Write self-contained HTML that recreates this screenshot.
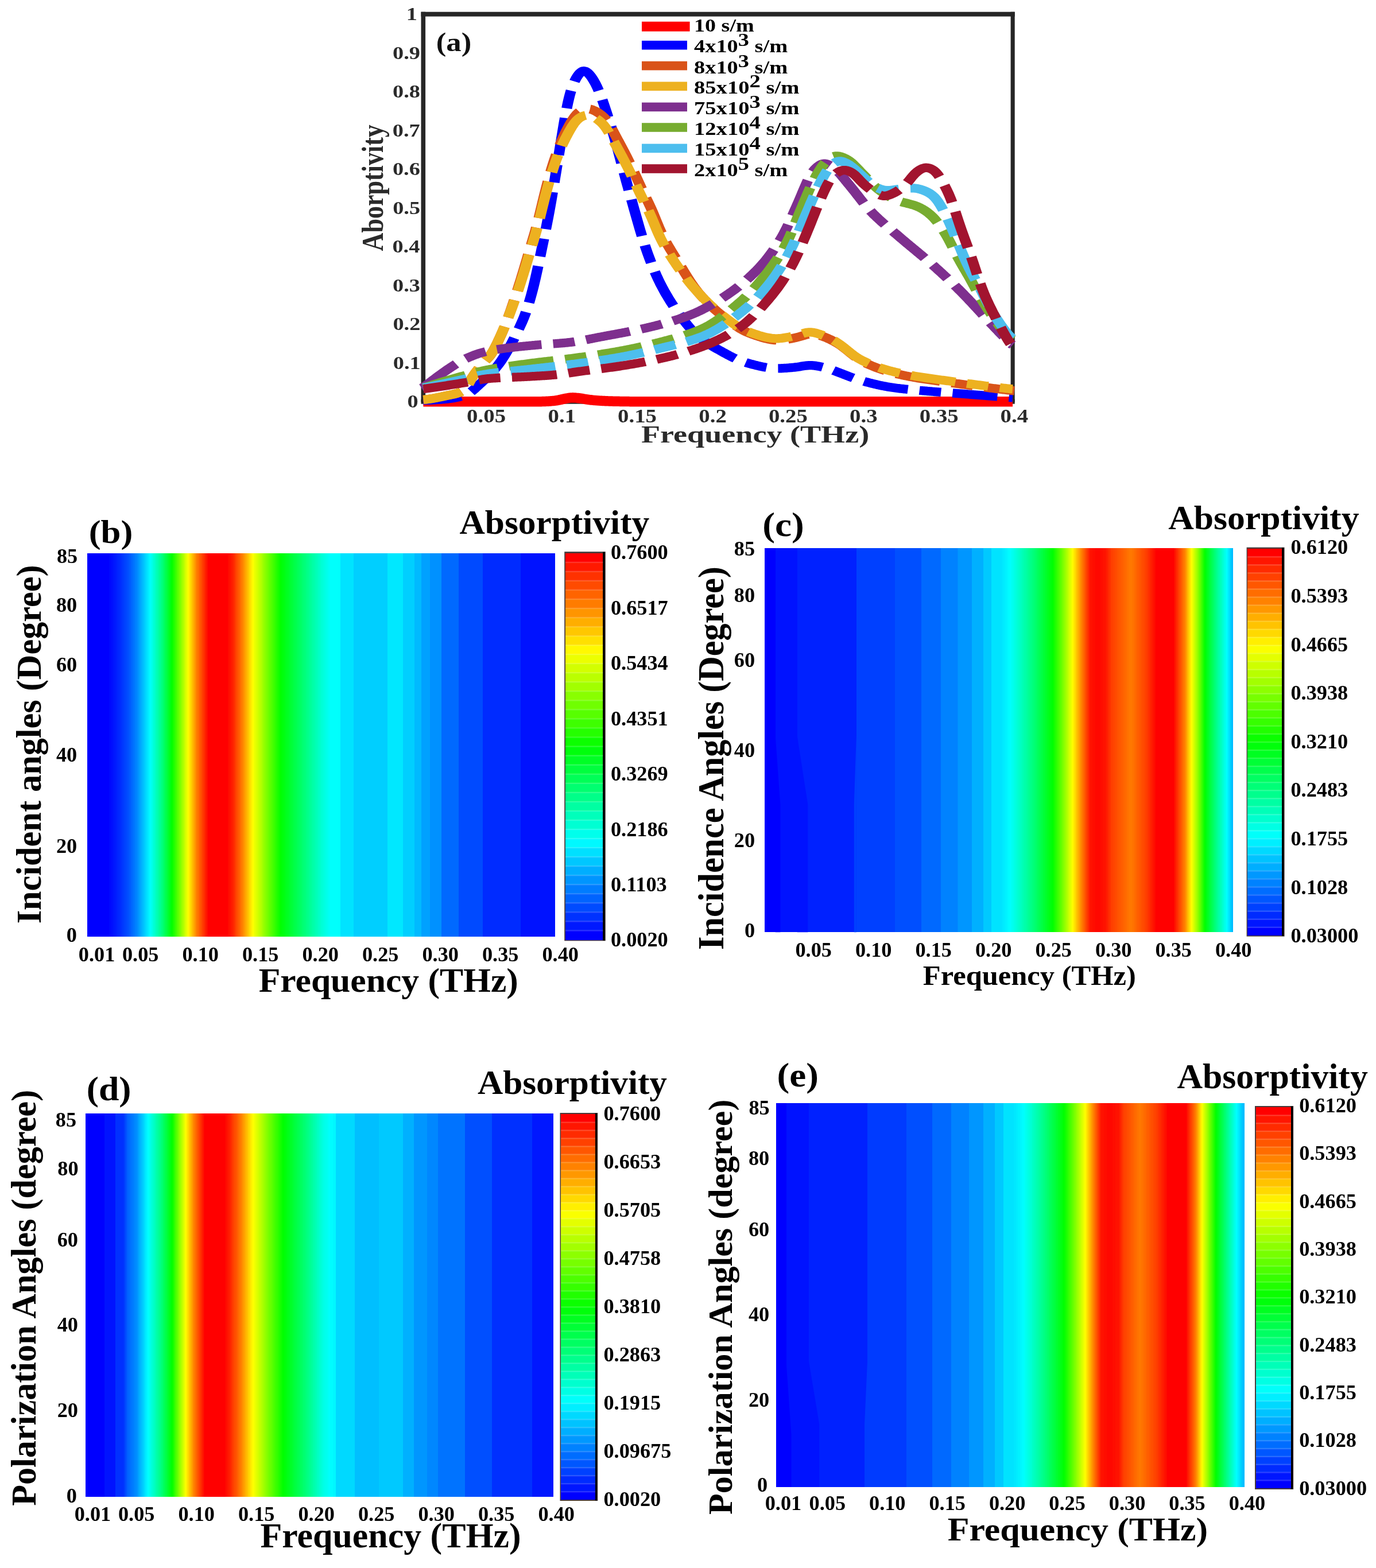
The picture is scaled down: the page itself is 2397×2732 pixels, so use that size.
<!DOCTYPE html>
<html lang="en"><head><meta charset="utf-8"><title>Absorptivity figure</title>
<style>
html,body{margin:0;padding:0;background:#fff;}
svg{display:block;font-family:"Liberation Serif",serif;font-weight:bold;}
</style></head>
<body>
<svg width="2397" height="2732" viewBox="0 0 2397 2732">
<rect width="2397" height="2732" fill="#fff"/>
<g fill="#262626">
<rect x="733.5" y="20.7" width="1034.2" height="8"/>
<rect x="733.5" y="20.7" width="7.6" height="680"/>
<rect x="1760.6" y="20.7" width="7.1" height="680"/>
<rect x="733.5" y="695.7" width="1034.2" height="8"/>
</g>
<g transform="scale(1.2,1)" stroke-linecap="butt" stroke-linejoin="round">
<path d="M614.50,699.70 L615.93,699.70 L617.36,699.70 L618.78,699.70 L620.21,699.70 L621.64,699.70 L623.07,699.70 L624.50,699.70 L625.93,699.70 L627.35,699.70 L628.78,699.70 L630.21,699.70 L631.64,699.70 L633.07,699.70 L634.49,699.70 L635.92,699.70 L637.35,699.70 L638.78,699.70 L640.21,699.70 L641.64,699.70 L643.06,699.70 L644.49,699.70 L645.92,699.70 L647.35,699.70 L648.78,699.70 L650.21,699.70 L651.63,699.70 L653.06,699.70 L654.49,699.70 L655.92,699.70 L657.35,699.70 L658.77,699.70 L660.20,699.70 L661.63,699.70 L663.06,699.70 L664.49,699.70 L665.92,699.70 L667.34,699.70 L668.77,699.70 L670.20,699.70 L671.63,699.70 L673.06,699.70 L674.48,699.70 L675.91,699.70 L677.34,699.70 L678.77,699.70 L680.20,699.70 L681.63,699.70 L683.05,699.70 L684.48,699.70 L685.91,699.70 L687.34,699.70 L688.77,699.70 L690.20,699.70 L691.62,699.70 L693.05,699.70 L694.48,699.70 L695.91,699.70 L697.34,699.70 L698.76,699.70 L700.19,699.70 L701.62,699.70 L703.05,699.70 L704.48,699.70 L705.91,699.70 L707.33,699.70 L708.76,699.70 L710.19,699.70 L711.62,699.70 L713.05,699.70 L714.47,699.70 L715.90,699.70 L717.33,699.70 L718.76,699.70 L720.19,699.70 L721.62,699.70 L723.04,699.70 L724.47,699.70 L725.90,699.70 L727.33,699.70 L728.76,699.70 L730.19,699.70 L731.61,699.70 L733.04,699.70 L734.47,699.70 L735.90,699.70 L737.33,699.70 L738.75,699.70 L740.18,699.70 L741.61,699.70 L743.04,699.70 L744.47,699.70 L745.90,699.70 L747.32,699.70 L748.75,699.70 L750.18,699.70 L751.61,699.70 L753.04,699.70 L754.46,699.70 L755.89,699.70 L757.32,699.70 L758.75,699.70 L760.18,699.70 L761.61,699.70 L763.03,699.70 L764.46,699.70 L765.89,699.70 L767.32,699.70 L768.75,699.70 L770.18,699.70 L771.60,699.70 L773.03,699.70 L774.46,699.70 L775.89,699.70 L777.32,699.70 L778.74,699.70 L780.17,699.69 L781.60,699.69 L783.03,699.67 L784.46,699.66 L785.89,699.63 L787.31,699.59 L788.74,699.55 L790.17,699.49 L791.60,699.43 L793.03,699.35 L794.45,699.26 L795.88,699.17 L797.31,699.06 L798.74,698.95 L800.17,698.82 L801.60,698.67 L803.02,698.51 L804.45,698.32 L805.88,698.10 L807.31,697.85 L808.74,697.57 L810.17,697.26 L811.59,696.92 L813.02,696.56 L814.45,696.18 L815.88,695.81 L817.31,695.43 L818.73,695.06 L820.16,694.69 L821.59,694.34 L823.02,694.00 L824.45,693.69 L825.88,693.41 L827.30,693.18 L828.73,693.01 L830.16,692.90 L831.59,692.87 L833.02,692.90 L834.44,692.99 L835.87,693.14 L837.30,693.32 L838.73,693.53 L840.16,693.75 L841.59,693.99 L843.01,694.24 L844.44,694.49 L845.87,694.74 L847.30,695.00 L848.73,695.27 L850.16,695.53 L851.58,695.79 L853.01,696.05 L854.44,696.30 L855.87,696.54 L857.30,696.76 L858.72,696.97 L860.15,697.16 L861.58,697.33 L863.01,697.49 L864.44,697.63 L865.87,697.76 L867.29,697.88 L868.72,698.00 L870.15,698.11 L871.58,698.21 L873.01,698.31 L874.43,698.40 L875.86,698.49 L877.29,698.58 L878.72,698.66 L880.15,698.74 L881.58,698.81 L883.00,698.88 L884.43,698.94 L885.86,699.00 L887.29,699.05 L888.72,699.10 L890.15,699.14 L891.57,699.19 L893.00,699.22 L894.43,699.26 L895.86,699.29 L897.29,699.33 L898.71,699.36 L900.14,699.39 L901.57,699.42 L903.00,699.45 L904.43,699.48 L905.86,699.50 L907.28,699.53 L908.71,699.55 L910.14,699.57 L911.57,699.59 L913.00,699.61 L914.42,699.63 L915.85,699.64 L917.28,699.66 L918.71,699.67 L920.14,699.68 L921.57,699.68 L922.99,699.69 L924.42,699.69 L925.85,699.70 L927.28,699.70 L928.71,699.70 L930.14,699.70 L931.56,699.70 L932.99,699.70 L934.42,699.70 L935.85,699.70 L937.28,699.70 L938.70,699.70 L940.13,699.70 L941.56,699.70 L942.99,699.70 L944.42,699.70 L945.85,699.70 L947.27,699.70 L948.70,699.70 L950.13,699.70 L951.56,699.70 L952.99,699.70 L954.41,699.70 L955.84,699.70 L957.27,699.70 L958.70,699.70 L960.13,699.70 L961.56,699.70 L962.98,699.70 L964.41,699.70 L965.84,699.70 L967.27,699.70 L968.70,699.70 L970.13,699.70 L971.55,699.70 L972.98,699.70 L974.41,699.70 L975.84,699.70 L977.27,699.70 L978.69,699.70 L980.12,699.70 L981.55,699.70 L982.98,699.70 L984.41,699.70 L985.84,699.70 L987.26,699.70 L988.69,699.70 L990.12,699.70 L991.55,699.70 L992.98,699.70 L994.40,699.70 L995.83,699.70 L997.26,699.70 L998.69,699.70 L1000.12,699.70 L1001.55,699.70 L1002.97,699.70 L1004.40,699.70 L1005.83,699.70 L1007.26,699.70 L1008.69,699.70 L1010.12,699.70 L1011.54,699.70 L1012.97,699.70 L1014.40,699.70 L1015.83,699.70 L1017.26,699.70 L1018.68,699.70 L1020.11,699.70 L1021.54,699.70 L1022.97,699.70 L1024.40,699.70 L1025.83,699.70 L1027.25,699.70 L1028.68,699.70 L1030.11,699.70 L1031.54,699.70 L1032.97,699.70 L1034.39,699.70 L1035.82,699.70 L1037.25,699.70 L1038.68,699.70 L1040.11,699.70 L1041.54,699.70 L1042.96,699.70 L1044.39,699.70 L1045.82,699.70 L1047.25,699.70 L1048.68,699.70 L1050.11,699.70 L1051.53,699.70 L1052.96,699.70 L1054.39,699.70 L1055.82,699.70 L1057.25,699.70 L1058.67,699.70 L1060.10,699.70 L1061.53,699.70 L1062.96,699.70 L1064.39,699.70 L1065.82,699.70 L1067.24,699.70 L1068.67,699.70 L1070.10,699.70 L1071.53,699.70 L1072.96,699.70 L1074.38,699.70 L1075.81,699.70 L1077.24,699.70 L1078.67,699.70 L1080.10,699.70 L1081.53,699.70 L1082.95,699.70 L1084.38,699.70 L1085.81,699.70 L1087.24,699.70 L1088.67,699.70 L1090.10,699.70 L1091.52,699.70 L1092.95,699.70 L1094.38,699.70 L1095.81,699.70 L1097.24,699.70 L1098.66,699.70 L1100.09,699.70 L1101.52,699.70 L1102.95,699.70 L1104.38,699.70 L1105.81,699.70 L1107.23,699.70 L1108.66,699.70 L1110.09,699.70 L1111.52,699.70 L1112.95,699.70 L1114.37,699.70 L1115.80,699.70 L1117.23,699.70 L1118.66,699.70 L1120.09,699.70 L1121.52,699.70 L1122.94,699.70 L1124.37,699.70 L1125.80,699.70 L1127.23,699.70 L1128.66,699.70 L1130.09,699.70 L1131.51,699.70 L1132.94,699.70 L1134.37,699.70 L1135.80,699.70 L1137.23,699.70 L1138.65,699.70 L1140.08,699.70 L1141.51,699.70 L1142.94,699.70 L1144.37,699.70 L1145.80,699.70 L1147.22,699.70 L1148.65,699.70 L1150.08,699.70 L1151.51,699.70 L1152.94,699.70 L1154.36,699.70 L1155.79,699.70 L1157.22,699.70 L1158.65,699.70 L1160.08,699.70 L1161.51,699.70 L1162.93,699.70 L1164.36,699.70 L1165.79,699.70 L1167.22,699.70 L1168.65,699.70 L1170.08,699.70 L1171.50,699.70 L1172.93,699.70 L1174.36,699.70 L1175.79,699.70 L1177.22,699.70 L1178.64,699.70 L1180.07,699.70 L1181.50,699.70 L1182.93,699.70 L1184.36,699.70 L1185.79,699.70 L1187.21,699.70 L1188.64,699.70 L1190.07,699.70 L1191.50,699.70 L1192.93,699.70 L1194.35,699.70 L1195.78,699.70 L1197.21,699.70 L1198.64,699.70 L1200.07,699.70 L1201.50,699.70 L1202.92,699.70 L1204.35,699.70 L1205.78,699.70 L1207.21,699.70 L1208.64,699.70 L1210.07,699.70 L1211.49,699.70 L1212.92,699.70 L1214.35,699.70 L1215.78,699.70 L1217.21,699.70 L1218.63,699.70 L1220.06,699.70 L1221.49,699.70 L1222.92,699.70 L1224.35,699.70 L1225.78,699.70 L1227.20,699.70 L1228.63,699.70 L1230.06,699.70 L1231.49,699.70 L1232.92,699.70 L1234.34,699.70 L1235.77,699.70 L1237.20,699.70 L1238.63,699.70 L1240.06,699.70 L1241.49,699.70 L1242.91,699.70 L1244.34,699.70 L1245.77,699.70 L1247.20,699.70 L1248.63,699.70 L1250.06,699.70 L1251.48,699.70 L1252.91,699.70 L1254.34,699.70 L1255.77,699.70 L1257.20,699.70 L1258.62,699.70 L1260.05,699.70 L1261.48,699.70 L1262.91,699.70 L1264.34,699.70 L1265.77,699.70 L1267.19,699.70 L1268.62,699.70 L1270.05,699.70 L1271.48,699.70 L1272.91,699.70 L1274.33,699.70 L1275.76,699.70 L1277.19,699.70 L1278.62,699.70 L1280.05,699.70 L1281.48,699.70 L1282.90,699.70 L1284.33,699.70 L1285.76,699.70 L1287.19,699.70 L1288.62,699.70 L1290.05,699.70 L1291.47,699.70 L1292.90,699.70 L1294.33,699.70 L1295.76,699.70 L1297.19,699.70 L1298.61,699.70 L1300.04,699.70 L1301.47,699.70 L1302.90,699.70 L1304.33,699.70 L1305.76,699.70 L1307.18,699.70 L1308.61,699.70 L1310.04,699.70 L1311.47,699.70 L1312.90,699.70 L1314.32,699.70 L1315.75,699.70 L1317.18,699.70 L1318.61,699.70 L1320.04,699.70 L1321.47,699.70 L1322.89,699.70 L1324.32,699.70 L1325.75,699.70 L1327.18,699.70 L1328.61,699.70 L1330.04,699.70 L1331.46,699.70 L1332.89,699.70 L1334.32,699.70 L1335.75,699.70 L1337.18,699.70 L1338.60,699.70 L1340.03,699.70 L1341.46,699.70 L1342.89,699.70 L1344.32,699.70 L1345.75,699.70 L1347.17,699.70 L1348.60,699.70 L1350.03,699.70 L1351.46,699.70 L1352.89,699.70 L1354.31,699.70 L1355.74,699.70 L1357.17,699.70 L1358.60,699.70 L1360.03,699.70 L1361.46,699.70 L1362.88,699.70 L1364.31,699.70 L1365.74,699.70 L1367.17,699.70 L1368.60,699.70 L1370.03,699.70 L1371.45,699.70 L1372.88,699.70 L1374.31,699.70 L1375.74,699.70 L1377.17,699.70 L1378.59,699.70 L1380.02,699.70 L1381.45,699.70 L1382.88,699.70 L1384.31,699.70 L1385.74,699.70 L1387.16,699.70 L1388.59,699.70 L1390.02,699.70 L1391.45,699.70 L1392.88,699.70 L1394.30,699.70 L1395.73,699.70 L1397.16,699.70 L1398.59,699.70 L1400.02,699.70 L1401.45,699.70 L1402.87,699.70 L1404.30,699.70 L1405.73,699.70 L1407.16,699.70 L1408.59,699.70 L1410.02,699.70 L1411.44,699.70 L1412.87,699.70 L1414.30,699.70 L1415.73,699.70 L1417.16,699.70 L1418.58,699.70 L1420.01,699.70 L1421.44,699.70 L1422.87,699.70 L1424.30,699.70 L1425.73,699.70 L1427.15,699.70 L1428.58,699.70 L1430.01,699.70 L1431.44,699.70 L1432.87,699.70 L1434.29,699.70 L1435.72,699.70 L1437.15,699.70 L1438.58,699.70 L1440.01,699.70 L1441.44,699.70 L1442.86,699.70 L1444.29,699.70 L1445.72,699.70 L1447.15,699.70 L1448.58,699.70 L1450.01,699.70 L1451.43,699.70 L1452.86,699.70 L1454.29,699.70 L1455.72,699.70 L1457.15,699.70 L1458.57,699.70 L1460.00,699.70 L1461.43,699.70 L1462.86,699.70 L1464.29,699.70 L1465.72,699.70 L1467.14,699.70 L1468.57,699.70 L1470.00,699.70" fill="none" stroke="#ff0000" stroke-width="17.5"/>
<path d="M614.50,697.48 L615.93,697.46 L617.36,697.44 L618.78,697.41 L620.21,697.38 L621.64,697.33 L623.07,697.28 L624.50,697.21 L625.93,697.14 L627.35,697.06 L628.78,696.98 L630.21,696.88 L631.64,696.78 L633.07,696.67 L634.49,696.56 L635.92,696.43 L637.35,696.31 L638.78,696.18 L640.21,696.04 L641.64,695.90 L643.06,695.75 L644.49,695.60 L645.92,695.44 L647.35,695.27 L648.78,695.10 L650.21,694.92 L651.63,694.72 L653.06,694.51 L654.49,694.27 L655.92,694.02 L657.35,693.75 L658.77,693.45 L660.20,693.13 L661.63,692.78 L663.06,692.41 L664.49,692.02 L665.92,691.60 L667.34,691.15 L668.77,690.68 L670.20,690.19 L671.63,689.66 L673.06,689.10 L674.48,688.49 L675.91,687.84 L677.34,687.11 L678.77,686.31 L680.20,685.41 L681.63,684.39 L683.05,683.27 L684.48,682.04 L685.91,680.71 L687.34,679.29 L688.77,677.81 L690.20,676.28 L691.62,674.72 L693.05,673.14 L694.48,671.56 L695.91,669.98 L697.34,668.40 L698.76,666.82 L700.19,665.24 L701.62,663.66 L703.05,662.06 L704.48,660.44 L705.91,658.81 L707.33,657.14 L708.76,655.45 L710.19,653.73 L711.62,651.97 L713.05,650.17 L714.47,648.33 L715.90,646.43 L717.33,644.49 L718.76,642.49 L720.19,640.43 L721.62,638.30 L723.04,636.10 L724.47,633.83 L725.90,631.47 L727.33,629.02 L728.76,626.49 L730.19,623.87 L731.61,621.17 L733.04,618.39 L734.47,615.54 L735.90,612.61 L737.33,609.62 L738.75,606.56 L740.18,603.45 L741.61,600.29 L743.04,597.08 L744.47,593.83 L745.90,590.53 L747.32,587.20 L748.75,583.82 L750.18,580.41 L751.61,576.94 L753.04,573.41 L754.46,569.81 L755.89,566.11 L757.32,562.29 L758.75,558.34 L760.18,554.22 L761.61,549.90 L763.03,545.36 L764.46,540.57 L765.89,535.51 L767.32,530.15 L768.75,524.50 L770.18,518.56 L771.60,512.33 L773.03,505.82 L774.46,499.05 L775.89,492.01 L777.32,484.72 L778.74,477.17 L780.17,469.39 L781.60,461.41 L783.03,453.30 L784.46,445.09 L785.89,436.86 L787.31,428.63 L788.74,420.41 L790.17,412.18 L791.60,403.88 L793.03,395.44 L794.45,386.81 L795.88,377.93 L797.31,368.77 L798.74,359.34 L800.17,349.66 L801.60,339.75 L803.02,329.66 L804.45,319.42 L805.88,309.06 L807.31,298.64 L808.74,288.16 L810.17,277.65 L811.59,267.14 L813.02,256.62 L814.45,246.12 L815.88,235.66 L817.31,225.30 L818.73,215.12 L820.16,205.26 L821.59,195.84 L823.02,187.01 L824.45,178.86 L825.88,171.46 L827.30,164.78 L828.73,158.81 L830.16,153.48 L831.59,148.73 L833.02,144.51 L834.44,140.75 L835.87,137.42 L837.30,134.46 L838.73,131.85 L840.16,129.56 L841.59,127.61 L843.01,126.02 L844.44,124.82 L845.87,124.04 L847.30,123.70 L848.73,123.81 L850.16,124.36 L851.58,125.31 L853.01,126.62 L854.44,128.25 L855.87,130.13 L857.30,132.25 L858.72,134.58 L860.15,137.10 L861.58,139.84 L863.01,142.79 L864.44,145.96 L865.87,149.37 L867.29,152.99 L868.72,156.84 L870.15,160.91 L871.58,165.18 L873.01,169.66 L874.43,174.33 L875.86,179.18 L877.29,184.17 L878.72,189.28 L880.15,194.48 L881.58,199.75 L883.00,205.06 L884.43,210.43 L885.86,215.85 L887.29,221.34 L888.72,226.91 L890.15,232.58 L891.57,238.35 L893.00,244.25 L894.43,250.26 L895.86,256.40 L897.29,262.66 L898.71,269.00 L900.14,275.40 L901.57,281.84 L903.00,288.28 L904.43,294.71 L905.86,301.09 L907.28,307.43 L908.71,313.71 L910.14,319.94 L911.57,326.12 L913.00,332.27 L914.42,338.38 L915.85,344.46 L917.28,350.53 L918.71,356.59 L920.14,362.64 L921.57,368.69 L922.99,374.74 L924.42,380.78 L925.85,386.80 L927.28,392.77 L928.71,398.68 L930.14,404.49 L931.56,410.18 L932.99,415.73 L934.42,421.14 L935.85,426.39 L937.28,431.50 L938.70,436.46 L940.13,441.30 L941.56,446.02 L942.99,450.63 L944.42,455.14 L945.85,459.55 L947.27,463.86 L948.70,468.07 L950.13,472.17 L951.56,476.16 L952.99,480.03 L954.41,483.80 L955.84,487.45 L957.27,491.00 L958.70,494.45 L960.13,497.79 L961.56,501.05 L962.98,504.23 L964.41,507.33 L965.84,510.37 L967.27,513.33 L968.70,516.24 L970.13,519.08 L971.55,521.87 L972.98,524.60 L974.41,527.28 L975.84,529.91 L977.27,532.50 L978.69,535.04 L980.12,537.54 L981.55,540.00 L982.98,542.43 L984.41,544.82 L985.84,547.18 L987.26,549.52 L988.69,551.83 L990.12,554.12 L991.55,556.38 L992.98,558.61 L994.40,560.82 L995.83,563.00 L997.26,565.14 L998.69,567.24 L1000.12,569.30 L1001.55,571.31 L1002.97,573.26 L1004.40,575.16 L1005.83,577.00 L1007.26,578.78 L1008.69,580.49 L1010.12,582.14 L1011.54,583.72 L1012.97,585.24 L1014.40,586.70 L1015.83,588.12 L1017.26,589.48 L1018.68,590.81 L1020.11,592.10 L1021.54,593.35 L1022.97,594.57 L1024.40,595.76 L1025.83,596.92 L1027.25,598.05 L1028.68,599.16 L1030.11,600.25 L1031.54,601.31 L1032.97,602.36 L1034.39,603.39 L1035.82,604.40 L1037.25,605.40 L1038.68,606.39 L1040.11,607.36 L1041.54,608.33 L1042.96,609.30 L1044.39,610.26 L1045.82,611.21 L1047.25,612.17 L1048.68,613.12 L1050.11,614.06 L1051.53,615.00 L1052.96,615.94 L1054.39,616.87 L1055.82,617.78 L1057.25,618.69 L1058.67,619.59 L1060.10,620.47 L1061.53,621.34 L1062.96,622.20 L1064.39,623.04 L1065.82,623.85 L1067.24,624.65 L1068.67,625.43 L1070.10,626.19 L1071.53,626.92 L1072.96,627.62 L1074.38,628.30 L1075.81,628.95 L1077.24,629.57 L1078.67,630.17 L1080.10,630.73 L1081.53,631.27 L1082.95,631.79 L1084.38,632.29 L1085.81,632.78 L1087.24,633.26 L1088.67,633.73 L1090.10,634.19 L1091.52,634.65 L1092.95,635.11 L1094.38,635.56 L1095.81,636.00 L1097.24,636.43 L1098.66,636.86 L1100.09,637.28 L1101.52,637.68 L1102.95,638.08 L1104.38,638.46 L1105.81,638.83 L1107.23,639.18 L1108.66,639.52 L1110.09,639.83 L1111.52,640.13 L1112.95,640.41 L1114.37,640.67 L1115.80,640.91 L1117.23,641.12 L1118.66,641.31 L1120.09,641.47 L1121.52,641.61 L1122.94,641.72 L1124.37,641.80 L1125.80,641.86 L1127.23,641.90 L1128.66,641.90 L1130.09,641.89 L1131.51,641.86 L1132.94,641.81 L1134.37,641.75 L1135.80,641.67 L1137.23,641.59 L1138.65,641.49 L1140.08,641.38 L1141.51,641.26 L1142.94,641.13 L1144.37,641.00 L1145.80,640.86 L1147.22,640.72 L1148.65,640.57 L1150.08,640.41 L1151.51,640.25 L1152.94,640.08 L1154.36,639.89 L1155.79,639.68 L1157.22,639.45 L1158.65,639.21 L1160.08,638.94 L1161.51,638.66 L1162.93,638.37 L1164.36,638.09 L1165.79,637.80 L1167.22,637.54 L1168.65,637.29 L1170.08,637.08 L1171.50,636.90 L1172.93,636.76 L1174.36,636.68 L1175.79,636.64 L1177.22,636.65 L1178.64,636.72 L1180.07,636.83 L1181.50,636.98 L1182.93,637.18 L1184.36,637.41 L1185.79,637.67 L1187.21,637.96 L1188.64,638.27 L1190.07,638.60 L1191.50,638.95 L1192.93,639.31 L1194.35,639.70 L1195.78,640.11 L1197.21,640.54 L1198.64,641.00 L1200.07,641.50 L1201.50,642.03 L1202.92,642.58 L1204.35,643.16 L1205.78,643.76 L1207.21,644.37 L1208.64,644.99 L1210.07,645.61 L1211.49,646.24 L1212.92,646.87 L1214.35,647.50 L1215.78,648.13 L1217.21,648.77 L1218.63,649.42 L1220.06,650.08 L1221.49,650.74 L1222.92,651.41 L1224.35,652.08 L1225.78,652.75 L1227.20,653.42 L1228.63,654.10 L1230.06,654.77 L1231.49,655.44 L1232.92,656.10 L1234.34,656.75 L1235.77,657.39 L1237.20,658.03 L1238.63,658.65 L1240.06,659.25 L1241.49,659.84 L1242.91,660.42 L1244.34,660.97 L1245.77,661.51 L1247.20,662.04 L1248.63,662.55 L1250.06,663.04 L1251.48,663.53 L1252.91,664.01 L1254.34,664.48 L1255.77,664.95 L1257.20,665.41 L1258.62,665.87 L1260.05,666.32 L1261.48,666.76 L1262.91,667.20 L1264.34,667.64 L1265.77,668.07 L1267.19,668.49 L1268.62,668.91 L1270.05,669.32 L1271.48,669.72 L1272.91,670.12 L1274.33,670.51 L1275.76,670.89 L1277.19,671.27 L1278.62,671.63 L1280.05,671.99 L1281.48,672.34 L1282.90,672.68 L1284.33,673.01 L1285.76,673.33 L1287.19,673.64 L1288.62,673.95 L1290.05,674.24 L1291.47,674.52 L1292.90,674.79 L1294.33,675.05 L1295.76,675.31 L1297.19,675.55 L1298.61,675.79 L1300.04,676.01 L1301.47,676.24 L1302.90,676.45 L1304.33,676.66 L1305.76,676.86 L1307.18,677.06 L1308.61,677.26 L1310.04,677.45 L1311.47,677.63 L1312.90,677.81 L1314.32,677.99 L1315.75,678.16 L1317.18,678.33 L1318.61,678.50 L1320.04,678.66 L1321.47,678.82 L1322.89,678.98 L1324.32,679.14 L1325.75,679.29 L1327.18,679.45 L1328.61,679.60 L1330.04,679.75 L1331.46,679.90 L1332.89,680.04 L1334.32,680.19 L1335.75,680.34 L1337.18,680.49 L1338.60,680.64 L1340.03,680.78 L1341.46,680.93 L1342.89,681.08 L1344.32,681.23 L1345.75,681.38 L1347.17,681.53 L1348.60,681.67 L1350.03,681.82 L1351.46,681.97 L1352.89,682.11 L1354.31,682.25 L1355.74,682.40 L1357.17,682.54 L1358.60,682.68 L1360.03,682.82 L1361.46,682.96 L1362.88,683.09 L1364.31,683.23 L1365.74,683.37 L1367.17,683.50 L1368.60,683.63 L1370.03,683.77 L1371.45,683.90 L1372.88,684.03 L1374.31,684.16 L1375.74,684.30 L1377.17,684.43 L1378.59,684.56 L1380.02,684.69 L1381.45,684.81 L1382.88,684.94 L1384.31,685.07 L1385.74,685.20 L1387.16,685.33 L1388.59,685.46 L1390.02,685.58 L1391.45,685.71 L1392.88,685.84 L1394.30,685.97 L1395.73,686.10 L1397.16,686.22 L1398.59,686.35 L1400.02,686.48 L1401.45,686.61 L1402.87,686.74 L1404.30,686.87 L1405.73,687.00 L1407.16,687.13 L1408.59,687.26 L1410.02,687.39 L1411.44,687.52 L1412.87,687.65 L1414.30,687.78 L1415.73,687.91 L1417.16,688.05 L1418.58,688.18 L1420.01,688.31 L1421.44,688.45 L1422.87,688.58 L1424.30,688.71 L1425.73,688.85 L1427.15,688.98 L1428.58,689.12 L1430.01,689.25 L1431.44,689.38 L1432.87,689.52 L1434.29,689.65 L1435.72,689.79 L1437.15,689.92 L1438.58,690.05 L1440.01,690.19 L1441.44,690.32 L1442.86,690.45 L1444.29,690.59 L1445.72,690.72 L1447.15,690.86 L1448.58,690.99 L1450.01,691.12 L1451.43,691.26 L1452.86,691.39 L1454.29,691.53 L1455.72,691.66 L1457.15,691.79 L1458.57,691.93 L1460.00,692.06 L1461.43,692.19 L1462.86,692.32 L1464.29,692.45 L1465.72,692.57 L1467.14,692.68 L1468.57,692.77 L1470.00,692.85" fill="none" stroke="#0000ff" stroke-width="15.3" stroke-dasharray="65.3 16.9 31.4 16.9" stroke-dashoffset="10"/>
<path d="M614.50,696.37 L615.93,696.25 L617.36,696.10 L618.80,695.92 L620.23,695.71 L621.66,695.48 L623.09,695.24 L624.53,694.98 L625.96,694.71 L627.39,694.43 L628.82,694.13 L630.26,693.83 L631.69,693.51 L633.12,693.19 L634.55,692.86 L635.99,692.52 L637.42,692.17 L638.85,691.81 L640.28,691.45 L641.72,691.08 L643.15,690.72 L644.58,690.35 L646.01,689.98 L647.44,689.62 L648.88,689.27 L650.31,688.91 L651.74,688.57 L653.17,688.22 L654.61,687.87 L656.04,687.51 L657.47,687.14 L658.90,686.75 L660.34,686.33 L661.77,685.88 L663.20,685.39 L664.63,684.86 L666.07,684.28 L667.50,683.64 L668.93,682.91 L670.36,682.08 L671.80,681.10 L673.23,679.89 L674.66,678.39 L676.09,676.51 L677.53,674.23 L678.96,671.55 L680.39,668.56 L681.82,665.41 L683.25,662.26 L684.69,659.24 L686.12,656.42 L687.55,653.83 L688.98,651.41 L690.42,649.10 L691.85,646.83 L693.28,644.57 L694.71,642.29 L696.15,640.00 L697.58,637.76 L699.01,635.59 L700.44,633.54 L701.88,631.63 L703.31,629.85 L704.74,628.15 L706.17,626.49 L707.61,624.78 L709.04,622.97 L710.47,620.98 L711.90,618.79 L713.33,616.36 L714.77,613.69 L716.20,610.79 L717.63,607.70 L719.06,604.44 L720.50,601.04 L721.93,597.54 L723.36,593.95 L724.79,590.28 L726.23,586.54 L727.66,582.71 L729.09,578.79 L730.52,574.77 L731.96,570.65 L733.39,566.41 L734.82,562.06 L736.25,557.60 L737.69,553.03 L739.12,548.35 L740.55,543.57 L741.98,538.69 L743.41,533.72 L744.85,528.68 L746.28,523.56 L747.71,518.38 L749.14,513.13 L750.58,507.83 L752.01,502.48 L753.44,497.06 L754.87,491.59 L756.31,486.05 L757.74,480.44 L759.17,474.78 L760.60,469.06 L762.04,463.29 L763.47,457.51 L764.90,451.71 L766.33,445.92 L767.77,440.14 L769.20,434.39 L770.63,428.66 L772.06,422.93 L773.49,417.19 L774.93,411.39 L776.36,405.49 L777.79,399.44 L779.22,393.21 L780.66,386.75 L782.09,380.07 L783.52,373.19 L784.95,366.14 L786.39,359.00 L787.82,351.84 L789.25,344.75 L790.68,337.78 L792.12,330.97 L793.55,324.35 L794.98,317.91 L796.41,311.64 L797.85,305.56 L799.28,299.64 L800.71,293.90 L802.14,288.34 L803.58,282.96 L805.01,277.76 L806.44,272.75 L807.87,267.90 L809.30,263.22 L810.74,258.71 L812.17,254.34 L813.60,250.14 L815.03,246.08 L816.47,242.17 L817.90,238.40 L819.33,234.76 L820.76,231.24 L822.20,227.82 L823.63,224.49 L825.06,221.24 L826.49,218.07 L827.93,215.00 L829.36,212.05 L830.79,209.23 L832.22,206.58 L833.66,204.12 L835.09,201.87 L836.52,199.85 L837.95,198.05 L839.38,196.47 L840.82,195.10 L842.25,193.91 L843.68,192.88 L845.11,192.00 L846.55,191.25 L847.98,190.65 L849.41,190.19 L850.84,189.87 L852.28,189.71 L853.71,189.70 L855.14,189.84 L856.57,190.11 L858.01,190.52 L859.44,191.05 L860.87,191.69 L862.30,192.43 L863.74,193.26 L865.17,194.18 L866.60,195.18 L868.03,196.25 L869.46,197.39 L870.90,198.59 L872.33,199.88 L873.76,201.25 L875.19,202.74 L876.63,204.36 L878.06,206.16 L879.49,208.16 L880.92,210.37 L882.36,212.80 L883.79,215.44 L885.22,218.25 L886.65,221.22 L888.09,224.30 L889.52,227.47 L890.95,230.68 L892.38,233.90 L893.82,237.13 L895.25,240.34 L896.68,243.54 L898.11,246.73 L899.55,249.92 L900.98,253.11 L902.41,256.33 L903.84,259.57 L905.27,262.84 L906.71,266.15 L908.14,269.49 L909.57,272.86 L911.00,276.27 L912.44,279.73 L913.87,283.22 L915.30,286.76 L916.73,290.36 L918.17,294.00 L919.60,297.69 L921.03,301.42 L922.46,305.19 L923.90,308.97 L925.33,312.77 L926.76,316.55 L928.19,320.32 L929.63,324.06 L931.06,327.76 L932.49,331.41 L933.92,335.02 L935.35,338.58 L936.79,342.12 L938.22,345.64 L939.65,349.16 L941.08,352.72 L942.52,356.32 L943.95,360.00 L945.38,363.78 L946.81,367.66 L948.25,371.65 L949.68,375.74 L951.11,379.92 L952.54,384.14 L953.98,388.37 L955.41,392.56 L956.84,396.67 L958.27,400.67 L959.71,404.52 L961.14,408.22 L962.57,411.77 L964.00,415.17 L965.43,418.44 L966.87,421.61 L968.30,424.68 L969.73,427.68 L971.16,430.60 L972.60,433.48 L974.03,436.32 L975.46,439.12 L976.89,441.90 L978.33,444.68 L979.76,447.44 L981.19,450.21 L982.62,452.99 L984.06,455.78 L985.49,458.58 L986.92,461.39 L988.35,464.21 L989.79,467.03 L991.22,469.84 L992.65,472.65 L994.08,475.44 L995.52,478.22 L996.95,480.97 L998.38,483.69 L999.81,486.37 L1001.24,489.02 L1002.68,491.62 L1004.11,494.17 L1005.54,496.66 L1006.97,499.09 L1008.41,501.45 L1009.84,503.75 L1011.27,505.98 L1012.70,508.14 L1014.14,510.24 L1015.57,512.28 L1017.00,514.27 L1018.43,516.21 L1019.87,518.12 L1021.30,519.98 L1022.73,521.81 L1024.16,523.61 L1025.60,525.38 L1027.03,527.11 L1028.46,528.82 L1029.89,530.50 L1031.32,532.15 L1032.76,533.77 L1034.19,535.37 L1035.62,536.94 L1037.05,538.48 L1038.49,540.00 L1039.92,541.50 L1041.35,542.97 L1042.78,544.42 L1044.22,545.85 L1045.65,547.26 L1047.08,548.65 L1048.51,550.02 L1049.95,551.38 L1051.38,552.72 L1052.81,554.05 L1054.24,555.38 L1055.68,556.69 L1057.11,558.00 L1058.54,559.30 L1059.97,560.59 L1061.40,561.87 L1062.84,563.14 L1064.27,564.39 L1065.70,565.63 L1067.13,566.84 L1068.57,568.03 L1070.00,569.20 L1071.43,570.33 L1072.86,571.43 L1074.30,572.50 L1075.73,573.53 L1077.16,574.51 L1078.59,575.46 L1080.03,576.36 L1081.46,577.21 L1082.89,578.02 L1084.32,578.78 L1085.76,579.51 L1087.19,580.21 L1088.62,580.87 L1090.05,581.52 L1091.48,582.16 L1092.92,582.78 L1094.35,583.40 L1095.78,584.01 L1097.21,584.61 L1098.65,585.20 L1100.08,585.78 L1101.51,586.34 L1102.94,586.89 L1104.38,587.43 L1105.81,587.95 L1107.24,588.46 L1108.67,588.94 L1110.11,589.40 L1111.54,589.84 L1112.97,590.25 L1114.40,590.64 L1115.84,591.01 L1117.27,591.34 L1118.70,591.64 L1120.13,591.92 L1121.57,592.16 L1123.00,592.36 L1124.43,592.53 L1125.86,592.66 L1127.29,592.75 L1128.73,592.81 L1130.16,592.82 L1131.59,592.79 L1133.02,592.72 L1134.46,592.61 L1135.89,592.46 L1137.32,592.28 L1138.75,592.07 L1140.19,591.82 L1141.62,591.55 L1143.05,591.26 L1144.48,590.95 L1145.92,590.63 L1147.35,590.29 L1148.78,589.95 L1150.21,589.59 L1151.65,589.23 L1153.08,588.86 L1154.51,588.49 L1155.94,588.09 L1157.37,587.68 L1158.81,587.24 L1160.24,586.78 L1161.67,586.29 L1163.10,585.77 L1164.54,585.25 L1165.97,584.72 L1167.40,584.20 L1168.83,583.70 L1170.27,583.23 L1171.70,582.81 L1173.13,582.46 L1174.56,582.18 L1176.00,581.98 L1177.43,581.87 L1178.86,581.86 L1180.29,581.94 L1181.73,582.11 L1183.16,582.37 L1184.59,582.70 L1186.02,583.10 L1187.45,583.54 L1188.89,584.03 L1190.32,584.56 L1191.75,585.10 L1193.18,585.67 L1194.62,586.26 L1196.05,586.88 L1197.48,587.52 L1198.91,588.19 L1200.35,588.89 L1201.78,589.62 L1203.21,590.39 L1204.64,591.19 L1206.08,592.01 L1207.51,592.86 L1208.94,593.74 L1210.37,594.64 L1211.81,595.58 L1213.24,596.54 L1214.67,597.53 L1216.10,598.57 L1217.54,599.65 L1218.97,600.78 L1220.40,601.95 L1221.83,603.17 L1223.26,604.44 L1224.70,605.74 L1226.13,607.07 L1227.56,608.43 L1228.99,609.81 L1230.43,611.21 L1231.86,612.61 L1233.29,614.01 L1234.72,615.41 L1236.16,616.80 L1237.59,618.16 L1239.02,619.51 L1240.45,620.82 L1241.89,622.10 L1243.32,623.34 L1244.75,624.53 L1246.18,625.67 L1247.62,626.75 L1249.05,627.79 L1250.48,628.77 L1251.91,629.71 L1253.34,630.62 L1254.78,631.49 L1256.21,632.33 L1257.64,633.16 L1259.07,633.96 L1260.51,634.74 L1261.94,635.51 L1263.37,636.26 L1264.80,637.00 L1266.24,637.72 L1267.67,638.42 L1269.10,639.11 L1270.53,639.78 L1271.97,640.44 L1273.40,641.09 L1274.83,641.72 L1276.26,642.33 L1277.70,642.94 L1279.13,643.52 L1280.56,644.10 L1281.99,644.66 L1283.42,645.21 L1284.86,645.74 L1286.29,646.27 L1287.72,646.78 L1289.15,647.28 L1290.59,647.77 L1292.02,648.25 L1293.45,648.73 L1294.88,649.19 L1296.32,649.64 L1297.75,650.09 L1299.18,650.52 L1300.61,650.95 L1302.05,651.37 L1303.48,651.78 L1304.91,652.19 L1306.34,652.58 L1307.78,652.97 L1309.21,653.36 L1310.64,653.73 L1312.07,654.10 L1313.51,654.46 L1314.94,654.82 L1316.37,655.16 L1317.80,655.51 L1319.23,655.84 L1320.67,656.18 L1322.10,656.50 L1323.53,656.82 L1324.96,657.13 L1326.40,657.44 L1327.83,657.75 L1329.26,658.04 L1330.69,658.34 L1332.13,658.63 L1333.56,658.91 L1334.99,659.19 L1336.42,659.46 L1337.86,659.73 L1339.29,660.00 L1340.72,660.26 L1342.15,660.52 L1343.59,660.78 L1345.02,661.04 L1346.45,661.29 L1347.88,661.54 L1349.31,661.78 L1350.75,662.03 L1352.18,662.27 L1353.61,662.51 L1355.04,662.75 L1356.48,662.99 L1357.91,663.23 L1359.34,663.46 L1360.77,663.70 L1362.21,663.94 L1363.64,664.17 L1365.07,664.41 L1366.50,664.65 L1367.94,664.88 L1369.37,665.12 L1370.80,665.36 L1372.23,665.60 L1373.67,665.83 L1375.10,666.07 L1376.53,666.31 L1377.96,666.55 L1379.39,666.79 L1380.83,667.02 L1382.26,667.26 L1383.69,667.50 L1385.12,667.73 L1386.56,667.97 L1387.99,668.20 L1389.42,668.44 L1390.85,668.67 L1392.29,668.91 L1393.72,669.14 L1395.15,669.37 L1396.58,669.60 L1398.02,669.83 L1399.45,670.07 L1400.88,670.30 L1402.31,670.53 L1403.75,670.76 L1405.18,670.98 L1406.61,671.21 L1408.04,671.44 L1409.47,671.67 L1410.91,671.90 L1412.34,672.12 L1413.77,672.35 L1415.20,672.57 L1416.64,672.80 L1418.07,673.02 L1419.50,673.24 L1420.93,673.47 L1422.37,673.69 L1423.80,673.91 L1425.23,674.13 L1426.66,674.35 L1428.10,674.57 L1429.53,674.79 L1430.96,675.00 L1432.39,675.22 L1433.83,675.44 L1435.26,675.65 L1436.69,675.87 L1438.12,676.08 L1439.56,676.30 L1440.99,676.51 L1442.42,676.72 L1443.85,676.93 L1445.28,677.14 L1446.72,677.35 L1448.15,677.56 L1449.58,677.77 L1451.01,677.98 L1452.45,678.19 L1453.88,678.39 L1455.31,678.60 L1456.74,678.80 L1458.18,679.01 L1459.61,679.21 L1461.04,679.41 L1462.47,679.61 L1463.91,679.81 L1465.34,680.00 L1466.77,680.19 L1468.20,680.37 L1469.64,680.52 L1471.07,680.66 L1472.50,680.77" fill="none" stroke="#d95319" stroke-width="15.3" stroke-dasharray="65.3 16.9 31.4 16.9" stroke-dashoffset="8"/>
<path d="M614.50,696.37 L615.93,696.25 L617.36,696.10 L618.78,695.92 L620.21,695.71 L621.64,695.49 L623.07,695.24 L624.50,694.99 L625.93,694.72 L627.35,694.43 L628.78,694.14 L630.21,693.84 L631.64,693.52 L633.07,693.20 L634.49,692.87 L635.92,692.53 L637.35,692.18 L638.78,691.83 L640.21,691.47 L641.64,691.10 L643.06,690.74 L644.49,690.37 L645.92,690.01 L647.35,689.65 L648.78,689.29 L650.21,688.94 L651.63,688.59 L653.06,688.25 L654.49,687.90 L655.92,687.54 L657.35,687.17 L658.77,686.78 L660.20,686.37 L661.63,685.92 L663.06,685.44 L664.49,684.92 L665.92,684.34 L667.34,683.71 L668.77,683.00 L670.20,682.18 L671.63,681.22 L673.06,680.05 L674.48,678.59 L675.91,676.77 L677.34,674.54 L678.77,671.91 L680.20,668.97 L681.63,665.84 L683.05,662.69 L684.48,659.65 L685.91,656.82 L687.34,654.20 L688.77,651.76 L690.20,649.45 L691.62,647.19 L693.05,644.93 L694.48,642.66 L695.91,640.38 L697.34,638.13 L698.76,635.95 L700.19,633.89 L701.62,631.96 L703.05,630.16 L704.48,628.46 L705.91,626.80 L707.33,625.11 L708.76,623.33 L710.19,621.39 L711.62,619.24 L713.05,616.86 L714.47,614.25 L715.90,611.41 L717.33,608.36 L718.76,605.14 L720.19,601.78 L721.62,598.31 L723.04,594.74 L724.47,591.09 L725.90,587.37 L727.33,583.56 L728.76,579.68 L730.19,575.71 L731.61,571.66 L733.04,567.52 L734.47,563.32 L735.90,559.04 L737.33,554.69 L738.75,550.28 L740.18,545.82 L741.61,541.28 L743.04,536.69 L744.47,532.04 L745.90,527.32 L747.32,522.53 L748.75,517.68 L750.18,512.75 L751.61,507.74 L753.04,502.65 L754.46,497.46 L755.89,492.18 L757.32,486.81 L758.75,481.34 L760.18,475.80 L761.61,470.19 L763.03,464.54 L764.46,458.87 L765.89,453.19 L767.32,447.53 L768.75,441.90 L770.18,436.29 L771.60,430.70 L773.03,425.10 L774.46,419.46 L775.89,413.74 L777.32,407.89 L778.74,401.87 L780.17,395.65 L781.60,389.21 L783.03,382.55 L784.46,375.72 L785.89,368.78 L787.31,361.79 L788.74,354.84 L790.17,348.00 L791.60,341.29 L793.03,334.77 L794.45,328.42 L795.88,322.24 L797.31,316.24 L798.74,310.41 L800.17,304.75 L801.60,299.25 L803.02,293.94 L804.45,288.80 L805.88,283.83 L807.31,279.04 L808.74,274.41 L810.17,269.95 L811.59,265.63 L813.02,261.46 L814.45,257.45 L815.88,253.57 L817.31,249.84 L818.73,246.24 L820.16,242.76 L821.59,239.38 L823.02,236.10 L824.45,232.89 L825.88,229.77 L827.30,226.73 L828.73,223.79 L830.16,220.98 L831.59,218.32 L833.02,215.84 L834.44,213.55 L835.87,211.47 L837.30,209.62 L838.73,207.99 L840.16,206.56 L841.59,205.32 L843.01,204.24 L844.44,203.32 L845.87,202.53 L847.30,201.88 L848.73,201.37 L850.16,201.01 L851.58,200.80 L853.01,200.76 L854.44,200.88 L855.87,201.15 L857.30,201.58 L858.72,202.16 L860.15,202.86 L861.58,203.69 L863.01,204.63 L864.44,205.66 L865.87,206.78 L867.29,207.99 L868.72,209.26 L870.15,210.63 L871.58,212.08 L873.01,213.64 L874.43,215.34 L875.86,217.21 L877.29,219.25 L878.72,221.49 L880.15,223.93 L881.58,226.54 L883.00,229.32 L884.43,232.23 L885.86,235.24 L887.29,238.32 L888.72,241.43 L890.15,244.56 L891.57,247.69 L893.00,250.81 L894.43,253.92 L895.86,257.02 L897.29,260.13 L898.71,263.25 L900.14,266.39 L901.57,269.56 L903.00,272.75 L904.43,275.98 L905.86,279.25 L907.28,282.54 L908.71,285.88 L910.14,289.25 L911.57,292.67 L913.00,296.13 L914.42,299.64 L915.85,303.20 L917.28,306.81 L918.71,310.45 L920.14,314.13 L921.57,317.82 L922.99,321.53 L924.42,325.22 L925.85,328.89 L927.28,332.54 L928.71,336.14 L930.14,339.70 L931.56,343.21 L932.99,346.69 L934.42,350.13 L935.85,353.57 L937.28,357.01 L938.70,360.48 L940.13,364.00 L941.56,367.60 L942.99,371.29 L944.42,375.08 L945.85,378.98 L947.27,382.98 L948.70,387.06 L950.13,391.18 L951.56,395.31 L952.99,399.40 L954.41,403.41 L955.84,407.31 L957.27,411.07 L958.70,414.69 L960.13,418.16 L961.56,421.51 L962.98,424.73 L964.41,427.86 L965.84,430.90 L967.27,433.86 L968.70,436.75 L970.13,439.57 L971.55,442.35 L972.98,445.07 L974.41,447.75 L975.84,450.39 L977.27,453.00 L978.69,455.57 L980.12,458.12 L981.55,460.64 L982.98,463.13 L984.41,465.60 L985.84,468.05 L987.26,470.47 L988.69,472.86 L990.12,475.23 L991.55,477.58 L992.98,479.89 L994.40,482.18 L995.83,484.44 L997.26,486.67 L998.69,488.87 L1000.12,491.04 L1001.55,493.18 L1002.97,495.28 L1004.40,497.35 L1005.83,499.39 L1007.26,501.40 L1008.69,503.38 L1010.12,505.33 L1011.54,507.24 L1012.97,509.14 L1014.40,511.00 L1015.83,512.85 L1017.26,514.67 L1018.68,516.47 L1020.11,518.26 L1021.54,520.02 L1022.97,521.77 L1024.40,523.49 L1025.83,525.20 L1027.25,526.88 L1028.68,528.54 L1030.11,530.19 L1031.54,531.81 L1032.97,533.41 L1034.39,534.98 L1035.82,536.54 L1037.25,538.07 L1038.68,539.58 L1040.11,541.07 L1041.54,542.53 L1042.96,543.97 L1044.39,545.38 L1045.82,546.78 L1047.25,548.15 L1048.68,549.51 L1050.11,550.85 L1051.53,552.17 L1052.96,553.49 L1054.39,554.80 L1055.82,556.10 L1057.25,557.39 L1058.67,558.67 L1060.10,559.93 L1061.53,561.18 L1062.96,562.42 L1064.39,563.63 L1065.82,564.83 L1067.24,565.99 L1068.67,567.13 L1070.10,568.23 L1071.53,569.30 L1072.96,570.33 L1074.38,571.33 L1075.81,572.28 L1077.24,573.18 L1078.67,574.04 L1080.10,574.86 L1081.53,575.63 L1082.95,576.36 L1084.38,577.06 L1085.81,577.73 L1087.24,578.38 L1088.67,579.02 L1090.10,579.65 L1091.52,580.26 L1092.95,580.87 L1094.38,581.47 L1095.81,582.06 L1097.24,582.64 L1098.66,583.21 L1100.09,583.76 L1101.52,584.30 L1102.95,584.82 L1104.38,585.33 L1105.81,585.82 L1107.23,586.28 L1108.66,586.73 L1110.09,587.15 L1111.52,587.54 L1112.95,587.91 L1114.37,588.25 L1115.80,588.56 L1117.23,588.84 L1118.66,589.09 L1120.09,589.31 L1121.52,589.48 L1122.94,589.63 L1124.37,589.73 L1125.80,589.79 L1127.23,589.82 L1128.66,589.80 L1130.09,589.74 L1131.51,589.65 L1132.94,589.51 L1134.37,589.34 L1135.80,589.14 L1137.23,588.90 L1138.65,588.64 L1140.08,588.36 L1141.51,588.06 L1142.94,587.74 L1144.37,587.41 L1145.80,587.06 L1147.22,586.71 L1148.65,586.36 L1150.08,585.99 L1151.51,585.62 L1152.94,585.23 L1154.36,584.83 L1155.79,584.40 L1157.22,583.95 L1158.65,583.47 L1160.08,582.96 L1161.51,582.44 L1162.93,581.91 L1164.36,581.39 L1165.79,580.88 L1167.22,580.40 L1168.65,579.97 L1170.08,579.59 L1171.50,579.28 L1172.93,579.05 L1174.36,578.90 L1175.79,578.85 L1177.22,578.89 L1178.64,579.03 L1180.07,579.25 L1181.50,579.55 L1182.93,579.92 L1184.36,580.35 L1185.79,580.82 L1187.21,581.33 L1188.64,581.87 L1190.07,582.43 L1191.50,583.01 L1192.93,583.61 L1194.35,584.24 L1195.78,584.89 L1197.21,585.58 L1198.64,586.29 L1200.07,587.04 L1201.50,587.82 L1202.92,588.63 L1204.35,589.47 L1205.78,590.33 L1207.21,591.22 L1208.64,592.14 L1210.07,593.08 L1211.49,594.06 L1212.92,595.07 L1214.35,596.13 L1215.78,597.23 L1217.21,598.38 L1218.63,599.57 L1220.06,600.81 L1221.49,602.09 L1222.92,603.41 L1224.35,604.75 L1225.78,606.12 L1227.20,607.50 L1228.63,608.90 L1230.06,610.29 L1231.49,611.69 L1232.92,613.08 L1234.34,614.46 L1235.77,615.81 L1237.20,617.14 L1238.63,618.43 L1240.06,619.69 L1241.49,620.90 L1242.91,622.06 L1244.34,623.17 L1245.77,624.23 L1247.20,625.24 L1248.63,626.20 L1250.06,627.12 L1251.48,628.01 L1252.91,628.87 L1254.34,629.70 L1255.77,630.51 L1257.20,631.30 L1258.62,632.08 L1260.05,632.84 L1261.48,633.58 L1262.91,634.30 L1264.34,635.02 L1265.77,635.71 L1267.19,636.39 L1268.62,637.06 L1270.05,637.71 L1271.48,638.34 L1272.91,638.97 L1274.33,639.58 L1275.76,640.17 L1277.19,640.75 L1278.62,641.32 L1280.05,641.87 L1281.48,642.42 L1282.90,642.94 L1284.33,643.46 L1285.76,643.97 L1287.19,644.47 L1288.62,644.95 L1290.05,645.43 L1291.47,645.90 L1292.90,646.35 L1294.33,646.80 L1295.76,647.24 L1297.19,647.68 L1298.61,648.10 L1300.04,648.51 L1301.47,648.92 L1302.90,649.32 L1304.33,649.72 L1305.76,650.10 L1307.18,650.48 L1308.61,650.85 L1310.04,651.22 L1311.47,651.58 L1312.90,651.93 L1314.32,652.27 L1315.75,652.61 L1317.18,652.95 L1318.61,653.28 L1320.04,653.60 L1321.47,653.92 L1322.89,654.23 L1324.32,654.53 L1325.75,654.83 L1327.18,655.13 L1328.61,655.42 L1330.04,655.71 L1331.46,655.99 L1332.89,656.27 L1334.32,656.54 L1335.75,656.81 L1337.18,657.07 L1338.60,657.33 L1340.03,657.59 L1341.46,657.85 L1342.89,658.10 L1344.32,658.35 L1345.75,658.60 L1347.17,658.84 L1348.60,659.09 L1350.03,659.33 L1351.46,659.57 L1352.89,659.81 L1354.31,660.05 L1355.74,660.28 L1357.17,660.52 L1358.60,660.75 L1360.03,660.99 L1361.46,661.22 L1362.88,661.46 L1364.31,661.70 L1365.74,661.93 L1367.17,662.17 L1368.60,662.41 L1370.03,662.64 L1371.45,662.88 L1372.88,663.12 L1374.31,663.36 L1375.74,663.59 L1377.17,663.83 L1378.59,664.07 L1380.02,664.30 L1381.45,664.54 L1382.88,664.77 L1384.31,665.01 L1385.74,665.24 L1387.16,665.48 L1388.59,665.71 L1390.02,665.94 L1391.45,666.18 L1392.88,666.41 L1394.30,666.64 L1395.73,666.87 L1397.16,667.10 L1398.59,667.33 L1400.02,667.56 L1401.45,667.79 L1402.87,668.02 L1404.30,668.24 L1405.73,668.47 L1407.16,668.70 L1408.59,668.92 L1410.02,669.15 L1411.44,669.37 L1412.87,669.60 L1414.30,669.82 L1415.73,670.04 L1417.16,670.27 L1418.58,670.49 L1420.01,670.71 L1421.44,670.93 L1422.87,671.15 L1424.30,671.37 L1425.73,671.59 L1427.15,671.81 L1428.58,672.02 L1430.01,672.24 L1431.44,672.45 L1432.87,672.67 L1434.29,672.88 L1435.72,673.10 L1437.15,673.31 L1438.58,673.52 L1440.01,673.74 L1441.44,673.95 L1442.86,674.16 L1444.29,674.37 L1445.72,674.57 L1447.15,674.78 L1448.58,674.99 L1450.01,675.19 L1451.43,675.40 L1452.86,675.60 L1454.29,675.81 L1455.72,676.01 L1457.15,676.21 L1458.57,676.41 L1460.00,676.61 L1461.43,676.81 L1462.86,677.01 L1464.29,677.19 L1465.72,677.37 L1467.14,677.53 L1468.57,677.66 L1470.00,677.77" fill="none" stroke="#edb120" stroke-width="15.3" stroke-dasharray="65.3 16.9 31.4 16.9" stroke-dashoffset="8"/>
<path d="M612.08,676.21 L613.52,675.43 L614.95,674.48 L616.38,673.37 L617.81,672.17 L619.24,670.89 L620.68,669.58 L622.11,668.26 L623.54,666.93 L624.97,665.60 L626.41,664.29 L627.84,662.98 L629.27,661.68 L630.70,660.38 L632.13,659.10 L633.57,657.82 L635.00,656.54 L636.43,655.28 L637.86,654.01 L639.30,652.76 L640.73,651.51 L642.16,650.27 L643.59,649.03 L645.03,647.80 L646.46,646.59 L647.89,645.38 L649.32,644.19 L650.75,643.01 L652.19,641.84 L653.62,640.69 L655.05,639.55 L656.48,638.43 L657.92,637.32 L659.35,636.22 L660.78,635.14 L662.21,634.07 L663.64,633.02 L665.08,631.99 L666.51,630.99 L667.94,630.02 L669.37,629.08 L670.81,628.17 L672.24,627.28 L673.67,626.43 L675.10,625.60 L676.53,624.80 L677.97,624.01 L679.40,623.25 L680.83,622.49 L682.26,621.76 L683.70,621.04 L685.13,620.33 L686.56,619.65 L687.99,618.98 L689.42,618.34 L690.86,617.71 L692.29,617.10 L693.72,616.51 L695.15,615.95 L696.59,615.41 L698.02,614.88 L699.45,614.38 L700.88,613.90 L702.31,613.44 L703.75,613.00 L705.18,612.58 L706.61,612.17 L708.04,611.78 L709.48,611.41 L710.91,611.05 L712.34,610.71 L713.77,610.38 L715.21,610.07 L716.64,609.77 L718.07,609.48 L719.50,609.21 L720.93,608.94 L722.37,608.68 L723.80,608.42 L725.23,608.18 L726.66,607.93 L728.10,607.69 L729.53,607.46 L730.96,607.23 L732.39,607.00 L733.82,606.78 L735.26,606.56 L736.69,606.34 L738.12,606.13 L739.55,605.92 L740.99,605.72 L742.42,605.52 L743.85,605.32 L745.28,605.12 L746.71,604.93 L748.15,604.74 L749.58,604.56 L751.01,604.37 L752.44,604.19 L753.88,604.01 L755.31,603.83 L756.74,603.66 L758.17,603.48 L759.60,603.31 L761.04,603.14 L762.47,602.98 L763.90,602.81 L765.33,602.64 L766.77,602.48 L768.20,602.32 L769.63,602.15 L771.06,601.99 L772.50,601.83 L773.93,601.67 L775.36,601.52 L776.79,601.36 L778.22,601.20 L779.66,601.05 L781.09,600.90 L782.52,600.75 L783.95,600.60 L785.39,600.46 L786.82,600.33 L788.25,600.19 L789.68,600.06 L791.11,599.94 L792.55,599.81 L793.98,599.69 L795.41,599.57 L796.84,599.45 L798.28,599.33 L799.71,599.22 L801.14,599.10 L802.57,598.98 L804.00,598.87 L805.44,598.75 L806.87,598.63 L808.30,598.50 L809.73,598.38 L811.17,598.25 L812.60,598.12 L814.03,597.98 L815.46,597.84 L816.89,597.70 L818.33,597.55 L819.76,597.40 L821.19,597.23 L822.62,597.07 L824.06,596.89 L825.49,596.71 L826.92,596.51 L828.35,596.31 L829.79,596.10 L831.22,595.87 L832.65,595.64 L834.08,595.40 L835.51,595.14 L836.95,594.88 L838.38,594.61 L839.81,594.33 L841.24,594.05 L842.68,593.75 L844.11,593.45 L845.54,593.14 L846.97,592.83 L848.40,592.51 L849.84,592.19 L851.27,591.87 L852.70,591.54 L854.13,591.20 L855.57,590.87 L857.00,590.53 L858.43,590.19 L859.86,589.85 L861.29,589.51 L862.73,589.17 L864.16,588.83 L865.59,588.49 L867.02,588.16 L868.46,587.82 L869.89,587.49 L871.32,587.16 L872.75,586.83 L874.18,586.51 L875.62,586.18 L877.05,585.86 L878.48,585.54 L879.91,585.22 L881.35,584.90 L882.78,584.58 L884.21,584.27 L885.64,583.95 L887.07,583.63 L888.51,583.31 L889.94,583.00 L891.37,582.68 L892.80,582.36 L894.24,582.04 L895.67,581.72 L897.10,581.40 L898.53,581.08 L899.97,580.76 L901.40,580.43 L902.83,580.11 L904.26,579.78 L905.69,579.45 L907.13,579.12 L908.56,578.79 L909.99,578.46 L911.42,578.13 L912.86,577.79 L914.29,577.45 L915.72,577.11 L917.15,576.77 L918.58,576.42 L920.02,576.07 L921.45,575.72 L922.88,575.37 L924.31,575.01 L925.75,574.65 L927.18,574.29 L928.61,573.92 L930.04,573.56 L931.47,573.18 L932.91,572.81 L934.34,572.42 L935.77,572.04 L937.20,571.65 L938.64,571.26 L940.07,570.86 L941.50,570.46 L942.93,570.06 L944.36,569.65 L945.80,569.24 L947.23,568.82 L948.66,568.40 L950.09,567.97 L951.53,567.55 L952.96,567.11 L954.39,566.68 L955.82,566.24 L957.26,565.79 L958.69,565.35 L960.12,564.89 L961.55,564.44 L962.98,563.98 L964.42,563.51 L965.85,563.04 L967.28,562.56 L968.71,562.08 L970.15,561.59 L971.58,561.10 L973.01,560.60 L974.44,560.09 L975.87,559.58 L977.31,559.06 L978.74,558.53 L980.17,558.00 L981.60,557.46 L983.04,556.91 L984.47,556.35 L985.90,555.79 L987.33,555.22 L988.76,554.64 L990.20,554.05 L991.63,553.46 L993.06,552.85 L994.49,552.24 L995.93,551.62 L997.36,550.99 L998.79,550.34 L1000.22,549.69 L1001.65,549.02 L1003.09,548.34 L1004.52,547.65 L1005.95,546.94 L1007.38,546.21 L1008.82,545.47 L1010.25,544.71 L1011.68,543.94 L1013.11,543.14 L1014.55,542.34 L1015.98,541.51 L1017.41,540.67 L1018.84,539.82 L1020.27,538.95 L1021.71,538.07 L1023.14,537.17 L1024.57,536.26 L1026.00,535.33 L1027.44,534.39 L1028.87,533.44 L1030.30,532.48 L1031.73,531.50 L1033.16,530.51 L1034.60,529.51 L1036.03,528.50 L1037.46,527.48 L1038.89,526.45 L1040.33,525.41 L1041.76,524.36 L1043.19,523.30 L1044.62,522.22 L1046.05,521.14 L1047.49,520.05 L1048.92,518.95 L1050.35,517.84 L1051.78,516.72 L1053.22,515.59 L1054.65,514.44 L1056.08,513.28 L1057.51,512.10 L1058.94,510.91 L1060.38,509.71 L1061.81,508.49 L1063.24,507.26 L1064.67,506.01 L1066.11,504.74 L1067.54,503.46 L1068.97,502.16 L1070.40,500.84 L1071.84,499.51 L1073.27,498.16 L1074.70,496.79 L1076.13,495.40 L1077.56,493.99 L1079.00,492.56 L1080.43,491.12 L1081.86,489.65 L1083.29,488.16 L1084.73,486.65 L1086.16,485.13 L1087.59,483.57 L1089.02,482.00 L1090.45,480.41 L1091.89,478.79 L1093.32,477.15 L1094.75,475.48 L1096.18,473.79 L1097.62,472.07 L1099.05,470.33 L1100.48,468.55 L1101.91,466.74 L1103.34,464.89 L1104.78,463.00 L1106.21,461.08 L1107.64,459.11 L1109.07,457.10 L1110.51,455.05 L1111.94,452.96 L1113.37,450.83 L1114.80,448.65 L1116.23,446.43 L1117.67,444.16 L1119.10,441.85 L1120.53,439.50 L1121.96,437.10 L1123.40,434.66 L1124.83,432.17 L1126.26,429.63 L1127.69,427.05 L1129.12,424.42 L1130.56,421.73 L1131.99,418.98 L1133.42,416.17 L1134.85,413.27 L1136.29,410.27 L1137.72,407.17 L1139.15,403.96 L1140.58,400.63 L1142.02,397.19 L1143.45,393.64 L1144.88,390.00 L1146.31,386.29 L1147.74,382.53 L1149.18,378.73 L1150.61,374.90 L1152.04,371.07 L1153.47,367.24 L1154.91,363.40 L1156.34,359.55 L1157.77,355.68 L1159.20,351.76 L1160.63,347.80 L1162.07,343.78 L1163.50,339.72 L1164.93,335.62 L1166.36,331.52 L1167.80,327.46 L1169.23,323.46 L1170.66,319.57 L1172.09,315.83 L1173.52,312.27 L1174.96,308.92 L1176.39,305.82 L1177.82,302.98 L1179.25,300.40 L1180.69,298.08 L1182.12,295.98 L1183.55,294.10 L1184.98,292.40 L1186.41,290.86 L1187.85,289.48 L1189.28,288.26 L1190.71,287.22 L1192.14,286.38 L1193.58,285.75 L1195.01,285.36 L1196.44,285.19 L1197.87,285.26 L1199.31,285.54 L1200.74,286.03 L1202.17,286.68 L1203.60,287.49 L1205.03,288.41 L1206.47,289.44 L1207.90,290.55 L1209.33,291.76 L1210.76,293.04 L1212.20,294.42 L1213.63,295.90 L1215.06,297.49 L1216.49,299.17 L1217.92,300.96 L1219.36,302.83 L1220.79,304.78 L1222.22,306.78 L1223.65,308.84 L1225.09,310.92 L1226.52,313.02 L1227.95,315.12 L1229.38,317.23 L1230.81,319.32 L1232.25,321.42 L1233.68,323.51 L1235.11,325.61 L1236.54,327.72 L1237.98,329.84 L1239.41,331.99 L1240.84,334.16 L1242.27,336.34 L1243.70,338.53 L1245.14,340.74 L1246.57,342.94 L1248.00,345.14 L1249.43,347.33 L1250.87,349.51 L1252.30,351.67 L1253.73,353.81 L1255.16,355.92 L1256.60,357.99 L1258.03,360.02 L1259.46,362.01 L1260.89,363.95 L1262.32,365.85 L1263.76,367.70 L1265.19,369.51 L1266.62,371.28 L1268.05,373.01 L1269.49,374.71 L1270.92,376.38 L1272.35,378.03 L1273.78,379.65 L1275.21,381.25 L1276.65,382.83 L1278.08,384.40 L1279.51,385.94 L1280.94,387.47 L1282.38,388.98 L1283.81,390.48 L1285.24,391.97 L1286.67,393.44 L1288.10,394.91 L1289.54,396.37 L1290.97,397.83 L1292.40,399.28 L1293.83,400.73 L1295.27,402.17 L1296.70,403.62 L1298.13,405.06 L1299.56,406.51 L1300.99,407.96 L1302.43,409.42 L1303.86,410.88 L1305.29,412.34 L1306.72,413.81 L1308.16,415.27 L1309.59,416.74 L1311.02,418.21 L1312.45,419.67 L1313.88,421.12 L1315.32,422.57 L1316.75,424.02 L1318.18,425.46 L1319.61,426.89 L1321.05,428.32 L1322.48,429.75 L1323.91,431.18 L1325.34,432.60 L1326.78,434.02 L1328.21,435.45 L1329.64,436.87 L1331.07,438.29 L1332.50,439.72 L1333.94,441.15 L1335.37,442.58 L1336.80,444.01 L1338.23,445.45 L1339.67,446.89 L1341.10,448.34 L1342.53,449.80 L1343.96,451.26 L1345.39,452.73 L1346.83,454.21 L1348.26,455.69 L1349.69,457.19 L1351.12,458.70 L1352.56,460.21 L1353.99,461.73 L1355.42,463.26 L1356.85,464.80 L1358.28,466.34 L1359.72,467.89 L1361.15,469.44 L1362.58,471.00 L1364.01,472.57 L1365.45,474.14 L1366.88,475.72 L1368.31,477.30 L1369.74,478.89 L1371.17,480.49 L1372.61,482.09 L1374.04,483.70 L1375.47,485.31 L1376.90,486.93 L1378.34,488.56 L1379.77,490.20 L1381.20,491.84 L1382.63,493.49 L1384.07,495.14 L1385.50,496.81 L1386.93,498.48 L1388.36,500.16 L1389.79,501.84 L1391.23,503.54 L1392.66,505.24 L1394.09,506.96 L1395.52,508.68 L1396.96,510.42 L1398.39,512.17 L1399.82,513.94 L1401.25,515.71 L1402.68,517.50 L1404.12,519.30 L1405.55,521.11 L1406.98,522.93 L1408.41,524.76 L1409.85,526.59 L1411.28,528.43 L1412.71,530.28 L1414.14,532.13 L1415.57,533.99 L1417.01,535.85 L1418.44,537.71 L1419.87,539.56 L1421.30,541.42 L1422.74,543.28 L1424.17,545.13 L1425.60,546.99 L1427.03,548.83 L1428.46,550.67 L1429.90,552.51 L1431.33,554.34 L1432.76,556.16 L1434.19,557.98 L1435.63,559.80 L1437.06,561.62 L1438.49,563.43 L1439.92,565.24 L1441.36,567.04 L1442.79,568.85 L1444.22,570.66 L1445.65,572.46 L1447.08,574.27 L1448.52,576.07 L1449.95,577.87 L1451.38,579.67 L1452.81,581.47 L1454.25,583.27 L1455.68,585.07 L1457.11,586.87 L1458.54,588.66 L1459.97,590.44 L1461.41,592.22 L1462.84,593.96 L1464.27,595.64 L1465.70,597.23 L1467.14,598.68 L1468.57,599.93 L1470.00,600.94" fill="none" stroke="#7e2f8e" stroke-width="15.3" stroke-dasharray="65.3 16.9 31.4 16.9"/>
<path d="M614.17,675.36 L615.60,675.04 L617.02,674.65 L618.45,674.21 L619.88,673.72 L621.31,673.20 L622.74,672.67 L624.17,672.13 L625.60,671.59 L627.03,671.05 L628.45,670.51 L629.88,669.98 L631.31,669.44 L632.74,668.91 L634.17,668.38 L635.60,667.85 L637.03,667.33 L638.46,666.81 L639.88,666.29 L641.31,665.77 L642.74,665.25 L644.17,664.74 L645.60,664.23 L647.03,663.72 L648.46,663.21 L649.89,662.71 L651.31,662.21 L652.74,661.71 L654.17,661.21 L655.60,660.71 L657.03,660.22 L658.46,659.73 L659.89,659.24 L661.32,658.75 L662.74,658.27 L664.17,657.78 L665.60,657.30 L667.03,656.82 L668.46,656.35 L669.89,655.87 L671.32,655.39 L672.75,654.92 L674.18,654.44 L675.60,653.97 L677.03,653.49 L678.46,653.02 L679.89,652.54 L681.32,652.07 L682.75,651.60 L684.18,651.13 L685.61,650.66 L687.03,650.20 L688.46,649.74 L689.89,649.29 L691.32,648.84 L692.75,648.41 L694.18,647.98 L695.61,647.55 L697.04,647.14 L698.46,646.74 L699.89,646.35 L701.32,645.97 L702.75,645.60 L704.18,645.24 L705.61,644.89 L707.04,644.55 L708.47,644.22 L709.89,643.89 L711.32,643.57 L712.75,643.26 L714.18,642.95 L715.61,642.64 L717.04,642.34 L718.47,642.04 L719.90,641.75 L721.32,641.46 L722.75,641.18 L724.18,640.90 L725.61,640.62 L727.04,640.34 L728.47,640.07 L729.90,639.81 L731.33,639.54 L732.75,639.28 L734.18,639.02 L735.61,638.76 L737.04,638.51 L738.47,638.26 L739.90,638.01 L741.33,637.76 L742.76,637.52 L744.18,637.27 L745.61,637.03 L747.04,636.79 L748.47,636.55 L749.90,636.32 L751.33,636.08 L752.76,635.85 L754.19,635.61 L755.61,635.38 L757.04,635.15 L758.47,634.91 L759.90,634.68 L761.33,634.45 L762.76,634.22 L764.19,633.99 L765.62,633.76 L767.05,633.53 L768.47,633.30 L769.90,633.08 L771.33,632.85 L772.76,632.63 L774.19,632.41 L775.62,632.20 L777.05,631.98 L778.48,631.77 L779.90,631.56 L781.33,631.35 L782.76,631.14 L784.19,630.94 L785.62,630.74 L787.05,630.54 L788.48,630.34 L789.91,630.14 L791.33,629.94 L792.76,629.74 L794.19,629.55 L795.62,629.35 L797.05,629.16 L798.48,628.97 L799.91,628.77 L801.34,628.58 L802.76,628.38 L804.19,628.19 L805.62,628.00 L807.05,627.80 L808.48,627.60 L809.91,627.41 L811.34,627.21 L812.77,627.01 L814.19,626.81 L815.62,626.61 L817.05,626.41 L818.48,626.20 L819.91,626.00 L821.34,625.79 L822.77,625.58 L824.20,625.37 L825.62,625.15 L827.05,624.94 L828.48,624.72 L829.91,624.49 L831.34,624.27 L832.77,624.04 L834.20,623.81 L835.63,623.58 L837.05,623.35 L838.48,623.12 L839.91,622.88 L841.34,622.65 L842.77,622.41 L844.20,622.18 L845.63,621.94 L847.06,621.70 L848.48,621.46 L849.91,621.22 L851.34,620.97 L852.77,620.73 L854.20,620.48 L855.63,620.24 L857.06,619.99 L858.49,619.74 L859.92,619.49 L861.34,619.23 L862.77,618.98 L864.20,618.72 L865.63,618.46 L867.06,618.20 L868.49,617.94 L869.92,617.68 L871.35,617.41 L872.77,617.15 L874.20,616.88 L875.63,616.61 L877.06,616.33 L878.49,616.06 L879.92,615.78 L881.35,615.50 L882.78,615.22 L884.20,614.93 L885.63,614.65 L887.06,614.36 L888.49,614.07 L889.92,613.77 L891.35,613.48 L892.78,613.18 L894.21,612.88 L895.63,612.57 L897.06,612.26 L898.49,611.95 L899.92,611.64 L901.35,611.32 L902.78,611.00 L904.21,610.68 L905.64,610.36 L907.06,610.03 L908.49,609.70 L909.92,609.36 L911.35,609.02 L912.78,608.68 L914.21,608.34 L915.64,607.99 L917.07,607.64 L918.49,607.28 L919.92,606.93 L921.35,606.57 L922.78,606.20 L924.21,605.83 L925.64,605.46 L927.07,605.09 L928.50,604.71 L929.92,604.33 L931.35,603.95 L932.78,603.57 L934.21,603.18 L935.64,602.78 L937.07,602.39 L938.50,601.99 L939.93,601.59 L941.36,601.18 L942.78,600.77 L944.21,600.36 L945.64,599.95 L947.07,599.53 L948.50,599.11 L949.93,598.68 L951.36,598.25 L952.79,597.82 L954.21,597.39 L955.64,596.95 L957.07,596.51 L958.50,596.07 L959.93,595.63 L961.36,595.18 L962.79,594.74 L964.22,594.29 L965.64,593.84 L967.07,593.39 L968.50,592.94 L969.93,592.49 L971.36,592.03 L972.79,591.58 L974.22,591.12 L975.65,590.65 L977.07,590.18 L978.50,589.71 L979.93,589.24 L981.36,588.75 L982.79,588.27 L984.22,587.77 L985.65,587.28 L987.08,586.77 L988.50,586.26 L989.93,585.74 L991.36,585.21 L992.79,584.68 L994.22,584.14 L995.65,583.59 L997.08,583.03 L998.51,582.46 L999.93,581.88 L1001.36,581.29 L1002.79,580.69 L1004.22,580.08 L1005.65,579.45 L1007.08,578.82 L1008.51,578.17 L1009.94,577.52 L1011.36,576.84 L1012.79,576.16 L1014.22,575.46 L1015.65,574.74 L1017.08,574.01 L1018.51,573.25 L1019.94,572.48 L1021.37,571.68 L1022.79,570.85 L1024.22,570.00 L1025.65,569.12 L1027.08,568.21 L1028.51,567.27 L1029.94,566.31 L1031.37,565.31 L1032.80,564.29 L1034.23,563.25 L1035.65,562.17 L1037.08,561.08 L1038.51,559.96 L1039.94,558.82 L1041.37,557.65 L1042.80,556.47 L1044.23,555.26 L1045.66,554.03 L1047.08,552.79 L1048.51,551.52 L1049.94,550.24 L1051.37,548.94 L1052.80,547.63 L1054.23,546.30 L1055.66,544.95 L1057.09,543.60 L1058.51,542.22 L1059.94,540.84 L1061.37,539.45 L1062.80,538.04 L1064.23,536.63 L1065.66,535.20 L1067.09,533.77 L1068.52,532.32 L1069.94,530.87 L1071.37,529.40 L1072.80,527.92 L1074.23,526.42 L1075.66,524.90 L1077.09,523.36 L1078.52,521.80 L1079.95,520.21 L1081.37,518.59 L1082.80,516.95 L1084.23,515.28 L1085.66,513.58 L1087.09,511.85 L1088.52,510.10 L1089.95,508.32 L1091.38,506.52 L1092.80,504.69 L1094.23,502.84 L1095.66,500.96 L1097.09,499.05 L1098.52,497.13 L1099.95,495.18 L1101.38,493.20 L1102.81,491.20 L1104.23,489.18 L1105.66,487.14 L1107.09,485.07 L1108.52,482.98 L1109.95,480.87 L1111.38,478.73 L1112.81,476.57 L1114.24,474.39 L1115.66,472.17 L1117.09,469.93 L1118.52,467.65 L1119.95,465.34 L1121.38,462.99 L1122.81,460.61 L1124.24,458.17 L1125.67,455.70 L1127.10,453.17 L1128.52,450.60 L1129.95,447.96 L1131.38,445.28 L1132.81,442.53 L1134.24,439.71 L1135.67,436.82 L1137.10,433.85 L1138.53,430.79 L1139.95,427.63 L1141.38,424.34 L1142.81,420.92 L1144.24,417.37 L1145.67,413.69 L1147.10,409.87 L1148.53,405.94 L1149.96,401.90 L1151.38,397.80 L1152.81,393.63 L1154.24,389.44 L1155.67,385.23 L1157.10,381.03 L1158.53,376.85 L1159.96,372.70 L1161.39,368.58 L1162.81,364.49 L1164.24,360.41 L1165.67,356.35 L1167.10,352.29 L1168.53,348.23 L1169.96,344.19 L1171.39,340.17 L1172.82,336.19 L1174.24,332.26 L1175.67,328.41 L1177.10,324.66 L1178.53,321.00 L1179.96,317.47 L1181.39,314.05 L1182.82,310.76 L1184.25,307.58 L1185.67,304.51 L1187.10,301.54 L1188.53,298.68 L1189.96,295.92 L1191.39,293.28 L1192.82,290.78 L1194.25,288.42 L1195.68,286.23 L1197.10,284.21 L1198.53,282.35 L1199.96,280.65 L1201.39,279.10 L1202.82,277.68 L1204.25,276.40 L1205.68,275.25 L1207.11,274.24 L1208.54,273.39 L1209.96,272.71 L1211.39,272.22 L1212.82,271.91 L1214.25,271.78 L1215.68,271.82 L1217.11,272.01 L1218.54,272.32 L1219.97,272.75 L1221.39,273.28 L1222.82,273.88 L1224.25,274.55 L1225.68,275.29 L1227.11,276.10 L1228.54,276.99 L1229.97,277.96 L1231.40,279.03 L1232.82,280.21 L1234.25,281.50 L1235.68,282.90 L1237.11,284.40 L1238.54,285.99 L1239.97,287.65 L1241.40,289.36 L1242.83,291.11 L1244.25,292.88 L1245.68,294.65 L1247.11,296.42 L1248.54,298.19 L1249.97,299.95 L1251.40,301.71 L1252.83,303.47 L1254.26,305.25 L1255.68,307.05 L1257.11,308.86 L1258.54,310.68 L1259.97,312.50 L1261.40,314.32 L1262.83,316.13 L1264.26,317.91 L1265.69,319.66 L1267.11,321.36 L1268.54,323.02 L1269.97,324.62 L1271.40,326.16 L1272.83,327.63 L1274.26,329.04 L1275.69,330.40 L1277.12,331.71 L1278.54,332.97 L1279.97,334.19 L1281.40,335.38 L1282.83,336.54 L1284.26,337.67 L1285.69,338.77 L1287.12,339.84 L1288.55,340.88 L1289.97,341.89 L1291.40,342.87 L1292.83,343.82 L1294.26,344.72 L1295.69,345.60 L1297.12,346.43 L1298.55,347.23 L1299.98,347.98 L1301.41,348.70 L1302.83,349.37 L1304.26,350.00 L1305.69,350.60 L1307.12,351.16 L1308.55,351.68 L1309.98,352.18 L1311.41,352.65 L1312.84,353.10 L1314.26,353.54 L1315.69,353.96 L1317.12,354.39 L1318.55,354.82 L1319.98,355.25 L1321.41,355.69 L1322.84,356.16 L1324.27,356.64 L1325.69,357.16 L1327.12,357.71 L1328.55,358.29 L1329.98,358.92 L1331.41,359.60 L1332.84,360.33 L1334.27,361.12 L1335.70,361.95 L1337.12,362.85 L1338.55,363.80 L1339.98,364.81 L1341.41,365.87 L1342.84,366.99 L1344.27,368.17 L1345.70,369.40 L1347.13,370.70 L1348.55,372.05 L1349.98,373.48 L1351.41,375.00 L1352.84,376.60 L1354.27,378.29 L1355.70,380.08 L1357.13,381.97 L1358.56,383.96 L1359.98,386.04 L1361.41,388.20 L1362.84,390.44 L1364.27,392.76 L1365.70,395.15 L1367.13,397.61 L1368.56,400.16 L1369.99,402.78 L1371.41,405.51 L1372.84,408.33 L1374.27,411.26 L1375.70,414.30 L1377.13,417.44 L1378.56,420.67 L1379.99,423.96 L1381.42,427.30 L1382.85,430.68 L1384.27,434.06 L1385.70,437.44 L1387.13,440.78 L1388.56,444.09 L1389.99,447.33 L1391.42,450.52 L1392.85,453.64 L1394.28,456.70 L1395.70,459.71 L1397.13,462.68 L1398.56,465.62 L1399.99,468.54 L1401.42,471.45 L1402.85,474.37 L1404.28,477.31 L1405.71,480.28 L1407.13,483.29 L1408.56,486.35 L1409.99,489.45 L1411.42,492.60 L1412.85,495.80 L1414.28,499.01 L1415.71,502.23 L1417.14,505.43 L1418.56,508.59 L1419.99,511.69 L1421.42,514.71 L1422.85,517.67 L1424.28,520.55 L1425.71,523.37 L1427.14,526.14 L1428.57,528.86 L1429.99,531.55 L1431.42,534.22 L1432.85,536.85 L1434.28,539.47 L1435.71,542.06 L1437.14,544.62 L1438.57,547.16 L1440.00,549.67 L1441.42,552.15 L1442.85,554.61 L1444.28,557.03 L1445.71,559.41 L1447.14,561.77 L1448.57,564.09 L1450.00,566.37 L1451.43,568.61 L1452.85,570.82 L1454.28,572.98 L1455.71,575.11 L1457.14,577.19 L1458.57,579.22 L1460.00,581.20 L1461.43,583.13 L1462.86,584.98 L1464.28,586.73 L1465.71,588.35 L1467.14,589.80 L1468.57,591.03 L1470.00,592.03" fill="none" stroke="#77ac30" stroke-width="15.3" stroke-dasharray="65.3 16.9 31.4 16.9"/>
<path d="M614.17,675.60 L615.60,675.40 L617.02,675.15 L618.45,674.87 L619.88,674.55 L621.31,674.22 L622.74,673.88 L624.17,673.52 L625.60,673.17 L627.03,672.81 L628.45,672.45 L629.88,672.09 L631.31,671.73 L632.74,671.37 L634.17,671.01 L635.60,670.65 L637.03,670.28 L638.46,669.92 L639.88,669.55 L641.31,669.19 L642.74,668.82 L644.17,668.45 L645.60,668.08 L647.03,667.71 L648.46,667.34 L649.89,666.97 L651.31,666.60 L652.74,666.22 L654.17,665.85 L655.60,665.48 L657.03,665.10 L658.46,664.73 L659.89,664.35 L661.32,663.97 L662.74,663.59 L664.17,663.22 L665.60,662.84 L667.03,662.45 L668.46,662.07 L669.89,661.69 L671.32,661.30 L672.75,660.91 L674.18,660.51 L675.60,660.11 L677.03,659.70 L678.46,659.28 L679.89,658.86 L681.32,658.43 L682.75,658.00 L684.18,657.57 L685.61,657.14 L687.03,656.71 L688.46,656.29 L689.89,655.86 L691.32,655.45 L692.75,655.04 L694.18,654.64 L695.61,654.25 L697.04,653.88 L698.46,653.52 L699.89,653.17 L701.32,652.84 L702.75,652.53 L704.18,652.22 L705.61,651.94 L707.04,651.66 L708.47,651.40 L709.89,651.15 L711.32,650.90 L712.75,650.66 L714.18,650.43 L715.61,650.20 L717.04,649.98 L718.47,649.76 L719.90,649.55 L721.32,649.34 L722.75,649.14 L724.18,648.94 L725.61,648.74 L727.04,648.55 L728.47,648.36 L729.90,648.17 L731.33,647.99 L732.75,647.81 L734.18,647.63 L735.61,647.45 L737.04,647.28 L738.47,647.10 L739.90,646.93 L741.33,646.76 L742.76,646.59 L744.18,646.42 L745.61,646.25 L747.04,646.09 L748.47,645.92 L749.90,645.75 L751.33,645.58 L752.76,645.41 L754.19,645.23 L755.61,645.06 L757.04,644.88 L758.47,644.71 L759.90,644.53 L761.33,644.35 L762.76,644.16 L764.19,643.98 L765.62,643.79 L767.05,643.60 L768.47,643.41 L769.90,643.22 L771.33,643.02 L772.76,642.83 L774.19,642.64 L775.62,642.44 L777.05,642.25 L778.48,642.06 L779.90,641.87 L781.33,641.67 L782.76,641.48 L784.19,641.29 L785.62,641.10 L787.05,640.91 L788.48,640.72 L789.91,640.53 L791.33,640.33 L792.76,640.14 L794.19,639.95 L795.62,639.76 L797.05,639.56 L798.48,639.37 L799.91,639.18 L801.34,638.98 L802.76,638.79 L804.19,638.59 L805.62,638.40 L807.05,638.20 L808.48,638.00 L809.91,637.80 L811.34,637.60 L812.77,637.40 L814.19,637.20 L815.62,636.99 L817.05,636.79 L818.48,636.58 L819.91,636.38 L821.34,636.17 L822.77,635.96 L824.20,635.75 L825.62,635.53 L827.05,635.32 L828.48,635.10 L829.91,634.88 L831.34,634.66 L832.77,634.44 L834.20,634.22 L835.63,634.00 L837.05,633.77 L838.48,633.55 L839.91,633.32 L841.34,633.10 L842.77,632.87 L844.20,632.64 L845.63,632.41 L847.06,632.18 L848.48,631.95 L849.91,631.72 L851.34,631.48 L852.77,631.25 L854.20,631.01 L855.63,630.77 L857.06,630.54 L858.49,630.30 L859.92,630.05 L861.34,629.81 L862.77,629.57 L864.20,629.32 L865.63,629.07 L867.06,628.82 L868.49,628.57 L869.92,628.32 L871.35,628.06 L872.77,627.80 L874.20,627.54 L875.63,627.28 L877.06,627.02 L878.49,626.75 L879.92,626.48 L881.35,626.21 L882.78,625.94 L884.20,625.66 L885.63,625.38 L887.06,625.10 L888.49,624.82 L889.92,624.53 L891.35,624.24 L892.78,623.95 L894.21,623.65 L895.63,623.36 L897.06,623.05 L898.49,622.75 L899.92,622.44 L901.35,622.13 L902.78,621.81 L904.21,621.49 L905.64,621.16 L907.06,620.83 L908.49,620.50 L909.92,620.16 L911.35,619.82 L912.78,619.47 L914.21,619.12 L915.64,618.77 L917.07,618.41 L918.49,618.05 L919.92,617.68 L921.35,617.31 L922.78,616.94 L924.21,616.57 L925.64,616.19 L927.07,615.81 L928.50,615.43 L929.92,615.04 L931.35,614.65 L932.78,614.26 L934.21,613.86 L935.64,613.47 L937.07,613.07 L938.50,612.67 L939.93,612.26 L941.36,611.86 L942.78,611.45 L944.21,611.04 L945.64,610.63 L947.07,610.22 L948.50,609.80 L949.93,609.39 L951.36,608.97 L952.79,608.55 L954.21,608.14 L955.64,607.72 L957.07,607.30 L958.50,606.88 L959.93,606.46 L961.36,606.04 L962.79,605.62 L964.22,605.21 L965.64,604.79 L967.07,604.38 L968.50,603.97 L969.93,603.56 L971.36,603.15 L972.79,602.73 L974.22,602.32 L975.65,601.91 L977.07,601.49 L978.50,601.07 L979.93,600.65 L981.36,600.23 L982.79,599.80 L984.22,599.37 L985.65,598.93 L987.08,598.49 L988.50,598.05 L989.93,597.60 L991.36,597.14 L992.79,596.68 L994.22,596.21 L995.65,595.73 L997.08,595.24 L998.51,594.75 L999.93,594.25 L1001.36,593.74 L1002.79,593.22 L1004.22,592.69 L1005.65,592.15 L1007.08,591.59 L1008.51,591.03 L1009.94,590.46 L1011.36,589.87 L1012.79,589.27 L1014.22,588.66 L1015.65,588.03 L1017.08,587.39 L1018.51,586.73 L1019.94,586.05 L1021.37,585.35 L1022.79,584.63 L1024.22,583.88 L1025.65,583.12 L1027.08,582.33 L1028.51,581.52 L1029.94,580.68 L1031.37,579.82 L1032.80,578.94 L1034.23,578.04 L1035.65,577.12 L1037.08,576.17 L1038.51,575.21 L1039.94,574.22 L1041.37,573.22 L1042.80,572.20 L1044.23,571.15 L1045.66,570.09 L1047.08,569.01 L1048.51,567.92 L1049.94,566.80 L1051.37,565.67 L1052.80,564.52 L1054.23,563.36 L1055.66,562.18 L1057.09,560.99 L1058.51,559.78 L1059.94,558.56 L1061.37,557.33 L1062.80,556.08 L1064.23,554.82 L1065.66,553.54 L1067.09,552.26 L1068.52,550.96 L1069.94,549.65 L1071.37,548.33 L1072.80,547.00 L1074.23,545.65 L1075.66,544.30 L1077.09,542.92 L1078.52,541.53 L1079.95,540.12 L1081.37,538.68 L1082.80,537.22 L1084.23,535.73 L1085.66,534.21 L1087.09,532.66 L1088.52,531.09 L1089.95,529.48 L1091.38,527.85 L1092.80,526.18 L1094.23,524.49 L1095.66,522.77 L1097.09,521.01 L1098.52,519.23 L1099.95,517.43 L1101.38,515.59 L1102.81,513.72 L1104.23,511.83 L1105.66,509.91 L1107.09,507.96 L1108.52,505.98 L1109.95,503.97 L1111.38,501.94 L1112.81,499.88 L1114.24,497.79 L1115.66,495.67 L1117.09,493.52 L1118.52,491.34 L1119.95,489.12 L1121.38,486.87 L1122.81,484.57 L1124.24,482.22 L1125.67,479.81 L1127.10,477.35 L1128.52,474.83 L1129.95,472.26 L1131.38,469.62 L1132.81,466.93 L1134.24,464.17 L1135.67,461.36 L1137.10,458.49 L1138.53,455.56 L1139.95,452.58 L1141.38,449.54 L1142.81,446.43 L1144.24,443.26 L1145.67,440.02 L1147.10,436.69 L1148.53,433.27 L1149.96,429.74 L1151.38,426.11 L1152.81,422.36 L1154.24,418.51 L1155.67,414.57 L1157.10,410.55 L1158.53,406.46 L1159.96,402.33 L1161.39,398.18 L1162.81,394.02 L1164.24,389.87 L1165.67,385.74 L1167.10,381.63 L1168.53,377.56 L1169.96,373.50 L1171.39,369.47 L1172.82,365.45 L1174.24,361.44 L1175.67,357.44 L1177.10,353.45 L1178.53,349.48 L1179.96,345.54 L1181.39,341.65 L1182.82,337.81 L1184.25,334.05 L1185.67,330.37 L1187.10,326.78 L1188.53,323.29 L1189.96,319.88 L1191.39,316.57 L1192.82,313.35 L1194.25,310.21 L1195.68,307.16 L1197.10,304.23 L1198.53,301.42 L1199.96,298.76 L1201.39,296.27 L1202.82,293.97 L1204.25,291.86 L1205.68,289.94 L1207.11,288.20 L1208.54,286.63 L1209.96,285.22 L1211.39,283.99 L1212.82,282.93 L1214.25,282.07 L1215.68,281.43 L1217.11,281.02 L1218.54,280.82 L1219.97,280.85 L1221.39,281.07 L1222.82,281.46 L1224.25,281.99 L1225.68,282.65 L1227.11,283.40 L1228.54,284.24 L1229.97,285.16 L1231.40,286.16 L1232.82,287.23 L1234.25,288.40 L1235.68,289.65 L1237.11,290.98 L1238.54,292.39 L1239.97,293.86 L1241.40,295.36 L1242.83,296.89 L1244.25,298.43 L1245.68,299.98 L1247.11,301.52 L1248.54,303.07 L1249.97,304.63 L1251.40,306.20 L1252.83,307.78 L1254.26,309.38 L1255.68,310.98 L1257.11,312.58 L1258.54,314.17 L1259.97,315.73 L1261.40,317.25 L1262.83,318.72 L1264.26,320.13 L1265.69,321.47 L1267.11,322.72 L1268.54,323.88 L1269.97,324.95 L1271.40,325.92 L1272.83,326.80 L1274.26,327.60 L1275.69,328.32 L1277.12,328.97 L1278.54,329.56 L1279.97,330.09 L1281.40,330.55 L1282.83,330.94 L1284.26,331.24 L1285.69,331.47 L1287.12,331.60 L1288.55,331.66 L1289.97,331.65 L1291.40,331.57 L1292.83,331.45 L1294.26,331.28 L1295.69,331.07 L1297.12,330.85 L1298.55,330.61 L1299.98,330.36 L1301.41,330.11 L1302.83,329.87 L1304.26,329.64 L1305.69,329.43 L1307.12,329.23 L1308.55,329.04 L1309.98,328.87 L1311.41,328.71 L1312.84,328.55 L1314.26,328.41 L1315.69,328.28 L1317.12,328.15 L1318.55,328.04 L1319.98,327.94 L1321.41,327.87 L1322.84,327.82 L1324.27,327.80 L1325.69,327.83 L1327.12,327.91 L1328.55,328.05 L1329.98,328.26 L1331.41,328.54 L1332.84,328.88 L1334.27,329.29 L1335.70,329.75 L1337.12,330.27 L1338.55,330.82 L1339.98,331.42 L1341.41,332.07 L1342.84,332.76 L1344.27,333.51 L1345.70,334.32 L1347.13,335.21 L1348.55,336.18 L1349.98,337.23 L1351.41,338.39 L1352.84,339.67 L1354.27,341.09 L1355.70,342.65 L1357.13,344.40 L1358.56,346.33 L1359.98,348.46 L1361.41,350.79 L1362.84,353.31 L1364.27,356.00 L1365.70,358.83 L1367.13,361.80 L1368.56,364.87 L1369.99,368.03 L1371.41,371.29 L1372.84,374.64 L1374.27,378.09 L1375.70,381.65 L1377.13,385.32 L1378.56,389.10 L1379.99,392.97 L1381.42,396.92 L1382.85,400.94 L1384.27,404.99 L1385.70,409.06 L1387.13,413.14 L1388.56,417.23 L1389.99,421.31 L1391.42,425.40 L1392.85,429.48 L1394.28,433.55 L1395.70,437.61 L1397.13,441.64 L1398.56,445.63 L1399.99,449.55 L1401.42,453.38 L1402.85,457.12 L1404.28,460.76 L1405.71,464.29 L1407.13,467.73 L1408.56,471.08 L1409.99,474.35 L1411.42,477.56 L1412.85,480.73 L1414.28,483.87 L1415.71,487.00 L1417.14,490.14 L1418.56,493.29 L1419.99,496.46 L1421.42,499.68 L1422.85,502.92 L1424.28,506.21 L1425.71,509.53 L1427.14,512.87 L1428.57,516.22 L1429.99,519.57 L1431.42,522.91 L1432.85,526.22 L1434.28,529.49 L1435.71,532.71 L1437.14,535.86 L1438.57,538.94 L1440.00,541.95 L1441.42,544.87 L1442.85,547.72 L1444.28,550.49 L1445.71,553.20 L1447.14,555.86 L1448.57,558.46 L1450.00,561.02 L1451.43,563.54 L1452.85,566.01 L1454.28,568.43 L1455.71,570.81 L1457.14,573.15 L1458.57,575.43 L1460.00,577.65 L1461.43,579.81 L1462.86,581.89 L1464.28,583.86 L1465.71,585.67 L1467.14,587.30 L1468.57,588.68 L1470.00,589.79" fill="none" stroke="#4dbeee" stroke-width="15.3" stroke-dasharray="65.3 16.9 31.4 16.9"/>
<path d="M614.50,677.52 L615.93,677.38 L617.36,677.20 L618.78,677.00 L620.21,676.78 L621.64,676.55 L623.07,676.31 L624.50,676.06 L625.93,675.81 L627.35,675.55 L628.78,675.30 L630.21,675.05 L631.64,674.79 L633.07,674.53 L634.49,674.28 L635.92,674.02 L637.35,673.76 L638.78,673.50 L640.21,673.24 L641.64,672.98 L643.06,672.71 L644.49,672.45 L645.92,672.19 L647.35,671.92 L648.78,671.66 L650.21,671.39 L651.63,671.12 L653.06,670.85 L654.49,670.59 L655.92,670.32 L657.35,670.05 L658.77,669.77 L660.20,669.50 L661.63,669.23 L663.06,668.96 L664.49,668.68 L665.92,668.41 L667.34,668.14 L668.77,667.86 L670.20,667.58 L671.63,667.31 L673.06,667.03 L674.48,666.75 L675.91,666.46 L677.34,666.17 L678.77,665.87 L680.20,665.57 L681.63,665.26 L683.05,664.94 L684.48,664.62 L685.91,664.29 L687.34,663.95 L688.77,663.62 L690.20,663.28 L691.62,662.95 L693.05,662.62 L694.48,662.29 L695.91,661.97 L697.34,661.66 L698.76,661.36 L700.19,661.08 L701.62,660.80 L703.05,660.55 L704.48,660.31 L705.91,660.09 L707.33,659.89 L708.76,659.71 L710.19,659.54 L711.62,659.39 L713.05,659.25 L714.47,659.12 L715.90,659.00 L717.33,658.88 L718.76,658.77 L720.19,658.67 L721.62,658.56 L723.04,658.47 L724.47,658.37 L725.90,658.28 L727.33,658.19 L728.76,658.11 L730.19,658.03 L731.61,657.95 L733.04,657.87 L734.47,657.80 L735.90,657.73 L737.33,657.66 L738.75,657.59 L740.18,657.52 L741.61,657.45 L743.04,657.38 L744.47,657.32 L745.90,657.25 L747.32,657.18 L748.75,657.12 L750.18,657.05 L751.61,656.98 L753.04,656.91 L754.46,656.84 L755.89,656.77 L757.32,656.69 L758.75,656.62 L760.18,656.54 L761.61,656.46 L763.03,656.38 L764.46,656.29 L765.89,656.20 L767.32,656.11 L768.75,656.02 L770.18,655.93 L771.60,655.83 L773.03,655.73 L774.46,655.64 L775.89,655.54 L777.32,655.44 L778.74,655.34 L780.17,655.24 L781.60,655.14 L783.03,655.04 L784.46,654.94 L785.89,654.83 L787.31,654.73 L788.74,654.62 L790.17,654.51 L791.60,654.39 L793.03,654.27 L794.45,654.16 L795.88,654.03 L797.31,653.91 L798.74,653.78 L800.17,653.64 L801.60,653.50 L803.02,653.36 L804.45,653.21 L805.88,653.05 L807.31,652.89 L808.74,652.71 L810.17,652.53 L811.59,652.33 L813.02,652.13 L814.45,651.92 L815.88,651.69 L817.31,651.46 L818.73,651.22 L820.16,650.98 L821.59,650.73 L823.02,650.47 L824.45,650.21 L825.88,649.95 L827.30,649.69 L828.73,649.42 L830.16,649.16 L831.59,648.90 L833.02,648.64 L834.44,648.38 L835.87,648.13 L837.30,647.88 L838.73,647.63 L840.16,647.39 L841.59,647.16 L843.01,646.92 L844.44,646.69 L845.87,646.46 L847.30,646.24 L848.73,646.01 L850.16,645.79 L851.58,645.57 L853.01,645.35 L854.44,645.13 L855.87,644.91 L857.30,644.70 L858.72,644.48 L860.15,644.27 L861.58,644.05 L863.01,643.84 L864.44,643.62 L865.87,643.41 L867.29,643.19 L868.72,642.98 L870.15,642.76 L871.58,642.54 L873.01,642.33 L874.43,642.11 L875.86,641.89 L877.29,641.67 L878.72,641.45 L880.15,641.22 L881.58,641.00 L883.00,640.77 L884.43,640.54 L885.86,640.31 L887.29,640.08 L888.72,639.84 L890.15,639.60 L891.57,639.36 L893.00,639.12 L894.43,638.87 L895.86,638.62 L897.29,638.37 L898.71,638.11 L900.14,637.85 L901.57,637.58 L903.00,637.32 L904.43,637.05 L905.86,636.78 L907.28,636.50 L908.71,636.22 L910.14,635.94 L911.57,635.66 L913.00,635.37 L914.42,635.09 L915.85,634.80 L917.28,634.50 L918.71,634.21 L920.14,633.91 L921.57,633.61 L922.99,633.30 L924.42,633.00 L925.85,632.69 L927.28,632.38 L928.71,632.06 L930.14,631.74 L931.56,631.42 L932.99,631.10 L934.42,630.77 L935.85,630.45 L937.28,630.11 L938.70,629.78 L940.13,629.44 L941.56,629.10 L942.99,628.75 L944.42,628.40 L945.85,628.05 L947.27,627.70 L948.70,627.34 L950.13,626.98 L951.56,626.62 L952.99,626.25 L954.41,625.88 L955.84,625.50 L957.27,625.13 L958.70,624.74 L960.13,624.36 L961.56,623.97 L962.98,623.58 L964.41,623.18 L965.84,622.78 L967.27,622.38 L968.70,621.97 L970.13,621.56 L971.55,621.14 L972.98,620.72 L974.41,620.30 L975.84,619.87 L977.27,619.43 L978.69,619.00 L980.12,618.55 L981.55,618.10 L982.98,617.65 L984.41,617.19 L985.84,616.72 L987.26,616.25 L988.69,615.78 L990.12,615.29 L991.55,614.80 L992.98,614.31 L994.40,613.81 L995.83,613.30 L997.26,612.78 L998.69,612.26 L1000.12,611.73 L1001.55,611.20 L1002.97,610.66 L1004.40,610.11 L1005.83,609.55 L1007.26,608.99 L1008.69,608.41 L1010.12,607.83 L1011.54,607.24 L1012.97,606.65 L1014.40,606.04 L1015.83,605.43 L1017.26,604.81 L1018.68,604.18 L1020.11,603.54 L1021.54,602.89 L1022.97,602.23 L1024.40,601.56 L1025.83,600.88 L1027.25,600.19 L1028.68,599.49 L1030.11,598.78 L1031.54,598.06 L1032.97,597.33 L1034.39,596.59 L1035.82,595.83 L1037.25,595.06 L1038.68,594.28 L1040.11,593.49 L1041.54,592.69 L1042.96,591.87 L1044.39,591.04 L1045.82,590.19 L1047.25,589.33 L1048.68,588.46 L1050.11,587.57 L1051.53,586.67 L1052.96,585.75 L1054.39,584.82 L1055.82,583.87 L1057.25,582.91 L1058.67,581.93 L1060.10,580.94 L1061.53,579.93 L1062.96,578.90 L1064.39,577.86 L1065.82,576.79 L1067.24,575.71 L1068.67,574.61 L1070.10,573.49 L1071.53,572.35 L1072.96,571.18 L1074.38,569.98 L1075.81,568.75 L1077.24,567.48 L1078.67,566.18 L1080.10,564.84 L1081.53,563.46 L1082.95,562.05 L1084.38,560.60 L1085.81,559.11 L1087.24,557.59 L1088.67,556.03 L1090.10,554.45 L1091.52,552.82 L1092.95,551.17 L1094.38,549.49 L1095.81,547.78 L1097.24,546.04 L1098.66,544.27 L1100.09,542.48 L1101.52,540.66 L1102.95,538.81 L1104.38,536.95 L1105.81,535.06 L1107.23,533.14 L1108.66,531.21 L1110.09,529.25 L1111.52,527.28 L1112.95,525.29 L1114.37,523.28 L1115.80,521.25 L1117.23,519.20 L1118.66,517.13 L1120.09,515.05 L1121.52,512.93 L1122.94,510.79 L1124.37,508.61 L1125.80,506.40 L1127.23,504.14 L1128.66,501.84 L1130.09,499.50 L1131.51,497.11 L1132.94,494.67 L1134.37,492.19 L1135.80,489.66 L1137.23,487.07 L1138.65,484.44 L1140.08,481.76 L1141.51,479.02 L1142.94,476.23 L1144.37,473.38 L1145.80,470.48 L1147.22,467.51 L1148.65,464.46 L1150.08,461.33 L1151.51,458.11 L1152.94,454.79 L1154.36,451.37 L1155.79,447.85 L1157.22,444.23 L1158.65,440.52 L1160.08,436.73 L1161.51,432.87 L1162.93,428.95 L1164.36,424.98 L1165.79,420.98 L1167.22,416.96 L1168.65,412.91 L1170.08,408.84 L1171.50,404.75 L1172.93,400.62 L1174.36,396.46 L1175.79,392.25 L1177.22,388.00 L1178.64,383.71 L1180.07,379.40 L1181.50,375.07 L1182.93,370.76 L1184.36,366.46 L1185.79,362.21 L1187.21,358.03 L1188.64,353.91 L1190.07,349.88 L1191.50,345.93 L1192.93,342.06 L1194.35,338.27 L1195.78,334.55 L1197.21,330.90 L1198.64,327.36 L1200.07,323.94 L1201.50,320.68 L1202.92,317.63 L1204.35,314.83 L1205.78,312.28 L1207.21,309.99 L1208.64,307.96 L1210.07,306.15 L1211.49,304.54 L1212.92,303.08 L1214.35,301.77 L1215.78,300.59 L1217.21,299.54 L1218.63,298.63 L1220.06,297.87 L1221.49,297.27 L1222.92,296.84 L1224.35,296.60 L1225.78,296.53 L1227.20,296.64 L1228.63,296.91 L1230.06,297.34 L1231.49,297.90 L1232.92,298.60 L1234.34,299.42 L1235.77,300.36 L1237.20,301.45 L1238.63,302.67 L1240.06,304.05 L1241.49,305.57 L1242.91,307.22 L1244.34,308.98 L1245.77,310.80 L1247.20,312.65 L1248.63,314.48 L1250.06,316.27 L1251.48,317.99 L1252.91,319.65 L1254.34,321.23 L1255.77,322.76 L1257.20,324.23 L1258.62,325.66 L1260.05,327.04 L1261.48,328.37 L1262.91,329.66 L1264.34,330.89 L1265.77,332.08 L1267.19,333.21 L1268.62,334.28 L1270.05,335.31 L1271.48,336.29 L1272.91,337.22 L1274.33,338.10 L1275.76,338.91 L1277.19,339.64 L1278.62,340.26 L1280.05,340.75 L1281.48,341.10 L1282.90,341.30 L1284.33,341.33 L1285.76,341.22 L1287.19,340.95 L1288.62,340.57 L1290.05,340.07 L1291.47,339.48 L1292.90,338.82 L1294.33,338.10 L1295.76,337.32 L1297.19,336.50 L1298.61,335.63 L1300.04,334.71 L1301.47,333.72 L1302.90,332.68 L1304.33,331.57 L1305.76,330.38 L1307.18,329.13 L1308.61,327.82 L1310.04,326.42 L1311.47,324.95 L1312.90,323.40 L1314.32,321.74 L1315.75,319.97 L1317.18,318.10 L1318.61,316.12 L1320.04,314.06 L1321.47,311.95 L1322.89,309.84 L1324.32,307.77 L1325.75,305.79 L1327.18,303.92 L1328.61,302.19 L1330.04,300.60 L1331.46,299.15 L1332.89,297.82 L1334.32,296.62 L1335.75,295.54 L1337.18,294.59 L1338.60,293.78 L1340.03,293.13 L1341.46,292.65 L1342.89,292.35 L1344.32,292.25 L1345.75,292.32 L1347.17,292.56 L1348.60,292.96 L1350.03,293.51 L1351.46,294.20 L1352.89,295.04 L1354.31,296.04 L1355.74,297.23 L1357.17,298.63 L1358.60,300.27 L1360.03,302.16 L1361.46,304.29 L1362.88,306.65 L1364.31,309.20 L1365.74,311.92 L1367.17,314.76 L1368.60,317.71 L1370.03,320.77 L1371.45,323.94 L1372.88,327.23 L1374.31,330.66 L1375.74,334.25 L1377.17,338.02 L1378.59,341.98 L1380.02,346.15 L1381.45,350.55 L1382.88,355.16 L1384.31,359.98 L1385.74,364.98 L1387.16,370.10 L1388.59,375.30 L1390.02,380.53 L1391.45,385.73 L1392.88,390.87 L1394.30,395.93 L1395.73,400.88 L1397.16,405.73 L1398.59,410.50 L1400.02,415.20 L1401.45,419.85 L1402.87,424.48 L1404.30,429.10 L1405.73,433.75 L1407.16,438.44 L1408.59,443.19 L1410.02,448.01 L1411.44,452.93 L1412.87,457.95 L1414.30,463.05 L1415.73,468.21 L1417.16,473.41 L1418.58,478.61 L1420.01,483.74 L1421.44,488.79 L1422.87,493.70 L1424.30,498.44 L1425.73,503.01 L1427.15,507.40 L1428.58,511.61 L1430.01,515.67 L1431.44,519.60 L1432.87,523.40 L1434.29,527.10 L1435.72,530.72 L1437.15,534.27 L1438.58,537.76 L1440.01,541.20 L1441.44,544.60 L1442.86,547.97 L1444.29,551.31 L1445.72,554.62 L1447.15,557.91 L1448.58,561.16 L1450.01,564.39 L1451.43,567.59 L1452.86,570.75 L1454.29,573.89 L1455.72,576.99 L1457.15,580.05 L1458.57,583.07 L1460.00,586.04 L1461.43,588.96 L1462.86,591.79 L1464.29,594.50 L1465.72,597.02 L1467.14,599.30 L1468.57,601.25 L1470.00,602.83" fill="none" stroke="#a2142f" stroke-width="15.3" stroke-dasharray="65.3 16.9 31.4 16.9"/>
</g>
<rect x="1118" y="37.7" width="83.6" height="17" fill="#ff0000"/>
<text transform="translate(1209.0,54.6) scale(1.229,1)" font-size="31.0" fill="#000">10 s/m</text>
<rect x="1118" y="70.9" width="79.0" height="15.6" fill="#0000ff"/>
<text transform="translate(1209.0,91) scale(1.239,1)" font-size="31.0" fill="#000">4x10<tspan dy="-11">3</tspan><tspan dy="11"> s/m</tspan></text>
<rect x="1118" y="106.8" width="79.0" height="15.6" fill="#d95319"/>
<text transform="translate(1209.0,127.5) scale(1.239,1)" font-size="31.0" fill="#000">8x10<tspan dy="-11">3</tspan><tspan dy="11"> s/m</tspan></text>
<rect x="1118" y="142.5" width="79.0" height="15.6" fill="#edb120"/>
<text transform="translate(1209.0,163) scale(1.245,1)" font-size="31.0" fill="#000">85x10<tspan dy="-11">2</tspan><tspan dy="11"> s/m</tspan></text>
<rect x="1118" y="178.6" width="79.0" height="15.6" fill="#7e2f8e"/>
<text transform="translate(1209.0,199) scale(1.245,1)" font-size="31.0" fill="#000">75x10<tspan dy="-11">3</tspan><tspan dy="11"> s/m</tspan></text>
<rect x="1118" y="214.2" width="79.0" height="15.6" fill="#77ac30"/>
<text transform="translate(1209.0,235) scale(1.245,1)" font-size="31.0" fill="#000">12x10<tspan dy="-11">4</tspan><tspan dy="11"> s/m</tspan></text>
<rect x="1118" y="250.6" width="79.0" height="15.6" fill="#4dbeee"/>
<text transform="translate(1209.0,271) scale(1.245,1)" font-size="31.0" fill="#000">15x10<tspan dy="-11">4</tspan><tspan dy="11"> s/m</tspan></text>
<rect x="1118" y="286.2" width="79.0" height="15.6" fill="#a2142f"/>
<text transform="translate(1209.0,307) scale(1.239,1)" font-size="31.0" fill="#000">2x10<tspan dy="-11">5</tspan><tspan dy="11"> s/m</tspan></text>
<text transform="translate(759.76,89.45) scale(0.52778,0.47273)" font-size="100" fill="#111">(a)</text>
<text transform="translate(709.46,710.34) scale(0.38350,0.32500)" font-size="100" fill="#2a2a2a">0</text>
<text transform="translate(684.78,642.75) scale(0.38350,0.32500)" font-size="100" fill="#2a2a2a">0.1</text>
<text transform="translate(684.39,575.24) scale(0.38350,0.32500)" font-size="100" fill="#2a2a2a">0.2</text>
<text transform="translate(684.10,507.73) scale(0.38350,0.32500)" font-size="100" fill="#2a2a2a">0.3</text>
<text transform="translate(683.43,440.22) scale(0.38350,0.32500)" font-size="100" fill="#2a2a2a">0.4</text>
<text transform="translate(684.20,372.71) scale(0.38350,0.32500)" font-size="100" fill="#2a2a2a">0.5</text>
<text transform="translate(683.91,305.20) scale(0.38350,0.32500)" font-size="100" fill="#2a2a2a">0.6</text>
<text transform="translate(683.72,237.69) scale(0.38350,0.32500)" font-size="100" fill="#2a2a2a">0.7</text>
<text transform="translate(684.01,170.18) scale(0.38350,0.32500)" font-size="100" fill="#2a2a2a">0.8</text>
<text transform="translate(684.10,102.67) scale(0.38350,0.32500)" font-size="100" fill="#2a2a2a">0.9</text>
<text transform="translate(707.74,35.33) scale(0.38350,0.32500)" font-size="100" fill="#2a2a2a">1</text>
<text transform="translate(813.10,735.69) scale(0.38860,0.33500)" font-size="100" fill="#2a2a2a">0.05</text>
<text transform="translate(954.55,735.69) scale(0.38860,0.33500)" font-size="100" fill="#2a2a2a">0.1</text>
<text transform="translate(1076.00,735.69) scale(0.38860,0.33500)" font-size="100" fill="#2a2a2a">0.15</text>
<text transform="translate(1217.26,735.69) scale(0.38860,0.33500)" font-size="100" fill="#2a2a2a">0.2</text>
<text transform="translate(1338.90,735.69) scale(0.38860,0.33500)" font-size="100" fill="#2a2a2a">0.25</text>
<text transform="translate(1480.01,735.69) scale(0.38860,0.33500)" font-size="100" fill="#2a2a2a">0.3</text>
<text transform="translate(1601.80,735.69) scale(0.38860,0.33500)" font-size="100" fill="#2a2a2a">0.35</text>
<text transform="translate(1742.57,735.69) scale(0.38860,0.33500)" font-size="100" fill="#2a2a2a">0.4</text>
<text transform="translate(1116.95,771.32) scale(0.54135,0.41758)" font-size="100" fill="#2a2a2a">Frequency (THz)</text>
<text transform="translate(666.76,437.44) rotate(-90) scale(0.44076,0.53187)" font-size="100" fill="#2a2a2a">Aborptivity</text>
<g shape-rendering="crispEdges">
<rect x="152.3" y="964.4" width="38.0" height="667.8" fill="#0000ff"/>
<rect x="190.0" y="964.4" width="3.3" height="667.8" fill="#0008ff"/>
<rect x="193.0" y="964.4" width="3.3" height="667.8" fill="#000dff"/>
<rect x="196.0" y="964.4" width="2.3" height="667.8" fill="#0012ff"/>
<rect x="198.0" y="964.4" width="3.3" height="667.8" fill="#0017ff"/>
<rect x="201.0" y="964.4" width="2.3" height="667.8" fill="#001cff"/>
<rect x="203.0" y="964.4" width="2.3" height="667.8" fill="#0021ff"/>
<rect x="205.0" y="964.4" width="3.3" height="667.8" fill="#0026ff"/>
<rect x="208.0" y="964.4" width="2.3" height="667.8" fill="#002bff"/>
<rect x="210.0" y="964.4" width="2.3" height="667.8" fill="#0030ff"/>
<rect x="212.0" y="964.4" width="2.3" height="667.8" fill="#0036ff"/>
<rect x="214.0" y="964.4" width="2.3" height="667.8" fill="#003bff"/>
<rect x="216.0" y="964.4" width="2.3" height="667.8" fill="#0040ff"/>
<rect x="218.0" y="964.4" width="2.3" height="667.8" fill="#0045ff"/>
<rect x="220.0" y="964.4" width="2.3" height="667.8" fill="#004aff"/>
<rect x="222.0" y="964.4" width="2.3" height="667.8" fill="#004fff"/>
<rect x="224.0" y="964.4" width="1.3" height="667.8" fill="#0054ff"/>
<rect x="225.0" y="964.4" width="2.3" height="667.8" fill="#0059ff"/>
<rect x="227.0" y="964.4" width="1.3" height="667.8" fill="#005eff"/>
<rect x="228.0" y="964.4" width="1.3" height="667.8" fill="#0063ff"/>
<rect x="229.0" y="964.4" width="2.3" height="667.8" fill="#0069ff"/>
<rect x="231.0" y="964.4" width="1.3" height="667.8" fill="#006eff"/>
<rect x="232.0" y="964.4" width="2.3" height="667.8" fill="#0073ff"/>
<rect x="234.0" y="964.4" width="1.3" height="667.8" fill="#0078ff"/>
<rect x="235.0" y="964.4" width="1.3" height="667.8" fill="#007dff"/>
<rect x="236.0" y="964.4" width="2.3" height="667.8" fill="#0082ff"/>
<rect x="238.0" y="964.4" width="1.3" height="667.8" fill="#0087ff"/>
<rect x="239.0" y="964.4" width="1.3" height="667.8" fill="#008cff"/>
<rect x="240.0" y="964.4" width="1.3" height="667.8" fill="#0091ff"/>
<rect x="241.0" y="964.4" width="1.3" height="667.8" fill="#0096ff"/>
<rect x="242.0" y="964.4" width="1.3" height="667.8" fill="#009cff"/>
<rect x="243.0" y="964.4" width="1.3" height="667.8" fill="#00a1ff"/>
<rect x="244.0" y="964.4" width="1.3" height="667.8" fill="#00a6ff"/>
<rect x="245.0" y="964.4" width="1.3" height="667.8" fill="#00abff"/>
<rect x="246.0" y="964.4" width="1.3" height="667.8" fill="#00b0ff"/>
<rect x="247.0" y="964.4" width="1.3" height="667.8" fill="#00b5ff"/>
<rect x="248.0" y="964.4" width="1.3" height="667.8" fill="#00baff"/>
<rect x="249.0" y="964.4" width="1.3" height="667.8" fill="#00bfff"/>
<rect x="250.0" y="964.4" width="1.3" height="667.8" fill="#00c4ff"/>
<rect x="251.0" y="964.4" width="1.3" height="667.8" fill="#00c9ff"/>
<rect x="252.0" y="964.4" width="1.3" height="667.8" fill="#00cfff"/>
<rect x="253.0" y="964.4" width="1.3" height="667.8" fill="#00d4ff"/>
<rect x="254.0" y="964.4" width="1.3" height="667.8" fill="#00d9ff"/>
<rect x="255.0" y="964.4" width="1.3" height="667.8" fill="#00deff"/>
<rect x="256.0" y="964.4" width="1.3" height="667.8" fill="#00e3ff"/>
<rect x="257.0" y="964.4" width="1.3" height="667.8" fill="#00e8ff"/>
<rect x="258.0" y="964.4" width="1.3" height="667.8" fill="#00edff"/>
<rect x="259.0" y="964.4" width="1.3" height="667.8" fill="#00f2ff"/>
<rect x="260.0" y="964.4" width="1.3" height="667.8" fill="#00f7ff"/>
<rect x="261.0" y="964.4" width="1.3" height="667.8" fill="#00fffc"/>
<rect x="262.0" y="964.4" width="1.3" height="667.8" fill="#00fff7"/>
<rect x="263.0" y="964.4" width="1.3" height="667.8" fill="#00fff2"/>
<rect x="264.0" y="964.4" width="1.3" height="667.8" fill="#00ffed"/>
<rect x="265.0" y="964.4" width="1.3" height="667.8" fill="#00ffe8"/>
<rect x="266.0" y="964.4" width="1.3" height="667.8" fill="#00ffde"/>
<rect x="267.0" y="964.4" width="1.3" height="667.8" fill="#00ffd9"/>
<rect x="268.0" y="964.4" width="1.3" height="667.8" fill="#00ffd4"/>
<rect x="269.0" y="964.4" width="1.3" height="667.8" fill="#00ffcf"/>
<rect x="270.0" y="964.4" width="1.3" height="667.8" fill="#00ffc9"/>
<rect x="271.0" y="964.4" width="1.3" height="667.8" fill="#00ffbf"/>
<rect x="272.0" y="964.4" width="1.3" height="667.8" fill="#00ffba"/>
<rect x="273.0" y="964.4" width="1.3" height="667.8" fill="#00ffb5"/>
<rect x="274.0" y="964.4" width="1.3" height="667.8" fill="#00ffb0"/>
<rect x="275.0" y="964.4" width="1.3" height="667.8" fill="#00ffab"/>
<rect x="276.0" y="964.4" width="1.3" height="667.8" fill="#00ffa1"/>
<rect x="277.0" y="964.4" width="1.3" height="667.8" fill="#00ff9c"/>
<rect x="278.0" y="964.4" width="1.3" height="667.8" fill="#00ff96"/>
<rect x="279.0" y="964.4" width="1.3" height="667.8" fill="#00ff91"/>
<rect x="280.0" y="964.4" width="1.3" height="667.8" fill="#00ff8c"/>
<rect x="281.0" y="964.4" width="1.3" height="667.8" fill="#00ff82"/>
<rect x="282.0" y="964.4" width="1.3" height="667.8" fill="#00ff7d"/>
<rect x="283.0" y="964.4" width="1.3" height="667.8" fill="#00ff78"/>
<rect x="284.0" y="964.4" width="1.3" height="667.8" fill="#00ff6e"/>
<rect x="285.0" y="964.4" width="1.3" height="667.8" fill="#00ff69"/>
<rect x="286.0" y="964.4" width="1.3" height="667.8" fill="#00ff5e"/>
<rect x="287.0" y="964.4" width="1.3" height="667.8" fill="#00ff59"/>
<rect x="288.0" y="964.4" width="1.3" height="667.8" fill="#00ff4f"/>
<rect x="289.0" y="964.4" width="1.3" height="667.8" fill="#00ff4a"/>
<rect x="290.0" y="964.4" width="1.3" height="667.8" fill="#00ff45"/>
<rect x="291.0" y="964.4" width="1.3" height="667.8" fill="#00ff3b"/>
<rect x="292.0" y="964.4" width="1.3" height="667.8" fill="#00ff36"/>
<rect x="293.0" y="964.4" width="1.3" height="667.8" fill="#00ff2b"/>
<rect x="294.0" y="964.4" width="1.3" height="667.8" fill="#00ff26"/>
<rect x="295.0" y="964.4" width="1.3" height="667.8" fill="#00ff1c"/>
<rect x="296.0" y="964.4" width="1.3" height="667.8" fill="#00ff17"/>
<rect x="297.0" y="964.4" width="1.3" height="667.8" fill="#00ff0d"/>
<rect x="298.0" y="964.4" width="1.3" height="667.8" fill="#00ff08"/>
<rect x="299.0" y="964.4" width="1.3" height="667.8" fill="#03ff00"/>
<rect x="300.0" y="964.4" width="1.3" height="667.8" fill="#08ff00"/>
<rect x="301.0" y="964.4" width="1.3" height="667.8" fill="#12ff00"/>
<rect x="302.0" y="964.4" width="1.3" height="667.8" fill="#1cff00"/>
<rect x="303.0" y="964.4" width="1.3" height="667.8" fill="#21ff00"/>
<rect x="304.0" y="964.4" width="1.3" height="667.8" fill="#2bff00"/>
<rect x="305.0" y="964.4" width="1.3" height="667.8" fill="#36ff00"/>
<rect x="306.0" y="964.4" width="1.3" height="667.8" fill="#3bff00"/>
<rect x="307.0" y="964.4" width="1.3" height="667.8" fill="#45ff00"/>
<rect x="308.0" y="964.4" width="1.3" height="667.8" fill="#4fff00"/>
<rect x="309.0" y="964.4" width="1.3" height="667.8" fill="#59ff00"/>
<rect x="310.0" y="964.4" width="1.3" height="667.8" fill="#5eff00"/>
<rect x="311.0" y="964.4" width="1.3" height="667.8" fill="#69ff00"/>
<rect x="312.0" y="964.4" width="1.3" height="667.8" fill="#73ff00"/>
<rect x="313.0" y="964.4" width="1.3" height="667.8" fill="#78ff00"/>
<rect x="314.0" y="964.4" width="1.3" height="667.8" fill="#82ff00"/>
<rect x="315.0" y="964.4" width="1.3" height="667.8" fill="#8cff00"/>
<rect x="316.0" y="964.4" width="1.3" height="667.8" fill="#96ff00"/>
<rect x="317.0" y="964.4" width="1.3" height="667.8" fill="#a1ff00"/>
<rect x="318.0" y="964.4" width="1.3" height="667.8" fill="#a6ff00"/>
<rect x="319.0" y="964.4" width="1.3" height="667.8" fill="#b0ff00"/>
<rect x="320.0" y="964.4" width="1.3" height="667.8" fill="#baff00"/>
<rect x="321.0" y="964.4" width="1.3" height="667.8" fill="#c4ff00"/>
<rect x="322.0" y="964.4" width="1.3" height="667.8" fill="#cfff00"/>
<rect x="323.0" y="964.4" width="1.3" height="667.8" fill="#d9ff00"/>
<rect x="324.0" y="964.4" width="1.3" height="667.8" fill="#e3ff00"/>
<rect x="325.0" y="964.4" width="1.3" height="667.8" fill="#e8ff00"/>
<rect x="326.0" y="964.4" width="1.3" height="667.8" fill="#f2ff00"/>
<rect x="327.0" y="964.4" width="1.3" height="667.8" fill="#fcff00"/>
<rect x="328.0" y="964.4" width="1.3" height="667.8" fill="#fff700"/>
<rect x="329.0" y="964.4" width="1.3" height="667.8" fill="#ffed00"/>
<rect x="330.0" y="964.4" width="1.3" height="667.8" fill="#ffe800"/>
<rect x="331.0" y="964.4" width="1.3" height="667.8" fill="#ffde00"/>
<rect x="332.0" y="964.4" width="1.3" height="667.8" fill="#ffd400"/>
<rect x="333.0" y="964.4" width="1.3" height="667.8" fill="#ffcf00"/>
<rect x="334.0" y="964.4" width="1.3" height="667.8" fill="#ffc400"/>
<rect x="335.0" y="964.4" width="1.3" height="667.8" fill="#ffba00"/>
<rect x="336.0" y="964.4" width="1.3" height="667.8" fill="#ffb500"/>
<rect x="337.0" y="964.4" width="1.3" height="667.8" fill="#ffab00"/>
<rect x="338.0" y="964.4" width="1.3" height="667.8" fill="#ffa100"/>
<rect x="339.0" y="964.4" width="1.3" height="667.8" fill="#ff9c00"/>
<rect x="340.0" y="964.4" width="1.3" height="667.8" fill="#ff9100"/>
<rect x="341.0" y="964.4" width="1.3" height="667.8" fill="#ff8700"/>
<rect x="342.0" y="964.4" width="1.3" height="667.8" fill="#ff7d00"/>
<rect x="343.0" y="964.4" width="1.3" height="667.8" fill="#ff7800"/>
<rect x="344.0" y="964.4" width="1.3" height="667.8" fill="#ff7300"/>
<rect x="345.0" y="964.4" width="1.3" height="667.8" fill="#ff6e00"/>
<rect x="346.0" y="964.4" width="1.3" height="667.8" fill="#ff6900"/>
<rect x="347.0" y="964.4" width="1.3" height="667.8" fill="#ff5e00"/>
<rect x="348.0" y="964.4" width="1.3" height="667.8" fill="#ff5900"/>
<rect x="349.0" y="964.4" width="1.3" height="667.8" fill="#ff5400"/>
<rect x="350.0" y="964.4" width="1.3" height="667.8" fill="#ff4f00"/>
<rect x="351.0" y="964.4" width="1.3" height="667.8" fill="#ff4a00"/>
<rect x="352.0" y="964.4" width="1.3" height="667.8" fill="#ff4000"/>
<rect x="353.0" y="964.4" width="1.3" height="667.8" fill="#ff3b00"/>
<rect x="354.0" y="964.4" width="1.3" height="667.8" fill="#ff3600"/>
<rect x="355.0" y="964.4" width="1.3" height="667.8" fill="#ff3000"/>
<rect x="356.0" y="964.4" width="1.3" height="667.8" fill="#ff2b00"/>
<rect x="357.0" y="964.4" width="1.3" height="667.8" fill="#ff2100"/>
<rect x="358.0" y="964.4" width="1.3" height="667.8" fill="#ff1c00"/>
<rect x="359.0" y="964.4" width="1.3" height="667.8" fill="#ff1700"/>
<rect x="360.0" y="964.4" width="1.3" height="667.8" fill="#ff1200"/>
<rect x="361.0" y="964.4" width="1.3" height="667.8" fill="#ff0d00"/>
<rect x="362.0" y="964.4" width="35.3" height="667.8" fill="#ff0000"/>
<rect x="397.0" y="964.4" width="1.3" height="667.8" fill="#ff0800"/>
<rect x="398.0" y="964.4" width="2.3" height="667.8" fill="#ff0d00"/>
<rect x="400.0" y="964.4" width="2.3" height="667.8" fill="#ff1200"/>
<rect x="402.0" y="964.4" width="1.3" height="667.8" fill="#ff1700"/>
<rect x="403.0" y="964.4" width="2.3" height="667.8" fill="#ff1c00"/>
<rect x="405.0" y="964.4" width="1.3" height="667.8" fill="#ff2100"/>
<rect x="406.0" y="964.4" width="1.3" height="667.8" fill="#ff2600"/>
<rect x="407.0" y="964.4" width="1.3" height="667.8" fill="#ff2b00"/>
<rect x="408.0" y="964.4" width="1.3" height="667.8" fill="#ff3000"/>
<rect x="409.0" y="964.4" width="1.3" height="667.8" fill="#ff3600"/>
<rect x="410.0" y="964.4" width="1.3" height="667.8" fill="#ff4000"/>
<rect x="411.0" y="964.4" width="1.3" height="667.8" fill="#ff4500"/>
<rect x="412.0" y="964.4" width="1.3" height="667.8" fill="#ff4a00"/>
<rect x="413.0" y="964.4" width="1.3" height="667.8" fill="#ff4f00"/>
<rect x="414.0" y="964.4" width="1.3" height="667.8" fill="#ff5400"/>
<rect x="415.0" y="964.4" width="1.3" height="667.8" fill="#ff5900"/>
<rect x="416.0" y="964.4" width="1.3" height="667.8" fill="#ff5e00"/>
<rect x="417.0" y="964.4" width="1.3" height="667.8" fill="#ff6300"/>
<rect x="418.0" y="964.4" width="1.3" height="667.8" fill="#ff6900"/>
<rect x="419.0" y="964.4" width="1.3" height="667.8" fill="#ff7300"/>
<rect x="420.0" y="964.4" width="1.3" height="667.8" fill="#ff7800"/>
<rect x="421.0" y="964.4" width="1.3" height="667.8" fill="#ff7d00"/>
<rect x="422.0" y="964.4" width="1.3" height="667.8" fill="#ff8200"/>
<rect x="423.0" y="964.4" width="1.3" height="667.8" fill="#ff8700"/>
<rect x="424.0" y="964.4" width="1.3" height="667.8" fill="#ff9100"/>
<rect x="425.0" y="964.4" width="1.3" height="667.8" fill="#ff9600"/>
<rect x="426.0" y="964.4" width="1.3" height="667.8" fill="#ff9c00"/>
<rect x="427.0" y="964.4" width="1.3" height="667.8" fill="#ffa600"/>
<rect x="428.0" y="964.4" width="1.3" height="667.8" fill="#ffab00"/>
<rect x="429.0" y="964.4" width="1.3" height="667.8" fill="#ffb000"/>
<rect x="430.0" y="964.4" width="1.3" height="667.8" fill="#ffba00"/>
<rect x="431.0" y="964.4" width="1.3" height="667.8" fill="#ffbf00"/>
<rect x="432.0" y="964.4" width="1.3" height="667.8" fill="#ffc400"/>
<rect x="433.0" y="964.4" width="1.3" height="667.8" fill="#ffcf00"/>
<rect x="434.0" y="964.4" width="1.3" height="667.8" fill="#ffd400"/>
<rect x="435.0" y="964.4" width="1.3" height="667.8" fill="#ffde00"/>
<rect x="436.0" y="964.4" width="1.3" height="667.8" fill="#ffe300"/>
<rect x="437.0" y="964.4" width="1.3" height="667.8" fill="#ffe800"/>
<rect x="438.0" y="964.4" width="1.3" height="667.8" fill="#fff200"/>
<rect x="439.0" y="964.4" width="1.3" height="667.8" fill="#fff700"/>
<rect x="440.0" y="964.4" width="1.3" height="667.8" fill="#fffc00"/>
<rect x="441.0" y="964.4" width="1.3" height="667.8" fill="#fcff00"/>
<rect x="442.0" y="964.4" width="1.3" height="667.8" fill="#f2ff00"/>
<rect x="443.0" y="964.4" width="1.3" height="667.8" fill="#edff00"/>
<rect x="444.0" y="964.4" width="1.3" height="667.8" fill="#e8ff00"/>
<rect x="445.0" y="964.4" width="1.3" height="667.8" fill="#e3ff00"/>
<rect x="446.0" y="964.4" width="1.3" height="667.8" fill="#deff00"/>
<rect x="447.0" y="964.4" width="1.3" height="667.8" fill="#d9ff00"/>
<rect x="448.0" y="964.4" width="1.3" height="667.8" fill="#d4ff00"/>
<rect x="449.0" y="964.4" width="1.3" height="667.8" fill="#cfff00"/>
<rect x="450.0" y="964.4" width="1.3" height="667.8" fill="#c9ff00"/>
<rect x="451.0" y="964.4" width="1.3" height="667.8" fill="#c4ff00"/>
<rect x="452.0" y="964.4" width="1.3" height="667.8" fill="#bfff00"/>
<rect x="453.0" y="964.4" width="1.3" height="667.8" fill="#baff00"/>
<rect x="454.0" y="964.4" width="1.3" height="667.8" fill="#b5ff00"/>
<rect x="455.0" y="964.4" width="1.3" height="667.8" fill="#b0ff00"/>
<rect x="456.0" y="964.4" width="1.3" height="667.8" fill="#abff00"/>
<rect x="457.0" y="964.4" width="1.3" height="667.8" fill="#a1ff00"/>
<rect x="458.0" y="964.4" width="1.3" height="667.8" fill="#9cff00"/>
<rect x="459.0" y="964.4" width="1.3" height="667.8" fill="#96ff00"/>
<rect x="460.0" y="964.4" width="1.3" height="667.8" fill="#91ff00"/>
<rect x="461.0" y="964.4" width="1.3" height="667.8" fill="#8cff00"/>
<rect x="462.0" y="964.4" width="1.3" height="667.8" fill="#87ff00"/>
<rect x="463.0" y="964.4" width="1.3" height="667.8" fill="#82ff00"/>
<rect x="464.0" y="964.4" width="1.3" height="667.8" fill="#7dff00"/>
<rect x="465.0" y="964.4" width="1.3" height="667.8" fill="#78ff00"/>
<rect x="466.0" y="964.4" width="1.3" height="667.8" fill="#73ff00"/>
<rect x="467.0" y="964.4" width="1.3" height="667.8" fill="#6eff00"/>
<rect x="468.0" y="964.4" width="1.3" height="667.8" fill="#69ff00"/>
<rect x="469.0" y="964.4" width="1.3" height="667.8" fill="#63ff00"/>
<rect x="470.0" y="964.4" width="1.3" height="667.8" fill="#5eff00"/>
<rect x="471.0" y="964.4" width="1.3" height="667.8" fill="#59ff00"/>
<rect x="472.0" y="964.4" width="1.3" height="667.8" fill="#54ff00"/>
<rect x="473.0" y="964.4" width="1.3" height="667.8" fill="#4fff00"/>
<rect x="474.0" y="964.4" width="1.3" height="667.8" fill="#4aff00"/>
<rect x="475.0" y="964.4" width="1.3" height="667.8" fill="#45ff00"/>
<rect x="476.0" y="964.4" width="1.3" height="667.8" fill="#40ff00"/>
<rect x="477.0" y="964.4" width="1.3" height="667.8" fill="#3bff00"/>
<rect x="478.0" y="964.4" width="1.3" height="667.8" fill="#36ff00"/>
<rect x="479.0" y="964.4" width="1.3" height="667.8" fill="#30ff00"/>
<rect x="480.0" y="964.4" width="1.3" height="667.8" fill="#2bff00"/>
<rect x="481.0" y="964.4" width="1.3" height="667.8" fill="#26ff00"/>
<rect x="482.0" y="964.4" width="1.3" height="667.8" fill="#21ff00"/>
<rect x="483.0" y="964.4" width="1.3" height="667.8" fill="#1cff00"/>
<rect x="484.0" y="964.4" width="1.3" height="667.8" fill="#17ff00"/>
<rect x="485.0" y="964.4" width="1.3" height="667.8" fill="#12ff00"/>
<rect x="486.0" y="964.4" width="1.3" height="667.8" fill="#0dff00"/>
<rect x="487.0" y="964.4" width="1.3" height="667.8" fill="#08ff00"/>
<rect x="488.0" y="964.4" width="1.3" height="667.8" fill="#03ff00"/>
<rect x="489.0" y="964.4" width="1.3" height="667.8" fill="#00ff03"/>
<rect x="490.0" y="964.4" width="2.3" height="667.8" fill="#00ff08"/>
<rect x="492.0" y="964.4" width="2.3" height="667.8" fill="#00ff0d"/>
<rect x="494.0" y="964.4" width="2.3" height="667.8" fill="#00ff12"/>
<rect x="496.0" y="964.4" width="1.3" height="667.8" fill="#00ff17"/>
<rect x="497.0" y="964.4" width="2.3" height="667.8" fill="#00ff1c"/>
<rect x="499.0" y="964.4" width="2.3" height="667.8" fill="#00ff21"/>
<rect x="501.0" y="964.4" width="2.3" height="667.8" fill="#00ff26"/>
<rect x="503.0" y="964.4" width="1.3" height="667.8" fill="#00ff2b"/>
<rect x="504.0" y="964.4" width="2.3" height="667.8" fill="#00ff30"/>
<rect x="506.0" y="964.4" width="2.3" height="667.8" fill="#00ff36"/>
<rect x="508.0" y="964.4" width="2.3" height="667.8" fill="#00ff3b"/>
<rect x="510.0" y="964.4" width="1.3" height="667.8" fill="#00ff40"/>
<rect x="511.0" y="964.4" width="2.3" height="667.8" fill="#00ff45"/>
<rect x="513.0" y="964.4" width="2.3" height="667.8" fill="#00ff4a"/>
<rect x="515.0" y="964.4" width="2.3" height="667.8" fill="#00ff4f"/>
<rect x="517.0" y="964.4" width="1.3" height="667.8" fill="#00ff54"/>
<rect x="518.0" y="964.4" width="2.3" height="667.8" fill="#00ff59"/>
<rect x="520.0" y="964.4" width="2.3" height="667.8" fill="#00ff5e"/>
<rect x="522.0" y="964.4" width="2.3" height="667.8" fill="#00ff63"/>
<rect x="524.0" y="964.4" width="2.3" height="667.8" fill="#00ff69"/>
<rect x="526.0" y="964.4" width="1.3" height="667.8" fill="#00ff6e"/>
<rect x="527.0" y="964.4" width="2.3" height="667.8" fill="#00ff73"/>
<rect x="529.0" y="964.4" width="2.3" height="667.8" fill="#00ff78"/>
<rect x="531.0" y="964.4" width="2.3" height="667.8" fill="#00ff7d"/>
<rect x="533.0" y="964.4" width="1.3" height="667.8" fill="#00ff82"/>
<rect x="534.0" y="964.4" width="2.3" height="667.8" fill="#00ff87"/>
<rect x="536.0" y="964.4" width="2.3" height="667.8" fill="#00ff8c"/>
<rect x="538.0" y="964.4" width="1.3" height="667.8" fill="#00ff91"/>
<rect x="539.0" y="964.4" width="2.3" height="667.8" fill="#00ff96"/>
<rect x="541.0" y="964.4" width="2.3" height="667.8" fill="#00ff9c"/>
<rect x="543.0" y="964.4" width="1.3" height="667.8" fill="#00ffa1"/>
<rect x="544.0" y="964.4" width="2.3" height="667.8" fill="#00ffa6"/>
<rect x="546.0" y="964.4" width="2.3" height="667.8" fill="#00ffab"/>
<rect x="548.0" y="964.4" width="1.3" height="667.8" fill="#00ffb0"/>
<rect x="549.0" y="964.4" width="2.3" height="667.8" fill="#00ffb5"/>
<rect x="551.0" y="964.4" width="2.3" height="667.8" fill="#00ffba"/>
<rect x="553.0" y="964.4" width="1.3" height="667.8" fill="#00ffbf"/>
<rect x="554.0" y="964.4" width="2.3" height="667.8" fill="#00ffc4"/>
<rect x="556.0" y="964.4" width="2.3" height="667.8" fill="#00ffc9"/>
<rect x="558.0" y="964.4" width="1.3" height="667.8" fill="#00ffcf"/>
<rect x="559.0" y="964.4" width="2.3" height="667.8" fill="#00ffd4"/>
<rect x="561.0" y="964.4" width="2.3" height="667.8" fill="#00ffd9"/>
<rect x="563.0" y="964.4" width="2.3" height="667.8" fill="#00ffde"/>
<rect x="565.0" y="964.4" width="2.3" height="667.8" fill="#00ffe3"/>
<rect x="567.0" y="964.4" width="2.3" height="667.8" fill="#00ffe8"/>
<rect x="569.0" y="964.4" width="2.3" height="667.8" fill="#00ffed"/>
<rect x="571.0" y="964.4" width="2.3" height="667.8" fill="#00fff2"/>
<rect x="573.0" y="964.4" width="2.3" height="667.8" fill="#00fff7"/>
<rect x="575.0" y="964.4" width="18.3" height="667.8" fill="#00fffc"/>
<rect x="593.0" y="964.4" width="23.3" height="667.8" fill="#00e3ff"/>
<rect x="616.0" y="964.4" width="59.3" height="667.8" fill="#00cfff"/>
<rect x="675.0" y="964.4" width="27.3" height="667.8" fill="#00e8ff"/>
<rect x="702.0" y="964.4" width="20.3" height="667.8" fill="#00cfff"/>
<rect x="722.0" y="964.4" width="12.3" height="667.8" fill="#00baff"/>
<rect x="734.0" y="964.4" width="15.3" height="667.8" fill="#00a1ff"/>
<rect x="749.0" y="964.4" width="20.3" height="667.8" fill="#0091ff"/>
<rect x="769.0" y="964.4" width="30.3" height="667.8" fill="#0069ff"/>
<rect x="799.0" y="964.4" width="42.3" height="667.8" fill="#004aff"/>
<rect x="841.0" y="964.4" width="66.3" height="667.8" fill="#002bff"/>
<rect x="907.0" y="964.4" width="60.0" height="667.8" fill="#0012ff"/>
</g>
<rect x="983.2" y="961.2" width="71.6" height="678.1" fill="#4a3a3a"/>
<rect x="1050.2" y="961.8" width="3.4" height="676.9" fill="#000"/>
<g shape-rendering="crispEdges">
<rect x="985.0" y="963.50" width="65.4" height="16.34" fill="#ff0000"/>
<rect x="985.0" y="979.54" width="65.4" height="16.34" fill="#ff1900"/>
<rect x="985.0" y="995.59" width="65.4" height="16.34" fill="#ff3200"/>
<rect x="985.0" y="1011.63" width="65.4" height="16.34" fill="#ff4b00"/>
<rect x="985.0" y="1027.67" width="65.4" height="16.34" fill="#ff6400"/>
<rect x="985.0" y="1043.71" width="65.4" height="16.34" fill="#ff7c00"/>
<rect x="985.0" y="1059.76" width="65.4" height="16.34" fill="#ff9500"/>
<rect x="985.0" y="1075.80" width="65.4" height="16.34" fill="#ffae00"/>
<rect x="985.0" y="1091.84" width="65.4" height="16.34" fill="#ffc700"/>
<rect x="985.0" y="1107.89" width="65.4" height="16.34" fill="#ffe000"/>
<rect x="985.0" y="1123.93" width="65.4" height="16.34" fill="#fff900"/>
<rect x="985.0" y="1139.97" width="65.4" height="16.34" fill="#ecff00"/>
<rect x="985.0" y="1156.01" width="65.4" height="16.34" fill="#d3ff00"/>
<rect x="985.0" y="1172.06" width="65.4" height="16.34" fill="#bbff00"/>
<rect x="985.0" y="1188.10" width="65.4" height="16.34" fill="#a2ff00"/>
<rect x="985.0" y="1204.14" width="65.4" height="16.34" fill="#89ff00"/>
<rect x="985.0" y="1220.19" width="65.4" height="16.34" fill="#70ff00"/>
<rect x="985.0" y="1236.23" width="65.4" height="16.34" fill="#57ff00"/>
<rect x="985.0" y="1252.27" width="65.4" height="16.34" fill="#3eff00"/>
<rect x="985.0" y="1268.31" width="65.4" height="16.34" fill="#25ff00"/>
<rect x="985.0" y="1284.36" width="65.4" height="16.34" fill="#0cff00"/>
<rect x="985.0" y="1300.40" width="65.4" height="16.34" fill="#00ff0c"/>
<rect x="985.0" y="1316.44" width="65.4" height="16.34" fill="#00ff25"/>
<rect x="985.0" y="1332.49" width="65.4" height="16.34" fill="#00ff3e"/>
<rect x="985.0" y="1348.53" width="65.4" height="16.34" fill="#00ff57"/>
<rect x="985.0" y="1364.57" width="65.4" height="16.34" fill="#00ff70"/>
<rect x="985.0" y="1380.61" width="65.4" height="16.34" fill="#00ff89"/>
<rect x="985.0" y="1396.66" width="65.4" height="16.34" fill="#00ffa2"/>
<rect x="985.0" y="1412.70" width="65.4" height="16.34" fill="#00ffbb"/>
<rect x="985.0" y="1428.74" width="65.4" height="16.34" fill="#00ffd3"/>
<rect x="985.0" y="1444.79" width="65.4" height="16.34" fill="#00ffec"/>
<rect x="985.0" y="1460.83" width="65.4" height="16.34" fill="#00f9ff"/>
<rect x="985.0" y="1476.87" width="65.4" height="16.34" fill="#00e0ff"/>
<rect x="985.0" y="1492.91" width="65.4" height="16.34" fill="#00c7ff"/>
<rect x="985.0" y="1508.96" width="65.4" height="16.34" fill="#00aeff"/>
<rect x="985.0" y="1525.00" width="65.4" height="16.34" fill="#0095ff"/>
<rect x="985.0" y="1541.04" width="65.4" height="16.34" fill="#007cff"/>
<rect x="985.0" y="1557.09" width="65.4" height="16.34" fill="#0064ff"/>
<rect x="985.0" y="1573.13" width="65.4" height="16.34" fill="#004bff"/>
<rect x="985.0" y="1589.17" width="65.4" height="16.34" fill="#0032ff"/>
<rect x="985.0" y="1605.21" width="65.4" height="16.34" fill="#0019ff"/>
<rect x="985.0" y="1621.26" width="65.4" height="16.34" fill="#0000ff"/>
</g>
<g fill="#fff" fill-opacity="0.17">
<rect x="985.0" y="978.54" width="65.4" height="2.4"/>
<rect x="985.0" y="994.59" width="65.4" height="2.4"/>
<rect x="985.0" y="1010.63" width="65.4" height="2.4"/>
<rect x="985.0" y="1026.67" width="65.4" height="2.4"/>
<rect x="985.0" y="1042.71" width="65.4" height="2.4"/>
<rect x="985.0" y="1058.76" width="65.4" height="2.4"/>
<rect x="985.0" y="1074.80" width="65.4" height="2.4"/>
<rect x="985.0" y="1090.84" width="65.4" height="2.4"/>
<rect x="985.0" y="1106.89" width="65.4" height="2.4"/>
<rect x="985.0" y="1122.93" width="65.4" height="2.4"/>
<rect x="985.0" y="1138.97" width="65.4" height="2.4"/>
<rect x="985.0" y="1155.01" width="65.4" height="2.4"/>
<rect x="985.0" y="1171.06" width="65.4" height="2.4"/>
<rect x="985.0" y="1187.10" width="65.4" height="2.4"/>
<rect x="985.0" y="1203.14" width="65.4" height="2.4"/>
<rect x="985.0" y="1219.19" width="65.4" height="2.4"/>
<rect x="985.0" y="1235.23" width="65.4" height="2.4"/>
<rect x="985.0" y="1251.27" width="65.4" height="2.4"/>
<rect x="985.0" y="1267.31" width="65.4" height="2.4"/>
<rect x="985.0" y="1283.36" width="65.4" height="2.4"/>
<rect x="985.0" y="1299.40" width="65.4" height="2.4"/>
<rect x="985.0" y="1315.44" width="65.4" height="2.4"/>
<rect x="985.0" y="1331.49" width="65.4" height="2.4"/>
<rect x="985.0" y="1347.53" width="65.4" height="2.4"/>
<rect x="985.0" y="1363.57" width="65.4" height="2.4"/>
<rect x="985.0" y="1379.61" width="65.4" height="2.4"/>
<rect x="985.0" y="1395.66" width="65.4" height="2.4"/>
<rect x="985.0" y="1411.70" width="65.4" height="2.4"/>
<rect x="985.0" y="1427.74" width="65.4" height="2.4"/>
<rect x="985.0" y="1443.79" width="65.4" height="2.4"/>
<rect x="985.0" y="1459.83" width="65.4" height="2.4"/>
<rect x="985.0" y="1475.87" width="65.4" height="2.4"/>
<rect x="985.0" y="1491.91" width="65.4" height="2.4"/>
<rect x="985.0" y="1507.96" width="65.4" height="2.4"/>
<rect x="985.0" y="1524.00" width="65.4" height="2.4"/>
<rect x="985.0" y="1540.04" width="65.4" height="2.4"/>
<rect x="985.0" y="1556.09" width="65.4" height="2.4"/>
<rect x="985.0" y="1572.13" width="65.4" height="2.4"/>
<rect x="985.0" y="1588.17" width="65.4" height="2.4"/>
<rect x="985.0" y="1604.21" width="65.4" height="2.4"/>
<rect x="985.0" y="1620.26" width="65.4" height="2.4"/>
</g>
<text transform="translate(154.63,945.75) scale(0.62769,0.57631)" font-size="100" fill="#000">(b)</text>
<text transform="translate(800.39,929.75) scale(0.61415,0.58352)" font-size="100" fill="#000">Absorptivity</text>
<text transform="translate(450.72,1728.31) scale(0.61593,0.59011)" font-size="100" fill="#000">Frequency (THz)</text>
<text transform="translate(71.46,1609.36) rotate(-90) scale(0.60277,0.60656)" font-size="100" fill="#000">Incident angles (Degree)</text>
<text transform="translate(136.81,1674.70) scale(0.36300,0.36300)" font-size="100" fill="#000">0.01</text>
<text transform="translate(212.94,1674.70) scale(0.36300,0.36300)" font-size="100" fill="#000">0.05</text>
<text transform="translate(317.44,1674.70) scale(0.36300,0.36300)" font-size="100" fill="#000">0.10</text>
<text transform="translate(421.94,1674.70) scale(0.36300,0.36300)" font-size="100" fill="#000">0.15</text>
<text transform="translate(526.44,1674.70) scale(0.36300,0.36300)" font-size="100" fill="#000">0.20</text>
<text transform="translate(630.94,1674.70) scale(0.36300,0.36300)" font-size="100" fill="#000">0.25</text>
<text transform="translate(735.44,1674.70) scale(0.36300,0.36300)" font-size="100" fill="#000">0.30</text>
<text transform="translate(839.94,1674.70) scale(0.36300,0.36300)" font-size="100" fill="#000">0.35</text>
<text transform="translate(944.44,1674.70) scale(0.36300,0.36300)" font-size="100" fill="#000">0.40</text>
<text transform="translate(98.96,981.09) scale(0.36300,0.36300)" font-size="100" fill="#000">85</text>
<text transform="translate(97.96,1065.89) scale(0.36300,0.36300)" font-size="100" fill="#000">80</text>
<text transform="translate(97.96,1169.59) scale(0.36300,0.36300)" font-size="100" fill="#000">60</text>
<text transform="translate(97.96,1326.89) scale(0.36300,0.36300)" font-size="100" fill="#000">40</text>
<text transform="translate(97.96,1485.89) scale(0.36300,0.36300)" font-size="100" fill="#000">20</text>
<text transform="translate(115.71,1640.89) scale(0.36300,0.36300)" font-size="100" fill="#000">0</text>
<text transform="translate(1063.94,974.30) scale(0.36300,0.36300)" font-size="100" fill="#000">0.7600</text>
<text transform="translate(1063.94,1070.74) scale(0.36300,0.36300)" font-size="100" fill="#000">0.6517</text>
<text transform="translate(1063.94,1167.18) scale(0.36300,0.36300)" font-size="100" fill="#000">0.5434</text>
<text transform="translate(1063.94,1263.62) scale(0.36300,0.36300)" font-size="100" fill="#000">0.4351</text>
<text transform="translate(1063.94,1360.06) scale(0.36300,0.36300)" font-size="100" fill="#000">0.3269</text>
<text transform="translate(1063.94,1456.50) scale(0.36300,0.36300)" font-size="100" fill="#000">0.2186</text>
<text transform="translate(1063.94,1552.94) scale(0.36300,0.36300)" font-size="100" fill="#000">0.1103</text>
<text transform="translate(1063.94,1649.38) scale(0.36300,0.36300)" font-size="100" fill="#000">0.0020</text>
<g shape-rendering="crispEdges">
<rect x="1332.2" y="955.4" width="19.1" height="668.8" fill="#0000ff"/>
<rect x="1351.0" y="955.4" width="38.3" height="668.8" fill="#0012ff"/>
<rect x="1389.0" y="955.4" width="103.3" height="668.8" fill="#0021ff"/>
<rect x="1492.0" y="955.4" width="67.3" height="668.8" fill="#0040ff"/>
<rect x="1559.0" y="955.4" width="46.3" height="668.8" fill="#004fff"/>
<rect x="1605.0" y="955.4" width="34.3" height="668.8" fill="#0069ff"/>
<rect x="1639.0" y="955.4" width="29.3" height="668.8" fill="#0082ff"/>
<rect x="1668.0" y="955.4" width="1.3" height="668.8" fill="#008cff"/>
<rect x="1669.0" y="955.4" width="24.3" height="668.8" fill="#0096ff"/>
<rect x="1693.0" y="955.4" width="20.3" height="668.8" fill="#00b0ff"/>
<rect x="1713.0" y="955.4" width="14.3" height="668.8" fill="#00c9ff"/>
<rect x="1727.0" y="955.4" width="18.3" height="668.8" fill="#00e3ff"/>
<rect x="1745.0" y="955.4" width="3.3" height="668.8" fill="#00e8ff"/>
<rect x="1748.0" y="955.4" width="3.3" height="668.8" fill="#00edff"/>
<rect x="1751.0" y="955.4" width="3.3" height="668.8" fill="#00f2ff"/>
<rect x="1754.0" y="955.4" width="2.3" height="668.8" fill="#00f7ff"/>
<rect x="1756.0" y="955.4" width="3.3" height="668.8" fill="#00fcff"/>
<rect x="1759.0" y="955.4" width="2.3" height="668.8" fill="#00fffc"/>
<rect x="1761.0" y="955.4" width="1.3" height="668.8" fill="#00fff7"/>
<rect x="1762.0" y="955.4" width="2.3" height="668.8" fill="#00fff2"/>
<rect x="1764.0" y="955.4" width="2.3" height="668.8" fill="#00ffed"/>
<rect x="1766.0" y="955.4" width="1.3" height="668.8" fill="#00ffe8"/>
<rect x="1767.0" y="955.4" width="2.3" height="668.8" fill="#00ffe3"/>
<rect x="1769.0" y="955.4" width="1.3" height="668.8" fill="#00ffde"/>
<rect x="1770.0" y="955.4" width="2.3" height="668.8" fill="#00ffd9"/>
<rect x="1772.0" y="955.4" width="1.3" height="668.8" fill="#00ffd4"/>
<rect x="1773.0" y="955.4" width="2.3" height="668.8" fill="#00ffcf"/>
<rect x="1775.0" y="955.4" width="2.3" height="668.8" fill="#00ffc9"/>
<rect x="1777.0" y="955.4" width="1.3" height="668.8" fill="#00ffc4"/>
<rect x="1778.0" y="955.4" width="2.3" height="668.8" fill="#00ffbf"/>
<rect x="1780.0" y="955.4" width="1.3" height="668.8" fill="#00ffba"/>
<rect x="1781.0" y="955.4" width="2.3" height="668.8" fill="#00ffb5"/>
<rect x="1783.0" y="955.4" width="1.3" height="668.8" fill="#00ffb0"/>
<rect x="1784.0" y="955.4" width="2.3" height="668.8" fill="#00ffab"/>
<rect x="1786.0" y="955.4" width="2.3" height="668.8" fill="#00ffa6"/>
<rect x="1788.0" y="955.4" width="1.3" height="668.8" fill="#00ffa1"/>
<rect x="1789.0" y="955.4" width="2.3" height="668.8" fill="#00ff9c"/>
<rect x="1791.0" y="955.4" width="1.3" height="668.8" fill="#00ff96"/>
<rect x="1792.0" y="955.4" width="2.3" height="668.8" fill="#00ff91"/>
<rect x="1794.0" y="955.4" width="1.3" height="668.8" fill="#00ff8c"/>
<rect x="1795.0" y="955.4" width="2.3" height="668.8" fill="#00ff87"/>
<rect x="1797.0" y="955.4" width="1.3" height="668.8" fill="#00ff82"/>
<rect x="1798.0" y="955.4" width="2.3" height="668.8" fill="#00ff7d"/>
<rect x="1800.0" y="955.4" width="1.3" height="668.8" fill="#00ff78"/>
<rect x="1801.0" y="955.4" width="2.3" height="668.8" fill="#00ff73"/>
<rect x="1803.0" y="955.4" width="1.3" height="668.8" fill="#00ff6e"/>
<rect x="1804.0" y="955.4" width="2.3" height="668.8" fill="#00ff69"/>
<rect x="1806.0" y="955.4" width="1.3" height="668.8" fill="#00ff63"/>
<rect x="1807.0" y="955.4" width="1.3" height="668.8" fill="#00ff5e"/>
<rect x="1808.0" y="955.4" width="2.3" height="668.8" fill="#00ff59"/>
<rect x="1810.0" y="955.4" width="1.3" height="668.8" fill="#00ff54"/>
<rect x="1811.0" y="955.4" width="2.3" height="668.8" fill="#00ff4f"/>
<rect x="1813.0" y="955.4" width="1.3" height="668.8" fill="#00ff4a"/>
<rect x="1814.0" y="955.4" width="2.3" height="668.8" fill="#00ff45"/>
<rect x="1816.0" y="955.4" width="1.3" height="668.8" fill="#00ff40"/>
<rect x="1817.0" y="955.4" width="1.3" height="668.8" fill="#00ff3b"/>
<rect x="1818.0" y="955.4" width="2.3" height="668.8" fill="#00ff36"/>
<rect x="1820.0" y="955.4" width="1.3" height="668.8" fill="#00ff30"/>
<rect x="1821.0" y="955.4" width="2.3" height="668.8" fill="#00ff2b"/>
<rect x="1823.0" y="955.4" width="1.3" height="668.8" fill="#00ff26"/>
<rect x="1824.0" y="955.4" width="1.3" height="668.8" fill="#00ff21"/>
<rect x="1825.0" y="955.4" width="2.3" height="668.8" fill="#00ff1c"/>
<rect x="1827.0" y="955.4" width="1.3" height="668.8" fill="#00ff17"/>
<rect x="1828.0" y="955.4" width="2.3" height="668.8" fill="#00ff12"/>
<rect x="1830.0" y="955.4" width="1.3" height="668.8" fill="#00ff0d"/>
<rect x="1831.0" y="955.4" width="2.3" height="668.8" fill="#00ff08"/>
<rect x="1833.0" y="955.4" width="1.3" height="668.8" fill="#00ff03"/>
<rect x="1834.0" y="955.4" width="1.3" height="668.8" fill="#03ff00"/>
<rect x="1835.0" y="955.4" width="1.3" height="668.8" fill="#0dff00"/>
<rect x="1836.0" y="955.4" width="1.3" height="668.8" fill="#12ff00"/>
<rect x="1837.0" y="955.4" width="1.3" height="668.8" fill="#17ff00"/>
<rect x="1838.0" y="955.4" width="1.3" height="668.8" fill="#21ff00"/>
<rect x="1839.0" y="955.4" width="1.3" height="668.8" fill="#26ff00"/>
<rect x="1840.0" y="955.4" width="1.3" height="668.8" fill="#2bff00"/>
<rect x="1841.0" y="955.4" width="1.3" height="668.8" fill="#36ff00"/>
<rect x="1842.0" y="955.4" width="1.3" height="668.8" fill="#3bff00"/>
<rect x="1843.0" y="955.4" width="1.3" height="668.8" fill="#40ff00"/>
<rect x="1844.0" y="955.4" width="1.3" height="668.8" fill="#4aff00"/>
<rect x="1845.0" y="955.4" width="1.3" height="668.8" fill="#4fff00"/>
<rect x="1846.0" y="955.4" width="1.3" height="668.8" fill="#54ff00"/>
<rect x="1847.0" y="955.4" width="1.3" height="668.8" fill="#5eff00"/>
<rect x="1848.0" y="955.4" width="1.3" height="668.8" fill="#63ff00"/>
<rect x="1849.0" y="955.4" width="1.3" height="668.8" fill="#69ff00"/>
<rect x="1850.0" y="955.4" width="1.3" height="668.8" fill="#73ff00"/>
<rect x="1851.0" y="955.4" width="1.3" height="668.8" fill="#78ff00"/>
<rect x="1852.0" y="955.4" width="1.3" height="668.8" fill="#82ff00"/>
<rect x="1853.0" y="955.4" width="1.3" height="668.8" fill="#87ff00"/>
<rect x="1854.0" y="955.4" width="1.3" height="668.8" fill="#91ff00"/>
<rect x="1855.0" y="955.4" width="1.3" height="668.8" fill="#96ff00"/>
<rect x="1856.0" y="955.4" width="1.3" height="668.8" fill="#a1ff00"/>
<rect x="1857.0" y="955.4" width="1.3" height="668.8" fill="#a6ff00"/>
<rect x="1858.0" y="955.4" width="1.3" height="668.8" fill="#b0ff00"/>
<rect x="1859.0" y="955.4" width="1.3" height="668.8" fill="#b5ff00"/>
<rect x="1860.0" y="955.4" width="1.3" height="668.8" fill="#bfff00"/>
<rect x="1861.0" y="955.4" width="1.3" height="668.8" fill="#c9ff00"/>
<rect x="1862.0" y="955.4" width="1.3" height="668.8" fill="#cfff00"/>
<rect x="1863.0" y="955.4" width="1.3" height="668.8" fill="#d9ff00"/>
<rect x="1864.0" y="955.4" width="1.3" height="668.8" fill="#deff00"/>
<rect x="1865.0" y="955.4" width="1.3" height="668.8" fill="#e8ff00"/>
<rect x="1866.0" y="955.4" width="1.3" height="668.8" fill="#edff00"/>
<rect x="1867.0" y="955.4" width="1.3" height="668.8" fill="#f7ff00"/>
<rect x="1868.0" y="955.4" width="1.3" height="668.8" fill="#fffc00"/>
<rect x="1869.0" y="955.4" width="1.3" height="668.8" fill="#fff700"/>
<rect x="1870.0" y="955.4" width="1.3" height="668.8" fill="#ffed00"/>
<rect x="1871.0" y="955.4" width="1.3" height="668.8" fill="#ffe800"/>
<rect x="1872.0" y="955.4" width="1.3" height="668.8" fill="#ffde00"/>
<rect x="1873.0" y="955.4" width="1.3" height="668.8" fill="#ffd900"/>
<rect x="1874.0" y="955.4" width="1.3" height="668.8" fill="#ffcf00"/>
<rect x="1875.0" y="955.4" width="1.3" height="668.8" fill="#ffc400"/>
<rect x="1876.0" y="955.4" width="1.3" height="668.8" fill="#ffbf00"/>
<rect x="1877.0" y="955.4" width="1.3" height="668.8" fill="#ffb500"/>
<rect x="1878.0" y="955.4" width="1.3" height="668.8" fill="#ffb000"/>
<rect x="1879.0" y="955.4" width="1.3" height="668.8" fill="#ffa600"/>
<rect x="1880.0" y="955.4" width="1.3" height="668.8" fill="#ffa100"/>
<rect x="1881.0" y="955.4" width="1.3" height="668.8" fill="#ff9600"/>
<rect x="1882.0" y="955.4" width="1.3" height="668.8" fill="#ff8c00"/>
<rect x="1883.0" y="955.4" width="1.3" height="668.8" fill="#ff8700"/>
<rect x="1884.0" y="955.4" width="1.3" height="668.8" fill="#ff7d00"/>
<rect x="1885.0" y="955.4" width="1.3" height="668.8" fill="#ff7800"/>
<rect x="1886.0" y="955.4" width="1.3" height="668.8" fill="#ff6e00"/>
<rect x="1887.0" y="955.4" width="1.3" height="668.8" fill="#ff6900"/>
<rect x="1888.0" y="955.4" width="1.3" height="668.8" fill="#ff6300"/>
<rect x="1889.0" y="955.4" width="1.3" height="668.8" fill="#ff5900"/>
<rect x="1890.0" y="955.4" width="1.3" height="668.8" fill="#ff5400"/>
<rect x="1891.0" y="955.4" width="1.3" height="668.8" fill="#ff4a00"/>
<rect x="1892.0" y="955.4" width="1.3" height="668.8" fill="#ff4500"/>
<rect x="1893.0" y="955.4" width="1.3" height="668.8" fill="#ff3b00"/>
<rect x="1894.0" y="955.4" width="1.3" height="668.8" fill="#ff3600"/>
<rect x="1895.0" y="955.4" width="1.3" height="668.8" fill="#ff3000"/>
<rect x="1896.0" y="955.4" width="1.3" height="668.8" fill="#ff2600"/>
<rect x="1897.0" y="955.4" width="1.3" height="668.8" fill="#ff2100"/>
<rect x="1898.0" y="955.4" width="1.3" height="668.8" fill="#ff1700"/>
<rect x="1899.0" y="955.4" width="4.3" height="668.8" fill="#ff1200"/>
<rect x="1903.0" y="955.4" width="5.3" height="668.8" fill="#ff0d00"/>
<rect x="1908.0" y="955.4" width="9.3" height="668.8" fill="#ff0800"/>
<rect x="1917.0" y="955.4" width="4.3" height="668.8" fill="#ff0d00"/>
<rect x="1921.0" y="955.4" width="5.3" height="668.8" fill="#ff1200"/>
<rect x="1926.0" y="955.4" width="1.3" height="668.8" fill="#ff1700"/>
<rect x="1927.0" y="955.4" width="2.3" height="668.8" fill="#ff1c00"/>
<rect x="1929.0" y="955.4" width="1.3" height="668.8" fill="#ff2100"/>
<rect x="1930.0" y="955.4" width="1.3" height="668.8" fill="#ff2600"/>
<rect x="1931.0" y="955.4" width="1.3" height="668.8" fill="#ff2b00"/>
<rect x="1932.0" y="955.4" width="2.3" height="668.8" fill="#ff3000"/>
<rect x="1934.0" y="955.4" width="1.3" height="668.8" fill="#ff3600"/>
<rect x="1935.0" y="955.4" width="1.3" height="668.8" fill="#ff3b00"/>
<rect x="1936.0" y="955.4" width="3.3" height="668.8" fill="#ff4000"/>
<rect x="1939.0" y="955.4" width="3.3" height="668.8" fill="#ff4500"/>
<rect x="1942.0" y="955.4" width="3.3" height="668.8" fill="#ff4a00"/>
<rect x="1945.0" y="955.4" width="2.3" height="668.8" fill="#ff4f00"/>
<rect x="1947.0" y="955.4" width="3.3" height="668.8" fill="#ff5400"/>
<rect x="1950.0" y="955.4" width="3.3" height="668.8" fill="#ff5900"/>
<rect x="1953.0" y="955.4" width="3.3" height="668.8" fill="#ff5e00"/>
<rect x="1956.0" y="955.4" width="3.3" height="668.8" fill="#ff6300"/>
<rect x="1959.0" y="955.4" width="3.3" height="668.8" fill="#ff6900"/>
<rect x="1962.0" y="955.4" width="2.3" height="668.8" fill="#ff6e00"/>
<rect x="1964.0" y="955.4" width="3.3" height="668.8" fill="#ff7300"/>
<rect x="1967.0" y="955.4" width="5.3" height="668.8" fill="#ff7800"/>
<rect x="1972.0" y="955.4" width="3.3" height="668.8" fill="#ff7300"/>
<rect x="1975.0" y="955.4" width="2.3" height="668.8" fill="#ff6e00"/>
<rect x="1977.0" y="955.4" width="2.3" height="668.8" fill="#ff6900"/>
<rect x="1979.0" y="955.4" width="2.3" height="668.8" fill="#ff6300"/>
<rect x="1981.0" y="955.4" width="3.3" height="668.8" fill="#ff5e00"/>
<rect x="1984.0" y="955.4" width="2.3" height="668.8" fill="#ff5900"/>
<rect x="1986.0" y="955.4" width="2.3" height="668.8" fill="#ff5400"/>
<rect x="1988.0" y="955.4" width="2.3" height="668.8" fill="#ff4f00"/>
<rect x="1990.0" y="955.4" width="3.3" height="668.8" fill="#ff4a00"/>
<rect x="1993.0" y="955.4" width="2.3" height="668.8" fill="#ff4500"/>
<rect x="1995.0" y="955.4" width="2.3" height="668.8" fill="#ff4000"/>
<rect x="1997.0" y="955.4" width="2.3" height="668.8" fill="#ff3b00"/>
<rect x="1999.0" y="955.4" width="1.3" height="668.8" fill="#ff3600"/>
<rect x="2000.0" y="955.4" width="2.3" height="668.8" fill="#ff3000"/>
<rect x="2002.0" y="955.4" width="1.3" height="668.8" fill="#ff2b00"/>
<rect x="2003.0" y="955.4" width="1.3" height="668.8" fill="#ff2600"/>
<rect x="2004.0" y="955.4" width="2.3" height="668.8" fill="#ff2100"/>
<rect x="2006.0" y="955.4" width="1.3" height="668.8" fill="#ff1c00"/>
<rect x="2007.0" y="955.4" width="2.3" height="668.8" fill="#ff1700"/>
<rect x="2009.0" y="955.4" width="1.3" height="668.8" fill="#ff1200"/>
<rect x="2010.0" y="955.4" width="2.3" height="668.8" fill="#ff0d00"/>
<rect x="2012.0" y="955.4" width="1.3" height="668.8" fill="#ff0800"/>
<rect x="2013.0" y="955.4" width="32.3" height="668.8" fill="#ff0000"/>
<rect x="2045.0" y="955.4" width="1.3" height="668.8" fill="#ff0800"/>
<rect x="2046.0" y="955.4" width="1.3" height="668.8" fill="#ff1200"/>
<rect x="2047.0" y="955.4" width="1.3" height="668.8" fill="#ff1700"/>
<rect x="2048.0" y="955.4" width="1.3" height="668.8" fill="#ff1c00"/>
<rect x="2049.0" y="955.4" width="1.3" height="668.8" fill="#ff2600"/>
<rect x="2050.0" y="955.4" width="1.3" height="668.8" fill="#ff2b00"/>
<rect x="2051.0" y="955.4" width="1.3" height="668.8" fill="#ff3000"/>
<rect x="2052.0" y="955.4" width="1.3" height="668.8" fill="#ff3600"/>
<rect x="2053.0" y="955.4" width="1.3" height="668.8" fill="#ff4000"/>
<rect x="2054.0" y="955.4" width="1.3" height="668.8" fill="#ff4500"/>
<rect x="2055.0" y="955.4" width="1.3" height="668.8" fill="#ff4a00"/>
<rect x="2056.0" y="955.4" width="1.3" height="668.8" fill="#ff4f00"/>
<rect x="2057.0" y="955.4" width="1.3" height="668.8" fill="#ff5900"/>
<rect x="2058.0" y="955.4" width="1.3" height="668.8" fill="#ff5e00"/>
<rect x="2059.0" y="955.4" width="1.3" height="668.8" fill="#ff6300"/>
<rect x="2060.0" y="955.4" width="1.3" height="668.8" fill="#ff6e00"/>
<rect x="2061.0" y="955.4" width="1.3" height="668.8" fill="#ff7300"/>
<rect x="2062.0" y="955.4" width="1.3" height="668.8" fill="#ff7800"/>
<rect x="2063.0" y="955.4" width="1.3" height="668.8" fill="#ff7d00"/>
<rect x="2064.0" y="955.4" width="1.3" height="668.8" fill="#ff8700"/>
<rect x="2065.0" y="955.4" width="1.3" height="668.8" fill="#ff9100"/>
<rect x="2066.0" y="955.4" width="1.3" height="668.8" fill="#ff9c00"/>
<rect x="2067.0" y="955.4" width="1.3" height="668.8" fill="#ffa600"/>
<rect x="2068.0" y="955.4" width="1.3" height="668.8" fill="#ffb500"/>
<rect x="2069.0" y="955.4" width="1.3" height="668.8" fill="#ffbf00"/>
<rect x="2070.0" y="955.4" width="1.3" height="668.8" fill="#ffc900"/>
<rect x="2071.0" y="955.4" width="1.3" height="668.8" fill="#ffd400"/>
<rect x="2072.0" y="955.4" width="1.3" height="668.8" fill="#ffde00"/>
<rect x="2073.0" y="955.4" width="1.3" height="668.8" fill="#ffe800"/>
<rect x="2074.0" y="955.4" width="1.3" height="668.8" fill="#fff200"/>
<rect x="2075.0" y="955.4" width="1.3" height="668.8" fill="#fffc00"/>
<rect x="2076.0" y="955.4" width="1.3" height="668.8" fill="#f7ff00"/>
<rect x="2077.0" y="955.4" width="1.3" height="668.8" fill="#edff00"/>
<rect x="2078.0" y="955.4" width="1.3" height="668.8" fill="#e3ff00"/>
<rect x="2079.0" y="955.4" width="1.3" height="668.8" fill="#d9ff00"/>
<rect x="2080.0" y="955.4" width="1.3" height="668.8" fill="#cfff00"/>
<rect x="2081.0" y="955.4" width="1.3" height="668.8" fill="#c4ff00"/>
<rect x="2082.0" y="955.4" width="1.3" height="668.8" fill="#baff00"/>
<rect x="2083.0" y="955.4" width="1.3" height="668.8" fill="#b0ff00"/>
<rect x="2084.0" y="955.4" width="1.3" height="668.8" fill="#a6ff00"/>
<rect x="2085.0" y="955.4" width="1.3" height="668.8" fill="#9cff00"/>
<rect x="2086.0" y="955.4" width="1.3" height="668.8" fill="#91ff00"/>
<rect x="2087.0" y="955.4" width="1.3" height="668.8" fill="#87ff00"/>
<rect x="2088.0" y="955.4" width="1.3" height="668.8" fill="#78ff00"/>
<rect x="2089.0" y="955.4" width="1.3" height="668.8" fill="#6eff00"/>
<rect x="2090.0" y="955.4" width="1.3" height="668.8" fill="#63ff00"/>
<rect x="2091.0" y="955.4" width="1.3" height="668.8" fill="#59ff00"/>
<rect x="2092.0" y="955.4" width="1.3" height="668.8" fill="#4aff00"/>
<rect x="2093.0" y="955.4" width="1.3" height="668.8" fill="#40ff00"/>
<rect x="2094.0" y="955.4" width="1.3" height="668.8" fill="#36ff00"/>
<rect x="2095.0" y="955.4" width="1.3" height="668.8" fill="#26ff00"/>
<rect x="2096.0" y="955.4" width="1.3" height="668.8" fill="#1cff00"/>
<rect x="2097.0" y="955.4" width="1.3" height="668.8" fill="#12ff00"/>
<rect x="2098.0" y="955.4" width="1.3" height="668.8" fill="#08ff00"/>
<rect x="2099.0" y="955.4" width="1.3" height="668.8" fill="#00ff03"/>
<rect x="2100.0" y="955.4" width="1.3" height="668.8" fill="#00ff0d"/>
<rect x="2101.0" y="955.4" width="1.3" height="668.8" fill="#00ff12"/>
<rect x="2102.0" y="955.4" width="1.3" height="668.8" fill="#00ff17"/>
<rect x="2103.0" y="955.4" width="1.3" height="668.8" fill="#00ff21"/>
<rect x="2104.0" y="955.4" width="1.3" height="668.8" fill="#00ff26"/>
<rect x="2105.0" y="955.4" width="1.3" height="668.8" fill="#00ff2b"/>
<rect x="2106.0" y="955.4" width="1.3" height="668.8" fill="#00ff36"/>
<rect x="2107.0" y="955.4" width="1.3" height="668.8" fill="#00ff3b"/>
<rect x="2108.0" y="955.4" width="1.3" height="668.8" fill="#00ff40"/>
<rect x="2109.0" y="955.4" width="1.3" height="668.8" fill="#00ff4a"/>
<rect x="2110.0" y="955.4" width="1.3" height="668.8" fill="#00ff4f"/>
<rect x="2111.0" y="955.4" width="1.3" height="668.8" fill="#00ff54"/>
<rect x="2112.0" y="955.4" width="1.3" height="668.8" fill="#00ff5e"/>
<rect x="2113.0" y="955.4" width="1.3" height="668.8" fill="#00ff63"/>
<rect x="2114.0" y="955.4" width="1.3" height="668.8" fill="#00ff69"/>
<rect x="2115.0" y="955.4" width="1.3" height="668.8" fill="#00ff73"/>
<rect x="2116.0" y="955.4" width="1.3" height="668.8" fill="#00ff78"/>
<rect x="2117.0" y="955.4" width="1.3" height="668.8" fill="#00ff7d"/>
<rect x="2118.0" y="955.4" width="1.3" height="668.8" fill="#00ff87"/>
<rect x="2119.0" y="955.4" width="1.3" height="668.8" fill="#00ff8c"/>
<rect x="2120.0" y="955.4" width="1.3" height="668.8" fill="#00ff91"/>
<rect x="2121.0" y="955.4" width="1.3" height="668.8" fill="#00ff9c"/>
<rect x="2122.0" y="955.4" width="1.3" height="668.8" fill="#00ffa1"/>
<rect x="2123.0" y="955.4" width="1.3" height="668.8" fill="#00ffa6"/>
<rect x="2124.0" y="955.4" width="1.3" height="668.8" fill="#00ffab"/>
<rect x="2125.0" y="955.4" width="1.3" height="668.8" fill="#00ffb5"/>
<rect x="2126.0" y="955.4" width="1.3" height="668.8" fill="#00ffba"/>
<rect x="2127.0" y="955.4" width="1.3" height="668.8" fill="#00ffbf"/>
<rect x="2128.0" y="955.4" width="1.3" height="668.8" fill="#00ffc4"/>
<rect x="2129.0" y="955.4" width="1.3" height="668.8" fill="#00ffcf"/>
<rect x="2130.0" y="955.4" width="1.3" height="668.8" fill="#00ffd4"/>
<rect x="2131.0" y="955.4" width="1.3" height="668.8" fill="#00ffd9"/>
<rect x="2132.0" y="955.4" width="1.3" height="668.8" fill="#00ffe3"/>
<rect x="2133.0" y="955.4" width="1.3" height="668.8" fill="#00ffe8"/>
<rect x="2134.0" y="955.4" width="1.3" height="668.8" fill="#00ffed"/>
<rect x="2135.0" y="955.4" width="1.3" height="668.8" fill="#00fff2"/>
<rect x="2136.0" y="955.4" width="1.3" height="668.8" fill="#00fffc"/>
<rect x="2137.0" y="955.4" width="1.3" height="668.8" fill="#00fcff"/>
<rect x="2138.0" y="955.4" width="1.3" height="668.8" fill="#00f7ff"/>
<rect x="2139.0" y="955.4" width="1.3" height="668.8" fill="#00edff"/>
<rect x="2140.0" y="955.4" width="1.3" height="668.8" fill="#00e8ff"/>
<rect x="2141.0" y="955.4" width="1.3" height="668.8" fill="#00e3ff"/>
<rect x="2142.0" y="955.4" width="1.3" height="668.8" fill="#00d9ff"/>
<rect x="2143.0" y="955.4" width="1.3" height="668.8" fill="#00d4ff"/>
<rect x="2144.0" y="955.4" width="1.3" height="668.8" fill="#00c9ff"/>
<rect x="2145.0" y="955.4" width="1.3" height="668.8" fill="#00c4ff"/>
<rect x="2146.0" y="955.4" width="1.3" height="668.8" fill="#00bfff"/>
<rect x="2147.0" y="955.4" width="0.7" height="668.8" fill="#00baff"/>
</g>
<rect x="2171.6" y="953.7" width="66.0" height="677.9" fill="#4a3a3a"/>
<rect x="2233.0" y="954.3" width="3.4" height="676.7" fill="#000"/>
<g shape-rendering="crispEdges">
<rect x="2173.4" y="956.00" width="59.8" height="14.33" fill="#ff0000"/>
<rect x="2173.4" y="970.03" width="59.8" height="14.33" fill="#ff1600"/>
<rect x="2173.4" y="984.07" width="59.8" height="14.33" fill="#ff2b00"/>
<rect x="2173.4" y="998.10" width="59.8" height="14.33" fill="#ff4100"/>
<rect x="2173.4" y="1012.13" width="59.8" height="14.33" fill="#ff5700"/>
<rect x="2173.4" y="1026.17" width="59.8" height="14.33" fill="#ff6d00"/>
<rect x="2173.4" y="1040.20" width="59.8" height="14.33" fill="#ff8200"/>
<rect x="2173.4" y="1054.23" width="59.8" height="14.33" fill="#ff9800"/>
<rect x="2173.4" y="1068.27" width="59.8" height="14.33" fill="#ffae00"/>
<rect x="2173.4" y="1082.30" width="59.8" height="14.33" fill="#ffc300"/>
<rect x="2173.4" y="1096.33" width="59.8" height="14.33" fill="#ffd900"/>
<rect x="2173.4" y="1110.37" width="59.8" height="14.33" fill="#ffef00"/>
<rect x="2173.4" y="1124.40" width="59.8" height="14.33" fill="#faff00"/>
<rect x="2173.4" y="1138.43" width="59.8" height="14.33" fill="#e4ff00"/>
<rect x="2173.4" y="1152.47" width="59.8" height="14.33" fill="#ceff00"/>
<rect x="2173.4" y="1166.50" width="59.8" height="14.33" fill="#b8ff00"/>
<rect x="2173.4" y="1180.53" width="59.8" height="14.33" fill="#a3ff00"/>
<rect x="2173.4" y="1194.57" width="59.8" height="14.33" fill="#8dff00"/>
<rect x="2173.4" y="1208.60" width="59.8" height="14.33" fill="#77ff00"/>
<rect x="2173.4" y="1222.63" width="59.8" height="14.33" fill="#62ff00"/>
<rect x="2173.4" y="1236.67" width="59.8" height="14.33" fill="#4cff00"/>
<rect x="2173.4" y="1250.70" width="59.8" height="14.33" fill="#36ff00"/>
<rect x="2173.4" y="1264.73" width="59.8" height="14.33" fill="#21ff00"/>
<rect x="2173.4" y="1278.77" width="59.8" height="14.33" fill="#0bff00"/>
<rect x="2173.4" y="1292.80" width="59.8" height="14.33" fill="#00ff0b"/>
<rect x="2173.4" y="1306.83" width="59.8" height="14.33" fill="#00ff21"/>
<rect x="2173.4" y="1320.87" width="59.8" height="14.33" fill="#00ff36"/>
<rect x="2173.4" y="1334.90" width="59.8" height="14.33" fill="#00ff4c"/>
<rect x="2173.4" y="1348.93" width="59.8" height="14.33" fill="#00ff62"/>
<rect x="2173.4" y="1362.97" width="59.8" height="14.33" fill="#00ff77"/>
<rect x="2173.4" y="1377.00" width="59.8" height="14.33" fill="#00ff8d"/>
<rect x="2173.4" y="1391.03" width="59.8" height="14.33" fill="#00ffa3"/>
<rect x="2173.4" y="1405.07" width="59.8" height="14.33" fill="#00ffb8"/>
<rect x="2173.4" y="1419.10" width="59.8" height="14.33" fill="#00ffce"/>
<rect x="2173.4" y="1433.13" width="59.8" height="14.33" fill="#00ffe4"/>
<rect x="2173.4" y="1447.17" width="59.8" height="14.33" fill="#00fffa"/>
<rect x="2173.4" y="1461.20" width="59.8" height="14.33" fill="#00efff"/>
<rect x="2173.4" y="1475.23" width="59.8" height="14.33" fill="#00d9ff"/>
<rect x="2173.4" y="1489.27" width="59.8" height="14.33" fill="#00c3ff"/>
<rect x="2173.4" y="1503.30" width="59.8" height="14.33" fill="#00aeff"/>
<rect x="2173.4" y="1517.33" width="59.8" height="14.33" fill="#0098ff"/>
<rect x="2173.4" y="1531.37" width="59.8" height="14.33" fill="#0082ff"/>
<rect x="2173.4" y="1545.40" width="59.8" height="14.33" fill="#006dff"/>
<rect x="2173.4" y="1559.43" width="59.8" height="14.33" fill="#0057ff"/>
<rect x="2173.4" y="1573.47" width="59.8" height="14.33" fill="#0041ff"/>
<rect x="2173.4" y="1587.50" width="59.8" height="14.33" fill="#002bff"/>
<rect x="2173.4" y="1601.53" width="59.8" height="14.33" fill="#0016ff"/>
<rect x="2173.4" y="1615.57" width="59.8" height="14.33" fill="#0000ff"/>
</g>
<g fill="#fff" fill-opacity="0.17">
<rect x="2173.4" y="969.03" width="59.8" height="2.4"/>
<rect x="2173.4" y="983.07" width="59.8" height="2.4"/>
<rect x="2173.4" y="997.10" width="59.8" height="2.4"/>
<rect x="2173.4" y="1011.13" width="59.8" height="2.4"/>
<rect x="2173.4" y="1025.17" width="59.8" height="2.4"/>
<rect x="2173.4" y="1039.20" width="59.8" height="2.4"/>
<rect x="2173.4" y="1053.23" width="59.8" height="2.4"/>
<rect x="2173.4" y="1067.27" width="59.8" height="2.4"/>
<rect x="2173.4" y="1081.30" width="59.8" height="2.4"/>
<rect x="2173.4" y="1095.33" width="59.8" height="2.4"/>
<rect x="2173.4" y="1109.37" width="59.8" height="2.4"/>
<rect x="2173.4" y="1123.40" width="59.8" height="2.4"/>
<rect x="2173.4" y="1137.43" width="59.8" height="2.4"/>
<rect x="2173.4" y="1151.47" width="59.8" height="2.4"/>
<rect x="2173.4" y="1165.50" width="59.8" height="2.4"/>
<rect x="2173.4" y="1179.53" width="59.8" height="2.4"/>
<rect x="2173.4" y="1193.57" width="59.8" height="2.4"/>
<rect x="2173.4" y="1207.60" width="59.8" height="2.4"/>
<rect x="2173.4" y="1221.63" width="59.8" height="2.4"/>
<rect x="2173.4" y="1235.67" width="59.8" height="2.4"/>
<rect x="2173.4" y="1249.70" width="59.8" height="2.4"/>
<rect x="2173.4" y="1263.73" width="59.8" height="2.4"/>
<rect x="2173.4" y="1277.77" width="59.8" height="2.4"/>
<rect x="2173.4" y="1291.80" width="59.8" height="2.4"/>
<rect x="2173.4" y="1305.83" width="59.8" height="2.4"/>
<rect x="2173.4" y="1319.87" width="59.8" height="2.4"/>
<rect x="2173.4" y="1333.90" width="59.8" height="2.4"/>
<rect x="2173.4" y="1347.93" width="59.8" height="2.4"/>
<rect x="2173.4" y="1361.97" width="59.8" height="2.4"/>
<rect x="2173.4" y="1376.00" width="59.8" height="2.4"/>
<rect x="2173.4" y="1390.03" width="59.8" height="2.4"/>
<rect x="2173.4" y="1404.07" width="59.8" height="2.4"/>
<rect x="2173.4" y="1418.10" width="59.8" height="2.4"/>
<rect x="2173.4" y="1432.13" width="59.8" height="2.4"/>
<rect x="2173.4" y="1446.17" width="59.8" height="2.4"/>
<rect x="2173.4" y="1460.20" width="59.8" height="2.4"/>
<rect x="2173.4" y="1474.23" width="59.8" height="2.4"/>
<rect x="2173.4" y="1488.27" width="59.8" height="2.4"/>
<rect x="2173.4" y="1502.30" width="59.8" height="2.4"/>
<rect x="2173.4" y="1516.33" width="59.8" height="2.4"/>
<rect x="2173.4" y="1530.37" width="59.8" height="2.4"/>
<rect x="2173.4" y="1544.40" width="59.8" height="2.4"/>
<rect x="2173.4" y="1558.43" width="59.8" height="2.4"/>
<rect x="2173.4" y="1572.47" width="59.8" height="2.4"/>
<rect x="2173.4" y="1586.50" width="59.8" height="2.4"/>
<rect x="2173.4" y="1600.53" width="59.8" height="2.4"/>
<rect x="2173.4" y="1614.57" width="59.8" height="2.4"/>
</g>
<text transform="translate(1328.22,934.01) scale(0.65366,0.58292)" font-size="100" fill="#000">(c)</text>
<text transform="translate(2035.18,921.60) scale(0.61676,0.60000)" font-size="100" fill="#000">Absorptivity</text>
<text transform="translate(1607.82,1716.27) scale(0.50536,0.47582)" font-size="100" fill="#000">Frequency (THz)</text>
<text transform="translate(1259.93,1654.96) rotate(-90) scale(0.60218,0.63934)" font-size="100" fill="#000">Incidence Angles (Degree)</text>
<text transform="translate(1385.44,1666.50) scale(0.36300,0.36300)" font-size="100" fill="#000">0.05</text>
<text transform="translate(1489.94,1666.50) scale(0.36300,0.36300)" font-size="100" fill="#000">0.10</text>
<text transform="translate(1594.44,1666.50) scale(0.36300,0.36300)" font-size="100" fill="#000">0.15</text>
<text transform="translate(1698.94,1666.50) scale(0.36300,0.36300)" font-size="100" fill="#000">0.20</text>
<text transform="translate(1803.44,1666.50) scale(0.36300,0.36300)" font-size="100" fill="#000">0.25</text>
<text transform="translate(1907.94,1666.50) scale(0.36300,0.36300)" font-size="100" fill="#000">0.30</text>
<text transform="translate(2012.44,1666.50) scale(0.36300,0.36300)" font-size="100" fill="#000">0.35</text>
<text transform="translate(2116.94,1666.50) scale(0.36300,0.36300)" font-size="100" fill="#000">0.40</text>
<text transform="translate(1278.86,968.09) scale(0.36300,0.36300)" font-size="100" fill="#000">85</text>
<text transform="translate(1278.86,1048.89) scale(0.36300,0.36300)" font-size="100" fill="#000">80</text>
<text transform="translate(1278.86,1162.29) scale(0.36300,0.36300)" font-size="100" fill="#000">60</text>
<text transform="translate(1278.86,1319.19) scale(0.36300,0.36300)" font-size="100" fill="#000">40</text>
<text transform="translate(1278.86,1475.89) scale(0.36300,0.36300)" font-size="100" fill="#000">20</text>
<text transform="translate(1297.01,1632.89) scale(0.36300,0.36300)" font-size="100" fill="#000">0</text>
<text transform="translate(2248.44,965.30) scale(0.36300,0.36300)" font-size="100" fill="#000">0.6120</text>
<text transform="translate(2248.44,1049.90) scale(0.36300,0.36300)" font-size="100" fill="#000">0.5393</text>
<text transform="translate(2248.44,1134.50) scale(0.36300,0.36300)" font-size="100" fill="#000">0.4665</text>
<text transform="translate(2248.44,1219.10) scale(0.36300,0.36300)" font-size="100" fill="#000">0.3938</text>
<text transform="translate(2248.44,1303.70) scale(0.36300,0.36300)" font-size="100" fill="#000">0.3210</text>
<text transform="translate(2248.44,1388.30) scale(0.36300,0.36300)" font-size="100" fill="#000">0.2483</text>
<text transform="translate(2248.44,1472.90) scale(0.36300,0.36300)" font-size="100" fill="#000">0.1755</text>
<text transform="translate(2248.44,1557.50) scale(0.36300,0.36300)" font-size="100" fill="#000">0.1028</text>
<text transform="translate(2248.44,1642.10) scale(0.36300,0.36300)" font-size="100" fill="#000">0.03000</text>
<polygon points="1350.7,1282.0 1359.4,1402.0 1359.4,1624.2 1350.7,1624.2" fill="#0000ff"/>
<polygon points="1388.7,1282.0 1407.3,1402.0 1407.3,1624.2 1388.7,1624.2" fill="#0012ff"/>
<polygon points="1491.8,1282.0 1487.8,1402.0 1487.8,1624.2 1491.8,1624.2" fill="#0040ff"/>
<g shape-rendering="crispEdges">
<rect x="148.6" y="1940.4" width="33.7" height="667.9" fill="#0000ff"/>
<rect x="182.0" y="1940.4" width="19.3" height="667.9" fill="#0012ff"/>
<rect x="201.0" y="1940.4" width="14.3" height="667.9" fill="#0030ff"/>
<rect x="215.0" y="1940.4" width="1.3" height="667.9" fill="#0036ff"/>
<rect x="216.0" y="1940.4" width="1.3" height="667.9" fill="#003bff"/>
<rect x="217.0" y="1940.4" width="1.3" height="667.9" fill="#0040ff"/>
<rect x="218.0" y="1940.4" width="1.3" height="667.9" fill="#004aff"/>
<rect x="219.0" y="1940.4" width="1.3" height="667.9" fill="#004fff"/>
<rect x="220.0" y="1940.4" width="1.3" height="667.9" fill="#0054ff"/>
<rect x="221.0" y="1940.4" width="1.3" height="667.9" fill="#005eff"/>
<rect x="222.0" y="1940.4" width="2.3" height="667.9" fill="#0063ff"/>
<rect x="224.0" y="1940.4" width="2.3" height="667.9" fill="#0069ff"/>
<rect x="226.0" y="1940.4" width="1.3" height="667.9" fill="#006eff"/>
<rect x="227.0" y="1940.4" width="2.3" height="667.9" fill="#0073ff"/>
<rect x="229.0" y="1940.4" width="2.3" height="667.9" fill="#0078ff"/>
<rect x="231.0" y="1940.4" width="2.3" height="667.9" fill="#007dff"/>
<rect x="233.0" y="1940.4" width="1.3" height="667.9" fill="#0082ff"/>
<rect x="234.0" y="1940.4" width="2.3" height="667.9" fill="#0087ff"/>
<rect x="236.0" y="1940.4" width="2.3" height="667.9" fill="#008cff"/>
<rect x="238.0" y="1940.4" width="1.3" height="667.9" fill="#0091ff"/>
<rect x="239.0" y="1940.4" width="1.3" height="667.9" fill="#0096ff"/>
<rect x="240.0" y="1940.4" width="1.3" height="667.9" fill="#009cff"/>
<rect x="241.0" y="1940.4" width="1.3" height="667.9" fill="#00a6ff"/>
<rect x="242.0" y="1940.4" width="1.3" height="667.9" fill="#00abff"/>
<rect x="243.0" y="1940.4" width="1.3" height="667.9" fill="#00b0ff"/>
<rect x="244.0" y="1940.4" width="1.3" height="667.9" fill="#00b5ff"/>
<rect x="245.0" y="1940.4" width="1.3" height="667.9" fill="#00baff"/>
<rect x="246.0" y="1940.4" width="1.3" height="667.9" fill="#00bfff"/>
<rect x="247.0" y="1940.4" width="1.3" height="667.9" fill="#00c4ff"/>
<rect x="248.0" y="1940.4" width="1.3" height="667.9" fill="#00c9ff"/>
<rect x="249.0" y="1940.4" width="1.3" height="667.9" fill="#00cfff"/>
<rect x="250.0" y="1940.4" width="1.3" height="667.9" fill="#00d4ff"/>
<rect x="251.0" y="1940.4" width="1.3" height="667.9" fill="#00d9ff"/>
<rect x="252.0" y="1940.4" width="1.3" height="667.9" fill="#00e3ff"/>
<rect x="253.0" y="1940.4" width="1.3" height="667.9" fill="#00e8ff"/>
<rect x="254.0" y="1940.4" width="1.3" height="667.9" fill="#00edff"/>
<rect x="255.0" y="1940.4" width="1.3" height="667.9" fill="#00f2ff"/>
<rect x="256.0" y="1940.4" width="1.3" height="667.9" fill="#00f7ff"/>
<rect x="257.0" y="1940.4" width="1.3" height="667.9" fill="#00fcff"/>
<rect x="258.0" y="1940.4" width="1.3" height="667.9" fill="#00fffc"/>
<rect x="259.0" y="1940.4" width="1.3" height="667.9" fill="#00fff7"/>
<rect x="260.0" y="1940.4" width="1.3" height="667.9" fill="#00fff2"/>
<rect x="261.0" y="1940.4" width="1.3" height="667.9" fill="#00ffed"/>
<rect x="262.0" y="1940.4" width="1.3" height="667.9" fill="#00ffe3"/>
<rect x="263.0" y="1940.4" width="1.3" height="667.9" fill="#00ffde"/>
<rect x="264.0" y="1940.4" width="1.3" height="667.9" fill="#00ffd9"/>
<rect x="265.0" y="1940.4" width="1.3" height="667.9" fill="#00ffd4"/>
<rect x="266.0" y="1940.4" width="1.3" height="667.9" fill="#00ffcf"/>
<rect x="267.0" y="1940.4" width="1.3" height="667.9" fill="#00ffc9"/>
<rect x="268.0" y="1940.4" width="1.3" height="667.9" fill="#00ffc4"/>
<rect x="269.0" y="1940.4" width="1.3" height="667.9" fill="#00ffbf"/>
<rect x="270.0" y="1940.4" width="1.3" height="667.9" fill="#00ffba"/>
<rect x="271.0" y="1940.4" width="1.3" height="667.9" fill="#00ffb0"/>
<rect x="272.0" y="1940.4" width="1.3" height="667.9" fill="#00ffab"/>
<rect x="273.0" y="1940.4" width="1.3" height="667.9" fill="#00ffa6"/>
<rect x="274.0" y="1940.4" width="1.3" height="667.9" fill="#00ffa1"/>
<rect x="275.0" y="1940.4" width="1.3" height="667.9" fill="#00ff9c"/>
<rect x="276.0" y="1940.4" width="1.3" height="667.9" fill="#00ff96"/>
<rect x="277.0" y="1940.4" width="1.3" height="667.9" fill="#00ff91"/>
<rect x="278.0" y="1940.4" width="1.3" height="667.9" fill="#00ff8c"/>
<rect x="279.0" y="1940.4" width="1.3" height="667.9" fill="#00ff87"/>
<rect x="280.0" y="1940.4" width="1.3" height="667.9" fill="#00ff7d"/>
<rect x="281.0" y="1940.4" width="1.3" height="667.9" fill="#00ff78"/>
<rect x="282.0" y="1940.4" width="1.3" height="667.9" fill="#00ff73"/>
<rect x="283.0" y="1940.4" width="1.3" height="667.9" fill="#00ff6e"/>
<rect x="284.0" y="1940.4" width="1.3" height="667.9" fill="#00ff63"/>
<rect x="285.0" y="1940.4" width="1.3" height="667.9" fill="#00ff5e"/>
<rect x="286.0" y="1940.4" width="1.3" height="667.9" fill="#00ff59"/>
<rect x="287.0" y="1940.4" width="1.3" height="667.9" fill="#00ff4f"/>
<rect x="288.0" y="1940.4" width="1.3" height="667.9" fill="#00ff4a"/>
<rect x="289.0" y="1940.4" width="1.3" height="667.9" fill="#00ff45"/>
<rect x="290.0" y="1940.4" width="1.3" height="667.9" fill="#00ff40"/>
<rect x="291.0" y="1940.4" width="1.3" height="667.9" fill="#00ff36"/>
<rect x="292.0" y="1940.4" width="1.3" height="667.9" fill="#00ff30"/>
<rect x="293.0" y="1940.4" width="1.3" height="667.9" fill="#00ff2b"/>
<rect x="294.0" y="1940.4" width="1.3" height="667.9" fill="#00ff21"/>
<rect x="295.0" y="1940.4" width="1.3" height="667.9" fill="#00ff1c"/>
<rect x="296.0" y="1940.4" width="1.3" height="667.9" fill="#00ff17"/>
<rect x="297.0" y="1940.4" width="1.3" height="667.9" fill="#00ff0d"/>
<rect x="298.0" y="1940.4" width="1.3" height="667.9" fill="#00ff08"/>
<rect x="299.0" y="1940.4" width="1.3" height="667.9" fill="#00ff03"/>
<rect x="300.0" y="1940.4" width="1.3" height="667.9" fill="#08ff00"/>
<rect x="301.0" y="1940.4" width="1.3" height="667.9" fill="#12ff00"/>
<rect x="302.0" y="1940.4" width="1.3" height="667.9" fill="#1cff00"/>
<rect x="303.0" y="1940.4" width="1.3" height="667.9" fill="#26ff00"/>
<rect x="304.0" y="1940.4" width="1.3" height="667.9" fill="#36ff00"/>
<rect x="305.0" y="1940.4" width="1.3" height="667.9" fill="#40ff00"/>
<rect x="306.0" y="1940.4" width="1.3" height="667.9" fill="#4aff00"/>
<rect x="307.0" y="1940.4" width="1.3" height="667.9" fill="#54ff00"/>
<rect x="308.0" y="1940.4" width="1.3" height="667.9" fill="#5eff00"/>
<rect x="309.0" y="1940.4" width="1.3" height="667.9" fill="#69ff00"/>
<rect x="310.0" y="1940.4" width="1.3" height="667.9" fill="#73ff00"/>
<rect x="311.0" y="1940.4" width="1.3" height="667.9" fill="#82ff00"/>
<rect x="312.0" y="1940.4" width="1.3" height="667.9" fill="#8cff00"/>
<rect x="313.0" y="1940.4" width="1.3" height="667.9" fill="#96ff00"/>
<rect x="314.0" y="1940.4" width="1.3" height="667.9" fill="#a1ff00"/>
<rect x="315.0" y="1940.4" width="1.3" height="667.9" fill="#abff00"/>
<rect x="316.0" y="1940.4" width="1.3" height="667.9" fill="#b5ff00"/>
<rect x="317.0" y="1940.4" width="1.3" height="667.9" fill="#bfff00"/>
<rect x="318.0" y="1940.4" width="1.3" height="667.9" fill="#c9ff00"/>
<rect x="319.0" y="1940.4" width="1.3" height="667.9" fill="#d4ff00"/>
<rect x="320.0" y="1940.4" width="1.3" height="667.9" fill="#deff00"/>
<rect x="321.0" y="1940.4" width="1.3" height="667.9" fill="#e8ff00"/>
<rect x="322.0" y="1940.4" width="1.3" height="667.9" fill="#f2ff00"/>
<rect x="323.0" y="1940.4" width="1.3" height="667.9" fill="#fffc00"/>
<rect x="324.0" y="1940.4" width="1.3" height="667.9" fill="#fff700"/>
<rect x="325.0" y="1940.4" width="1.3" height="667.9" fill="#ffed00"/>
<rect x="326.0" y="1940.4" width="1.3" height="667.9" fill="#ffe300"/>
<rect x="327.0" y="1940.4" width="1.3" height="667.9" fill="#ffde00"/>
<rect x="328.0" y="1940.4" width="1.3" height="667.9" fill="#ffd400"/>
<rect x="329.0" y="1940.4" width="1.3" height="667.9" fill="#ffc900"/>
<rect x="330.0" y="1940.4" width="1.3" height="667.9" fill="#ffbf00"/>
<rect x="331.0" y="1940.4" width="1.3" height="667.9" fill="#ffba00"/>
<rect x="332.0" y="1940.4" width="1.3" height="667.9" fill="#ffb000"/>
<rect x="333.0" y="1940.4" width="1.3" height="667.9" fill="#ffa600"/>
<rect x="334.0" y="1940.4" width="1.3" height="667.9" fill="#ffa100"/>
<rect x="335.0" y="1940.4" width="1.3" height="667.9" fill="#ff9600"/>
<rect x="336.0" y="1940.4" width="1.3" height="667.9" fill="#ff8c00"/>
<rect x="337.0" y="1940.4" width="1.3" height="667.9" fill="#ff8200"/>
<rect x="338.0" y="1940.4" width="1.3" height="667.9" fill="#ff7d00"/>
<rect x="339.0" y="1940.4" width="1.3" height="667.9" fill="#ff7800"/>
<rect x="340.0" y="1940.4" width="1.3" height="667.9" fill="#ff6e00"/>
<rect x="341.0" y="1940.4" width="1.3" height="667.9" fill="#ff6900"/>
<rect x="342.0" y="1940.4" width="1.3" height="667.9" fill="#ff6300"/>
<rect x="343.0" y="1940.4" width="1.3" height="667.9" fill="#ff5900"/>
<rect x="344.0" y="1940.4" width="1.3" height="667.9" fill="#ff5400"/>
<rect x="345.0" y="1940.4" width="1.3" height="667.9" fill="#ff4f00"/>
<rect x="346.0" y="1940.4" width="1.3" height="667.9" fill="#ff4500"/>
<rect x="347.0" y="1940.4" width="1.3" height="667.9" fill="#ff4000"/>
<rect x="348.0" y="1940.4" width="1.3" height="667.9" fill="#ff3b00"/>
<rect x="349.0" y="1940.4" width="1.3" height="667.9" fill="#ff3000"/>
<rect x="350.0" y="1940.4" width="1.3" height="667.9" fill="#ff2b00"/>
<rect x="351.0" y="1940.4" width="1.3" height="667.9" fill="#ff2600"/>
<rect x="352.0" y="1940.4" width="1.3" height="667.9" fill="#ff1c00"/>
<rect x="353.0" y="1940.4" width="1.3" height="667.9" fill="#ff1700"/>
<rect x="354.0" y="1940.4" width="1.3" height="667.9" fill="#ff1200"/>
<rect x="355.0" y="1940.4" width="1.3" height="667.9" fill="#ff0800"/>
<rect x="356.0" y="1940.4" width="36.3" height="667.9" fill="#ff0000"/>
<rect x="392.0" y="1940.4" width="2.3" height="667.9" fill="#ff0800"/>
<rect x="394.0" y="1940.4" width="1.3" height="667.9" fill="#ff0d00"/>
<rect x="395.0" y="1940.4" width="2.3" height="667.9" fill="#ff1200"/>
<rect x="397.0" y="1940.4" width="1.3" height="667.9" fill="#ff1700"/>
<rect x="398.0" y="1940.4" width="2.3" height="667.9" fill="#ff1c00"/>
<rect x="400.0" y="1940.4" width="1.3" height="667.9" fill="#ff2100"/>
<rect x="401.0" y="1940.4" width="1.3" height="667.9" fill="#ff2600"/>
<rect x="402.0" y="1940.4" width="1.3" height="667.9" fill="#ff2b00"/>
<rect x="403.0" y="1940.4" width="1.3" height="667.9" fill="#ff3000"/>
<rect x="404.0" y="1940.4" width="1.3" height="667.9" fill="#ff3600"/>
<rect x="405.0" y="1940.4" width="1.3" height="667.9" fill="#ff3b00"/>
<rect x="406.0" y="1940.4" width="1.3" height="667.9" fill="#ff4000"/>
<rect x="407.0" y="1940.4" width="1.3" height="667.9" fill="#ff4500"/>
<rect x="408.0" y="1940.4" width="1.3" height="667.9" fill="#ff4a00"/>
<rect x="409.0" y="1940.4" width="2.3" height="667.9" fill="#ff4f00"/>
<rect x="411.0" y="1940.4" width="1.3" height="667.9" fill="#ff5400"/>
<rect x="412.0" y="1940.4" width="1.3" height="667.9" fill="#ff5900"/>
<rect x="413.0" y="1940.4" width="1.3" height="667.9" fill="#ff5e00"/>
<rect x="414.0" y="1940.4" width="1.3" height="667.9" fill="#ff6300"/>
<rect x="415.0" y="1940.4" width="1.3" height="667.9" fill="#ff6900"/>
<rect x="416.0" y="1940.4" width="1.3" height="667.9" fill="#ff6e00"/>
<rect x="417.0" y="1940.4" width="1.3" height="667.9" fill="#ff7300"/>
<rect x="418.0" y="1940.4" width="1.3" height="667.9" fill="#ff7800"/>
<rect x="419.0" y="1940.4" width="1.3" height="667.9" fill="#ff7d00"/>
<rect x="420.0" y="1940.4" width="1.3" height="667.9" fill="#ff8200"/>
<rect x="421.0" y="1940.4" width="1.3" height="667.9" fill="#ff8700"/>
<rect x="422.0" y="1940.4" width="1.3" height="667.9" fill="#ff9100"/>
<rect x="423.0" y="1940.4" width="1.3" height="667.9" fill="#ff9600"/>
<rect x="424.0" y="1940.4" width="1.3" height="667.9" fill="#ff9c00"/>
<rect x="425.0" y="1940.4" width="1.3" height="667.9" fill="#ffa100"/>
<rect x="426.0" y="1940.4" width="1.3" height="667.9" fill="#ffa600"/>
<rect x="427.0" y="1940.4" width="1.3" height="667.9" fill="#ffb000"/>
<rect x="428.0" y="1940.4" width="1.3" height="667.9" fill="#ffb500"/>
<rect x="429.0" y="1940.4" width="1.3" height="667.9" fill="#ffba00"/>
<rect x="430.0" y="1940.4" width="1.3" height="667.9" fill="#ffbf00"/>
<rect x="431.0" y="1940.4" width="1.3" height="667.9" fill="#ffc400"/>
<rect x="432.0" y="1940.4" width="1.3" height="667.9" fill="#ffcf00"/>
<rect x="433.0" y="1940.4" width="1.3" height="667.9" fill="#ffd400"/>
<rect x="434.0" y="1940.4" width="1.3" height="667.9" fill="#ffd900"/>
<rect x="435.0" y="1940.4" width="1.3" height="667.9" fill="#ffde00"/>
<rect x="436.0" y="1940.4" width="1.3" height="667.9" fill="#ffe800"/>
<rect x="437.0" y="1940.4" width="1.3" height="667.9" fill="#ffed00"/>
<rect x="438.0" y="1940.4" width="1.3" height="667.9" fill="#fff200"/>
<rect x="439.0" y="1940.4" width="1.3" height="667.9" fill="#fff700"/>
<rect x="440.0" y="1940.4" width="1.3" height="667.9" fill="#fffc00"/>
<rect x="441.0" y="1940.4" width="1.3" height="667.9" fill="#fcff00"/>
<rect x="442.0" y="1940.4" width="1.3" height="667.9" fill="#f7ff00"/>
<rect x="443.0" y="1940.4" width="1.3" height="667.9" fill="#f2ff00"/>
<rect x="444.0" y="1940.4" width="1.3" height="667.9" fill="#edff00"/>
<rect x="445.0" y="1940.4" width="1.3" height="667.9" fill="#e8ff00"/>
<rect x="446.0" y="1940.4" width="1.3" height="667.9" fill="#e3ff00"/>
<rect x="447.0" y="1940.4" width="1.3" height="667.9" fill="#deff00"/>
<rect x="448.0" y="1940.4" width="1.3" height="667.9" fill="#d9ff00"/>
<rect x="449.0" y="1940.4" width="1.3" height="667.9" fill="#d4ff00"/>
<rect x="450.0" y="1940.4" width="1.3" height="667.9" fill="#cfff00"/>
<rect x="451.0" y="1940.4" width="1.3" height="667.9" fill="#c9ff00"/>
<rect x="452.0" y="1940.4" width="1.3" height="667.9" fill="#c4ff00"/>
<rect x="453.0" y="1940.4" width="1.3" height="667.9" fill="#bfff00"/>
<rect x="454.0" y="1940.4" width="1.3" height="667.9" fill="#baff00"/>
<rect x="455.0" y="1940.4" width="1.3" height="667.9" fill="#b5ff00"/>
<rect x="456.0" y="1940.4" width="1.3" height="667.9" fill="#b0ff00"/>
<rect x="457.0" y="1940.4" width="1.3" height="667.9" fill="#abff00"/>
<rect x="458.0" y="1940.4" width="1.3" height="667.9" fill="#a6ff00"/>
<rect x="459.0" y="1940.4" width="1.3" height="667.9" fill="#a1ff00"/>
<rect x="460.0" y="1940.4" width="1.3" height="667.9" fill="#9cff00"/>
<rect x="461.0" y="1940.4" width="1.3" height="667.9" fill="#96ff00"/>
<rect x="462.0" y="1940.4" width="1.3" height="667.9" fill="#91ff00"/>
<rect x="463.0" y="1940.4" width="1.3" height="667.9" fill="#8cff00"/>
<rect x="464.0" y="1940.4" width="1.3" height="667.9" fill="#87ff00"/>
<rect x="465.0" y="1940.4" width="1.3" height="667.9" fill="#82ff00"/>
<rect x="466.0" y="1940.4" width="1.3" height="667.9" fill="#7dff00"/>
<rect x="467.0" y="1940.4" width="1.3" height="667.9" fill="#78ff00"/>
<rect x="468.0" y="1940.4" width="1.3" height="667.9" fill="#73ff00"/>
<rect x="469.0" y="1940.4" width="1.3" height="667.9" fill="#6eff00"/>
<rect x="470.0" y="1940.4" width="2.3" height="667.9" fill="#69ff00"/>
<rect x="472.0" y="1940.4" width="1.3" height="667.9" fill="#63ff00"/>
<rect x="473.0" y="1940.4" width="1.3" height="667.9" fill="#5eff00"/>
<rect x="474.0" y="1940.4" width="1.3" height="667.9" fill="#59ff00"/>
<rect x="475.0" y="1940.4" width="1.3" height="667.9" fill="#54ff00"/>
<rect x="476.0" y="1940.4" width="1.3" height="667.9" fill="#4fff00"/>
<rect x="477.0" y="1940.4" width="1.3" height="667.9" fill="#4aff00"/>
<rect x="478.0" y="1940.4" width="1.3" height="667.9" fill="#45ff00"/>
<rect x="479.0" y="1940.4" width="1.3" height="667.9" fill="#40ff00"/>
<rect x="480.0" y="1940.4" width="1.3" height="667.9" fill="#3bff00"/>
<rect x="481.0" y="1940.4" width="2.3" height="667.9" fill="#36ff00"/>
<rect x="483.0" y="1940.4" width="1.3" height="667.9" fill="#30ff00"/>
<rect x="484.0" y="1940.4" width="1.3" height="667.9" fill="#2bff00"/>
<rect x="485.0" y="1940.4" width="1.3" height="667.9" fill="#26ff00"/>
<rect x="486.0" y="1940.4" width="1.3" height="667.9" fill="#21ff00"/>
<rect x="487.0" y="1940.4" width="1.3" height="667.9" fill="#1cff00"/>
<rect x="488.0" y="1940.4" width="1.3" height="667.9" fill="#17ff00"/>
<rect x="489.0" y="1940.4" width="1.3" height="667.9" fill="#12ff00"/>
<rect x="490.0" y="1940.4" width="1.3" height="667.9" fill="#0dff00"/>
<rect x="491.0" y="1940.4" width="1.3" height="667.9" fill="#08ff00"/>
<rect x="492.0" y="1940.4" width="2.3" height="667.9" fill="#03ff00"/>
<rect x="494.0" y="1940.4" width="1.3" height="667.9" fill="#00ff03"/>
<rect x="495.0" y="1940.4" width="2.3" height="667.9" fill="#00ff08"/>
<rect x="497.0" y="1940.4" width="2.3" height="667.9" fill="#00ff0d"/>
<rect x="499.0" y="1940.4" width="1.3" height="667.9" fill="#00ff12"/>
<rect x="500.0" y="1940.4" width="2.3" height="667.9" fill="#00ff17"/>
<rect x="502.0" y="1940.4" width="2.3" height="667.9" fill="#00ff1c"/>
<rect x="504.0" y="1940.4" width="1.3" height="667.9" fill="#00ff21"/>
<rect x="505.0" y="1940.4" width="2.3" height="667.9" fill="#00ff26"/>
<rect x="507.0" y="1940.4" width="2.3" height="667.9" fill="#00ff2b"/>
<rect x="509.0" y="1940.4" width="1.3" height="667.9" fill="#00ff30"/>
<rect x="510.0" y="1940.4" width="2.3" height="667.9" fill="#00ff36"/>
<rect x="512.0" y="1940.4" width="1.3" height="667.9" fill="#00ff3b"/>
<rect x="513.0" y="1940.4" width="2.3" height="667.9" fill="#00ff40"/>
<rect x="515.0" y="1940.4" width="2.3" height="667.9" fill="#00ff45"/>
<rect x="517.0" y="1940.4" width="1.3" height="667.9" fill="#00ff4a"/>
<rect x="518.0" y="1940.4" width="2.3" height="667.9" fill="#00ff4f"/>
<rect x="520.0" y="1940.4" width="2.3" height="667.9" fill="#00ff54"/>
<rect x="522.0" y="1940.4" width="1.3" height="667.9" fill="#00ff59"/>
<rect x="523.0" y="1940.4" width="2.3" height="667.9" fill="#00ff5e"/>
<rect x="525.0" y="1940.4" width="2.3" height="667.9" fill="#00ff63"/>
<rect x="527.0" y="1940.4" width="1.3" height="667.9" fill="#00ff69"/>
<rect x="528.0" y="1940.4" width="2.3" height="667.9" fill="#00ff6e"/>
<rect x="530.0" y="1940.4" width="2.3" height="667.9" fill="#00ff73"/>
<rect x="532.0" y="1940.4" width="1.3" height="667.9" fill="#00ff78"/>
<rect x="533.0" y="1940.4" width="2.3" height="667.9" fill="#00ff7d"/>
<rect x="535.0" y="1940.4" width="1.3" height="667.9" fill="#00ff82"/>
<rect x="536.0" y="1940.4" width="2.3" height="667.9" fill="#00ff87"/>
<rect x="538.0" y="1940.4" width="1.3" height="667.9" fill="#00ff8c"/>
<rect x="539.0" y="1940.4" width="2.3" height="667.9" fill="#00ff91"/>
<rect x="541.0" y="1940.4" width="1.3" height="667.9" fill="#00ff96"/>
<rect x="542.0" y="1940.4" width="2.3" height="667.9" fill="#00ff9c"/>
<rect x="544.0" y="1940.4" width="1.3" height="667.9" fill="#00ffa1"/>
<rect x="545.0" y="1940.4" width="1.3" height="667.9" fill="#00ffa6"/>
<rect x="546.0" y="1940.4" width="2.3" height="667.9" fill="#00ffab"/>
<rect x="548.0" y="1940.4" width="1.3" height="667.9" fill="#00ffb0"/>
<rect x="549.0" y="1940.4" width="2.3" height="667.9" fill="#00ffb5"/>
<rect x="551.0" y="1940.4" width="1.3" height="667.9" fill="#00ffba"/>
<rect x="552.0" y="1940.4" width="1.3" height="667.9" fill="#00ffbf"/>
<rect x="553.0" y="1940.4" width="2.3" height="667.9" fill="#00ffc4"/>
<rect x="555.0" y="1940.4" width="1.3" height="667.9" fill="#00ffc9"/>
<rect x="556.0" y="1940.4" width="2.3" height="667.9" fill="#00ffcf"/>
<rect x="558.0" y="1940.4" width="1.3" height="667.9" fill="#00ffd4"/>
<rect x="559.0" y="1940.4" width="2.3" height="667.9" fill="#00ffd9"/>
<rect x="561.0" y="1940.4" width="1.3" height="667.9" fill="#00ffde"/>
<rect x="562.0" y="1940.4" width="2.3" height="667.9" fill="#00ffe3"/>
<rect x="564.0" y="1940.4" width="2.3" height="667.9" fill="#00ffe8"/>
<rect x="566.0" y="1940.4" width="3.3" height="667.9" fill="#00ffed"/>
<rect x="569.0" y="1940.4" width="2.3" height="667.9" fill="#00fff2"/>
<rect x="571.0" y="1940.4" width="2.3" height="667.9" fill="#00fff7"/>
<rect x="573.0" y="1940.4" width="2.3" height="667.9" fill="#00fffc"/>
<rect x="575.0" y="1940.4" width="5.3" height="667.9" fill="#00fcff"/>
<rect x="580.0" y="1940.4" width="5.3" height="667.9" fill="#00f7ff"/>
<rect x="585.0" y="1940.4" width="33.3" height="667.9" fill="#00d9ff"/>
<rect x="618.0" y="1940.4" width="42.3" height="667.9" fill="#00bfff"/>
<rect x="660.0" y="1940.4" width="42.3" height="667.9" fill="#00c9ff"/>
<rect x="702.0" y="1940.4" width="19.3" height="667.9" fill="#00b0ff"/>
<rect x="721.0" y="1940.4" width="23.3" height="667.9" fill="#0096ff"/>
<rect x="744.0" y="1940.4" width="19.3" height="667.9" fill="#0087ff"/>
<rect x="763.0" y="1940.4" width="47.3" height="667.9" fill="#0073ff"/>
<rect x="810.0" y="1940.4" width="47.3" height="667.9" fill="#004fff"/>
<rect x="857.0" y="1940.4" width="70.3" height="667.9" fill="#0030ff"/>
<rect x="927.0" y="1940.4" width="36.8" height="667.9" fill="#0017ff"/>
</g>
<rect x="975.5" y="1939.0" width="65.8" height="676.0" fill="#4a3a3a"/>
<rect x="1036.7" y="1939.6" width="3.4" height="674.8" fill="#000"/>
<g shape-rendering="crispEdges">
<rect x="977.3" y="1941.30" width="59.6" height="14.29" fill="#ff0000"/>
<rect x="977.3" y="1955.29" width="59.6" height="14.29" fill="#ff1600"/>
<rect x="977.3" y="1969.29" width="59.6" height="14.29" fill="#ff2b00"/>
<rect x="977.3" y="1983.28" width="59.6" height="14.29" fill="#ff4100"/>
<rect x="977.3" y="1997.27" width="59.6" height="14.29" fill="#ff5700"/>
<rect x="977.3" y="2011.27" width="59.6" height="14.29" fill="#ff6d00"/>
<rect x="977.3" y="2025.26" width="59.6" height="14.29" fill="#ff8200"/>
<rect x="977.3" y="2039.26" width="59.6" height="14.29" fill="#ff9800"/>
<rect x="977.3" y="2053.25" width="59.6" height="14.29" fill="#ffae00"/>
<rect x="977.3" y="2067.24" width="59.6" height="14.29" fill="#ffc300"/>
<rect x="977.3" y="2081.24" width="59.6" height="14.29" fill="#ffd900"/>
<rect x="977.3" y="2095.23" width="59.6" height="14.29" fill="#ffef00"/>
<rect x="977.3" y="2109.22" width="59.6" height="14.29" fill="#faff00"/>
<rect x="977.3" y="2123.22" width="59.6" height="14.29" fill="#e4ff00"/>
<rect x="977.3" y="2137.21" width="59.6" height="14.29" fill="#ceff00"/>
<rect x="977.3" y="2151.21" width="59.6" height="14.29" fill="#b8ff00"/>
<rect x="977.3" y="2165.20" width="59.6" height="14.29" fill="#a3ff00"/>
<rect x="977.3" y="2179.19" width="59.6" height="14.29" fill="#8dff00"/>
<rect x="977.3" y="2193.19" width="59.6" height="14.29" fill="#77ff00"/>
<rect x="977.3" y="2207.18" width="59.6" height="14.29" fill="#62ff00"/>
<rect x="977.3" y="2221.18" width="59.6" height="14.29" fill="#4cff00"/>
<rect x="977.3" y="2235.17" width="59.6" height="14.29" fill="#36ff00"/>
<rect x="977.3" y="2249.16" width="59.6" height="14.29" fill="#21ff00"/>
<rect x="977.3" y="2263.16" width="59.6" height="14.29" fill="#0bff00"/>
<rect x="977.3" y="2277.15" width="59.6" height="14.29" fill="#00ff0b"/>
<rect x="977.3" y="2291.14" width="59.6" height="14.29" fill="#00ff21"/>
<rect x="977.3" y="2305.14" width="59.6" height="14.29" fill="#00ff36"/>
<rect x="977.3" y="2319.13" width="59.6" height="14.29" fill="#00ff4c"/>
<rect x="977.3" y="2333.12" width="59.6" height="14.29" fill="#00ff62"/>
<rect x="977.3" y="2347.12" width="59.6" height="14.29" fill="#00ff77"/>
<rect x="977.3" y="2361.11" width="59.6" height="14.29" fill="#00ff8d"/>
<rect x="977.3" y="2375.11" width="59.6" height="14.29" fill="#00ffa3"/>
<rect x="977.3" y="2389.10" width="59.6" height="14.29" fill="#00ffb8"/>
<rect x="977.3" y="2403.09" width="59.6" height="14.29" fill="#00ffce"/>
<rect x="977.3" y="2417.09" width="59.6" height="14.29" fill="#00ffe4"/>
<rect x="977.3" y="2431.08" width="59.6" height="14.29" fill="#00fffa"/>
<rect x="977.3" y="2445.07" width="59.6" height="14.29" fill="#00efff"/>
<rect x="977.3" y="2459.07" width="59.6" height="14.29" fill="#00d9ff"/>
<rect x="977.3" y="2473.06" width="59.6" height="14.29" fill="#00c3ff"/>
<rect x="977.3" y="2487.06" width="59.6" height="14.29" fill="#00aeff"/>
<rect x="977.3" y="2501.05" width="59.6" height="14.29" fill="#0098ff"/>
<rect x="977.3" y="2515.04" width="59.6" height="14.29" fill="#0082ff"/>
<rect x="977.3" y="2529.04" width="59.6" height="14.29" fill="#006dff"/>
<rect x="977.3" y="2543.03" width="59.6" height="14.29" fill="#0057ff"/>
<rect x="977.3" y="2557.03" width="59.6" height="14.29" fill="#0041ff"/>
<rect x="977.3" y="2571.02" width="59.6" height="14.29" fill="#002bff"/>
<rect x="977.3" y="2585.01" width="59.6" height="14.29" fill="#0016ff"/>
<rect x="977.3" y="2599.01" width="59.6" height="14.29" fill="#0000ff"/>
</g>
<g fill="#fff" fill-opacity="0.17">
<rect x="977.3" y="1954.29" width="59.6" height="2.4"/>
<rect x="977.3" y="1968.29" width="59.6" height="2.4"/>
<rect x="977.3" y="1982.28" width="59.6" height="2.4"/>
<rect x="977.3" y="1996.27" width="59.6" height="2.4"/>
<rect x="977.3" y="2010.27" width="59.6" height="2.4"/>
<rect x="977.3" y="2024.26" width="59.6" height="2.4"/>
<rect x="977.3" y="2038.26" width="59.6" height="2.4"/>
<rect x="977.3" y="2052.25" width="59.6" height="2.4"/>
<rect x="977.3" y="2066.24" width="59.6" height="2.4"/>
<rect x="977.3" y="2080.24" width="59.6" height="2.4"/>
<rect x="977.3" y="2094.23" width="59.6" height="2.4"/>
<rect x="977.3" y="2108.22" width="59.6" height="2.4"/>
<rect x="977.3" y="2122.22" width="59.6" height="2.4"/>
<rect x="977.3" y="2136.21" width="59.6" height="2.4"/>
<rect x="977.3" y="2150.21" width="59.6" height="2.4"/>
<rect x="977.3" y="2164.20" width="59.6" height="2.4"/>
<rect x="977.3" y="2178.19" width="59.6" height="2.4"/>
<rect x="977.3" y="2192.19" width="59.6" height="2.4"/>
<rect x="977.3" y="2206.18" width="59.6" height="2.4"/>
<rect x="977.3" y="2220.18" width="59.6" height="2.4"/>
<rect x="977.3" y="2234.17" width="59.6" height="2.4"/>
<rect x="977.3" y="2248.16" width="59.6" height="2.4"/>
<rect x="977.3" y="2262.16" width="59.6" height="2.4"/>
<rect x="977.3" y="2276.15" width="59.6" height="2.4"/>
<rect x="977.3" y="2290.14" width="59.6" height="2.4"/>
<rect x="977.3" y="2304.14" width="59.6" height="2.4"/>
<rect x="977.3" y="2318.13" width="59.6" height="2.4"/>
<rect x="977.3" y="2332.12" width="59.6" height="2.4"/>
<rect x="977.3" y="2346.12" width="59.6" height="2.4"/>
<rect x="977.3" y="2360.11" width="59.6" height="2.4"/>
<rect x="977.3" y="2374.11" width="59.6" height="2.4"/>
<rect x="977.3" y="2388.10" width="59.6" height="2.4"/>
<rect x="977.3" y="2402.09" width="59.6" height="2.4"/>
<rect x="977.3" y="2416.09" width="59.6" height="2.4"/>
<rect x="977.3" y="2430.08" width="59.6" height="2.4"/>
<rect x="977.3" y="2444.07" width="59.6" height="2.4"/>
<rect x="977.3" y="2458.07" width="59.6" height="2.4"/>
<rect x="977.3" y="2472.06" width="59.6" height="2.4"/>
<rect x="977.3" y="2486.06" width="59.6" height="2.4"/>
<rect x="977.3" y="2500.05" width="59.6" height="2.4"/>
<rect x="977.3" y="2514.04" width="59.6" height="2.4"/>
<rect x="977.3" y="2528.04" width="59.6" height="2.4"/>
<rect x="977.3" y="2542.03" width="59.6" height="2.4"/>
<rect x="977.3" y="2556.03" width="59.6" height="2.4"/>
<rect x="977.3" y="2570.02" width="59.6" height="2.4"/>
<rect x="977.3" y="2584.01" width="59.6" height="2.4"/>
<rect x="977.3" y="2598.01" width="59.6" height="2.4"/>
</g>
<text transform="translate(150.69,1916.81) scale(0.63736,0.58292)" font-size="100" fill="#000">(d)</text>
<text transform="translate(831.89,1905.59) scale(0.61266,0.59560)" font-size="100" fill="#000">Absorptivity</text>
<text transform="translate(453.42,2696.48) scale(0.61882,0.60549)" font-size="100" fill="#000">Frequency (THz)</text>
<text transform="translate(61.88,2623.85) rotate(-90) scale(0.60242,0.60984)" font-size="100" fill="#000">Polarization Angles (degree)</text>
<text transform="translate(129.71,2650.10) scale(0.36300,0.36300)" font-size="100" fill="#000">0.01</text>
<text transform="translate(205.94,2650.10) scale(0.36300,0.36300)" font-size="100" fill="#000">0.05</text>
<text transform="translate(310.44,2650.10) scale(0.36300,0.36300)" font-size="100" fill="#000">0.10</text>
<text transform="translate(414.94,2650.10) scale(0.36300,0.36300)" font-size="100" fill="#000">0.15</text>
<text transform="translate(519.44,2650.10) scale(0.36300,0.36300)" font-size="100" fill="#000">0.20</text>
<text transform="translate(623.94,2650.10) scale(0.36300,0.36300)" font-size="100" fill="#000">0.25</text>
<text transform="translate(728.44,2650.10) scale(0.36300,0.36300)" font-size="100" fill="#000">0.30</text>
<text transform="translate(832.94,2650.10) scale(0.36300,0.36300)" font-size="100" fill="#000">0.35</text>
<text transform="translate(937.44,2650.10) scale(0.36300,0.36300)" font-size="100" fill="#000">0.40</text>
<text transform="translate(96.86,1963.39) scale(0.36300,0.36300)" font-size="100" fill="#000">85</text>
<text transform="translate(100.26,2047.89) scale(0.36300,0.36300)" font-size="100" fill="#000">80</text>
<text transform="translate(99.66,2171.89) scale(0.36300,0.36300)" font-size="100" fill="#000">60</text>
<text transform="translate(99.66,2320.49) scale(0.36300,0.36300)" font-size="100" fill="#000">40</text>
<text transform="translate(99.66,2468.89) scale(0.36300,0.36300)" font-size="100" fill="#000">20</text>
<text transform="translate(115.71,2617.89) scale(0.36300,0.36300)" font-size="100" fill="#000">0</text>
<text transform="translate(1051.44,1951.50) scale(0.36300,0.36300)" font-size="100" fill="#000">0.7600</text>
<text transform="translate(1051.44,2035.60) scale(0.36300,0.36300)" font-size="100" fill="#000">0.6653</text>
<text transform="translate(1051.44,2119.70) scale(0.36300,0.36300)" font-size="100" fill="#000">0.5705</text>
<text transform="translate(1051.44,2203.80) scale(0.36300,0.36300)" font-size="100" fill="#000">0.4758</text>
<text transform="translate(1051.44,2287.90) scale(0.36300,0.36300)" font-size="100" fill="#000">0.3810</text>
<text transform="translate(1051.44,2372.00) scale(0.36300,0.36300)" font-size="100" fill="#000">0.2863</text>
<text transform="translate(1051.44,2456.10) scale(0.36300,0.36300)" font-size="100" fill="#000">0.1915</text>
<text transform="translate(1051.44,2540.20) scale(0.36300,0.36300)" font-size="100" fill="#000">0.09675</text>
<text transform="translate(1051.44,2624.30) scale(0.36300,0.36300)" font-size="100" fill="#000">0.0020</text>
<g shape-rendering="crispEdges">
<rect x="1351.5" y="1921.6" width="18.8" height="669.4" fill="#0000ff"/>
<rect x="1370.0" y="1921.6" width="39.3" height="669.4" fill="#0012ff"/>
<rect x="1409.0" y="1921.6" width="102.3" height="669.4" fill="#0021ff"/>
<rect x="1511.0" y="1921.6" width="68.3" height="669.4" fill="#003bff"/>
<rect x="1579.0" y="1921.6" width="45.3" height="669.4" fill="#004fff"/>
<rect x="1624.0" y="1921.6" width="33.3" height="669.4" fill="#0069ff"/>
<rect x="1657.0" y="1921.6" width="31.3" height="669.4" fill="#0082ff"/>
<rect x="1688.0" y="1921.6" width="25.3" height="669.4" fill="#0096ff"/>
<rect x="1713.0" y="1921.6" width="20.3" height="669.4" fill="#00b0ff"/>
<rect x="1733.0" y="1921.6" width="15.3" height="669.4" fill="#00c9ff"/>
<rect x="1748.0" y="1921.6" width="18.3" height="669.4" fill="#00e3ff"/>
<rect x="1766.0" y="1921.6" width="4.3" height="669.4" fill="#00e8ff"/>
<rect x="1770.0" y="1921.6" width="3.3" height="669.4" fill="#00edff"/>
<rect x="1773.0" y="1921.6" width="4.3" height="669.4" fill="#00f2ff"/>
<rect x="1777.0" y="1921.6" width="3.3" height="669.4" fill="#00f7ff"/>
<rect x="1780.0" y="1921.6" width="3.3" height="669.4" fill="#00fcff"/>
<rect x="1783.0" y="1921.6" width="2.3" height="669.4" fill="#00fffc"/>
<rect x="1785.0" y="1921.6" width="1.3" height="669.4" fill="#00fff7"/>
<rect x="1786.0" y="1921.6" width="2.3" height="669.4" fill="#00fff2"/>
<rect x="1788.0" y="1921.6" width="1.3" height="669.4" fill="#00ffed"/>
<rect x="1789.0" y="1921.6" width="2.3" height="669.4" fill="#00ffe8"/>
<rect x="1791.0" y="1921.6" width="1.3" height="669.4" fill="#00ffe3"/>
<rect x="1792.0" y="1921.6" width="2.3" height="669.4" fill="#00ffde"/>
<rect x="1794.0" y="1921.6" width="1.3" height="669.4" fill="#00ffd9"/>
<rect x="1795.0" y="1921.6" width="2.3" height="669.4" fill="#00ffd4"/>
<rect x="1797.0" y="1921.6" width="1.3" height="669.4" fill="#00ffcf"/>
<rect x="1798.0" y="1921.6" width="1.3" height="669.4" fill="#00ffc9"/>
<rect x="1799.0" y="1921.6" width="2.3" height="669.4" fill="#00ffc4"/>
<rect x="1801.0" y="1921.6" width="1.3" height="669.4" fill="#00ffbf"/>
<rect x="1802.0" y="1921.6" width="2.3" height="669.4" fill="#00ffba"/>
<rect x="1804.0" y="1921.6" width="1.3" height="669.4" fill="#00ffb5"/>
<rect x="1805.0" y="1921.6" width="2.3" height="669.4" fill="#00ffb0"/>
<rect x="1807.0" y="1921.6" width="1.3" height="669.4" fill="#00ffab"/>
<rect x="1808.0" y="1921.6" width="2.3" height="669.4" fill="#00ffa6"/>
<rect x="1810.0" y="1921.6" width="1.3" height="669.4" fill="#00ffa1"/>
<rect x="1811.0" y="1921.6" width="2.3" height="669.4" fill="#00ff9c"/>
<rect x="1813.0" y="1921.6" width="1.3" height="669.4" fill="#00ff96"/>
<rect x="1814.0" y="1921.6" width="2.3" height="669.4" fill="#00ff91"/>
<rect x="1816.0" y="1921.6" width="1.3" height="669.4" fill="#00ff8c"/>
<rect x="1817.0" y="1921.6" width="2.3" height="669.4" fill="#00ff87"/>
<rect x="1819.0" y="1921.6" width="1.3" height="669.4" fill="#00ff82"/>
<rect x="1820.0" y="1921.6" width="1.3" height="669.4" fill="#00ff7d"/>
<rect x="1821.0" y="1921.6" width="2.3" height="669.4" fill="#00ff78"/>
<rect x="1823.0" y="1921.6" width="1.3" height="669.4" fill="#00ff73"/>
<rect x="1824.0" y="1921.6" width="1.3" height="669.4" fill="#00ff6e"/>
<rect x="1825.0" y="1921.6" width="2.3" height="669.4" fill="#00ff69"/>
<rect x="1827.0" y="1921.6" width="1.3" height="669.4" fill="#00ff63"/>
<rect x="1828.0" y="1921.6" width="1.3" height="669.4" fill="#00ff5e"/>
<rect x="1829.0" y="1921.6" width="2.3" height="669.4" fill="#00ff59"/>
<rect x="1831.0" y="1921.6" width="1.3" height="669.4" fill="#00ff54"/>
<rect x="1832.0" y="1921.6" width="1.3" height="669.4" fill="#00ff4f"/>
<rect x="1833.0" y="1921.6" width="2.3" height="669.4" fill="#00ff4a"/>
<rect x="1835.0" y="1921.6" width="1.3" height="669.4" fill="#00ff45"/>
<rect x="1836.0" y="1921.6" width="2.3" height="669.4" fill="#00ff40"/>
<rect x="1838.0" y="1921.6" width="1.3" height="669.4" fill="#00ff3b"/>
<rect x="1839.0" y="1921.6" width="1.3" height="669.4" fill="#00ff36"/>
<rect x="1840.0" y="1921.6" width="2.3" height="669.4" fill="#00ff30"/>
<rect x="1842.0" y="1921.6" width="1.3" height="669.4" fill="#00ff2b"/>
<rect x="1843.0" y="1921.6" width="1.3" height="669.4" fill="#00ff26"/>
<rect x="1844.0" y="1921.6" width="2.3" height="669.4" fill="#00ff21"/>
<rect x="1846.0" y="1921.6" width="1.3" height="669.4" fill="#00ff1c"/>
<rect x="1847.0" y="1921.6" width="1.3" height="669.4" fill="#00ff17"/>
<rect x="1848.0" y="1921.6" width="2.3" height="669.4" fill="#00ff12"/>
<rect x="1850.0" y="1921.6" width="1.3" height="669.4" fill="#00ff0d"/>
<rect x="1851.0" y="1921.6" width="1.3" height="669.4" fill="#00ff08"/>
<rect x="1852.0" y="1921.6" width="2.3" height="669.4" fill="#00ff03"/>
<rect x="1854.0" y="1921.6" width="1.3" height="669.4" fill="#08ff00"/>
<rect x="1855.0" y="1921.6" width="1.3" height="669.4" fill="#0dff00"/>
<rect x="1856.0" y="1921.6" width="1.3" height="669.4" fill="#12ff00"/>
<rect x="1857.0" y="1921.6" width="1.3" height="669.4" fill="#17ff00"/>
<rect x="1858.0" y="1921.6" width="1.3" height="669.4" fill="#21ff00"/>
<rect x="1859.0" y="1921.6" width="1.3" height="669.4" fill="#26ff00"/>
<rect x="1860.0" y="1921.6" width="1.3" height="669.4" fill="#2bff00"/>
<rect x="1861.0" y="1921.6" width="1.3" height="669.4" fill="#36ff00"/>
<rect x="1862.0" y="1921.6" width="1.3" height="669.4" fill="#3bff00"/>
<rect x="1863.0" y="1921.6" width="1.3" height="669.4" fill="#40ff00"/>
<rect x="1864.0" y="1921.6" width="1.3" height="669.4" fill="#45ff00"/>
<rect x="1865.0" y="1921.6" width="1.3" height="669.4" fill="#4fff00"/>
<rect x="1866.0" y="1921.6" width="1.3" height="669.4" fill="#54ff00"/>
<rect x="1867.0" y="1921.6" width="1.3" height="669.4" fill="#59ff00"/>
<rect x="1868.0" y="1921.6" width="1.3" height="669.4" fill="#63ff00"/>
<rect x="1869.0" y="1921.6" width="1.3" height="669.4" fill="#69ff00"/>
<rect x="1870.0" y="1921.6" width="1.3" height="669.4" fill="#6eff00"/>
<rect x="1871.0" y="1921.6" width="1.3" height="669.4" fill="#78ff00"/>
<rect x="1872.0" y="1921.6" width="1.3" height="669.4" fill="#7dff00"/>
<rect x="1873.0" y="1921.6" width="1.3" height="669.4" fill="#82ff00"/>
<rect x="1874.0" y="1921.6" width="1.3" height="669.4" fill="#8cff00"/>
<rect x="1875.0" y="1921.6" width="1.3" height="669.4" fill="#91ff00"/>
<rect x="1876.0" y="1921.6" width="1.3" height="669.4" fill="#9cff00"/>
<rect x="1877.0" y="1921.6" width="1.3" height="669.4" fill="#a1ff00"/>
<rect x="1878.0" y="1921.6" width="1.3" height="669.4" fill="#a6ff00"/>
<rect x="1879.0" y="1921.6" width="1.3" height="669.4" fill="#b0ff00"/>
<rect x="1880.0" y="1921.6" width="1.3" height="669.4" fill="#b5ff00"/>
<rect x="1881.0" y="1921.6" width="1.3" height="669.4" fill="#bfff00"/>
<rect x="1882.0" y="1921.6" width="1.3" height="669.4" fill="#c4ff00"/>
<rect x="1883.0" y="1921.6" width="1.3" height="669.4" fill="#cfff00"/>
<rect x="1884.0" y="1921.6" width="1.3" height="669.4" fill="#d4ff00"/>
<rect x="1885.0" y="1921.6" width="1.3" height="669.4" fill="#d9ff00"/>
<rect x="1886.0" y="1921.6" width="1.3" height="669.4" fill="#e3ff00"/>
<rect x="1887.0" y="1921.6" width="1.3" height="669.4" fill="#e8ff00"/>
<rect x="1888.0" y="1921.6" width="1.3" height="669.4" fill="#f2ff00"/>
<rect x="1889.0" y="1921.6" width="1.3" height="669.4" fill="#f7ff00"/>
<rect x="1890.0" y="1921.6" width="1.3" height="669.4" fill="#fffc00"/>
<rect x="1891.0" y="1921.6" width="1.3" height="669.4" fill="#fff700"/>
<rect x="1892.0" y="1921.6" width="1.3" height="669.4" fill="#ffed00"/>
<rect x="1893.0" y="1921.6" width="1.3" height="669.4" fill="#ffe300"/>
<rect x="1894.0" y="1921.6" width="1.3" height="669.4" fill="#ffd900"/>
<rect x="1895.0" y="1921.6" width="1.3" height="669.4" fill="#ffd400"/>
<rect x="1896.0" y="1921.6" width="1.3" height="669.4" fill="#ffc900"/>
<rect x="1897.0" y="1921.6" width="1.3" height="669.4" fill="#ffbf00"/>
<rect x="1898.0" y="1921.6" width="1.3" height="669.4" fill="#ffba00"/>
<rect x="1899.0" y="1921.6" width="1.3" height="669.4" fill="#ffb000"/>
<rect x="1900.0" y="1921.6" width="1.3" height="669.4" fill="#ffa600"/>
<rect x="1901.0" y="1921.6" width="1.3" height="669.4" fill="#ff9c00"/>
<rect x="1902.0" y="1921.6" width="1.3" height="669.4" fill="#ff9600"/>
<rect x="1903.0" y="1921.6" width="1.3" height="669.4" fill="#ff8c00"/>
<rect x="1904.0" y="1921.6" width="1.3" height="669.4" fill="#ff8200"/>
<rect x="1905.0" y="1921.6" width="1.3" height="669.4" fill="#ff7d00"/>
<rect x="1906.0" y="1921.6" width="1.3" height="669.4" fill="#ff7300"/>
<rect x="1907.0" y="1921.6" width="1.3" height="669.4" fill="#ff6900"/>
<rect x="1908.0" y="1921.6" width="1.3" height="669.4" fill="#ff6300"/>
<rect x="1909.0" y="1921.6" width="1.3" height="669.4" fill="#ff5900"/>
<rect x="1910.0" y="1921.6" width="1.3" height="669.4" fill="#ff5400"/>
<rect x="1911.0" y="1921.6" width="1.3" height="669.4" fill="#ff4a00"/>
<rect x="1912.0" y="1921.6" width="1.3" height="669.4" fill="#ff4000"/>
<rect x="1913.0" y="1921.6" width="1.3" height="669.4" fill="#ff3b00"/>
<rect x="1914.0" y="1921.6" width="1.3" height="669.4" fill="#ff3000"/>
<rect x="1915.0" y="1921.6" width="1.3" height="669.4" fill="#ff2b00"/>
<rect x="1916.0" y="1921.6" width="1.3" height="669.4" fill="#ff2100"/>
<rect x="1917.0" y="1921.6" width="1.3" height="669.4" fill="#ff1700"/>
<rect x="1918.0" y="1921.6" width="5.3" height="669.4" fill="#ff1200"/>
<rect x="1923.0" y="1921.6" width="5.3" height="669.4" fill="#ff0d00"/>
<rect x="1928.0" y="1921.6" width="10.3" height="669.4" fill="#ff0800"/>
<rect x="1938.0" y="1921.6" width="5.3" height="669.4" fill="#ff0d00"/>
<rect x="1943.0" y="1921.6" width="6.3" height="669.4" fill="#ff1200"/>
<rect x="1949.0" y="1921.6" width="1.3" height="669.4" fill="#ff1700"/>
<rect x="1950.0" y="1921.6" width="1.3" height="669.4" fill="#ff1c00"/>
<rect x="1951.0" y="1921.6" width="1.3" height="669.4" fill="#ff2100"/>
<rect x="1952.0" y="1921.6" width="1.3" height="669.4" fill="#ff2600"/>
<rect x="1953.0" y="1921.6" width="1.3" height="669.4" fill="#ff2b00"/>
<rect x="1954.0" y="1921.6" width="1.3" height="669.4" fill="#ff3000"/>
<rect x="1955.0" y="1921.6" width="1.3" height="669.4" fill="#ff3600"/>
<rect x="1956.0" y="1921.6" width="1.3" height="669.4" fill="#ff3b00"/>
<rect x="1957.0" y="1921.6" width="2.3" height="669.4" fill="#ff4000"/>
<rect x="1959.0" y="1921.6" width="3.3" height="669.4" fill="#ff4500"/>
<rect x="1962.0" y="1921.6" width="2.3" height="669.4" fill="#ff4a00"/>
<rect x="1964.0" y="1921.6" width="3.3" height="669.4" fill="#ff4f00"/>
<rect x="1967.0" y="1921.6" width="2.3" height="669.4" fill="#ff5400"/>
<rect x="1969.0" y="1921.6" width="2.3" height="669.4" fill="#ff5900"/>
<rect x="1971.0" y="1921.6" width="3.3" height="669.4" fill="#ff5e00"/>
<rect x="1974.0" y="1921.6" width="2.3" height="669.4" fill="#ff6300"/>
<rect x="1976.0" y="1921.6" width="3.3" height="669.4" fill="#ff6900"/>
<rect x="1979.0" y="1921.6" width="2.3" height="669.4" fill="#ff6e00"/>
<rect x="1981.0" y="1921.6" width="3.3" height="669.4" fill="#ff7300"/>
<rect x="1984.0" y="1921.6" width="4.3" height="669.4" fill="#ff7800"/>
<rect x="1988.0" y="1921.6" width="3.3" height="669.4" fill="#ff7300"/>
<rect x="1991.0" y="1921.6" width="2.3" height="669.4" fill="#ff6e00"/>
<rect x="1993.0" y="1921.6" width="3.3" height="669.4" fill="#ff6900"/>
<rect x="1996.0" y="1921.6" width="2.3" height="669.4" fill="#ff6300"/>
<rect x="1998.0" y="1921.6" width="3.3" height="669.4" fill="#ff5e00"/>
<rect x="2001.0" y="1921.6" width="2.3" height="669.4" fill="#ff5900"/>
<rect x="2003.0" y="1921.6" width="2.3" height="669.4" fill="#ff5400"/>
<rect x="2005.0" y="1921.6" width="3.3" height="669.4" fill="#ff4f00"/>
<rect x="2008.0" y="1921.6" width="2.3" height="669.4" fill="#ff4a00"/>
<rect x="2010.0" y="1921.6" width="3.3" height="669.4" fill="#ff4500"/>
<rect x="2013.0" y="1921.6" width="2.3" height="669.4" fill="#ff4000"/>
<rect x="2015.0" y="1921.6" width="2.3" height="669.4" fill="#ff3b00"/>
<rect x="2017.0" y="1921.6" width="1.3" height="669.4" fill="#ff3600"/>
<rect x="2018.0" y="1921.6" width="2.3" height="669.4" fill="#ff3000"/>
<rect x="2020.0" y="1921.6" width="2.3" height="669.4" fill="#ff2b00"/>
<rect x="2022.0" y="1921.6" width="1.3" height="669.4" fill="#ff2600"/>
<rect x="2023.0" y="1921.6" width="2.3" height="669.4" fill="#ff2100"/>
<rect x="2025.0" y="1921.6" width="2.3" height="669.4" fill="#ff1c00"/>
<rect x="2027.0" y="1921.6" width="1.3" height="669.4" fill="#ff1700"/>
<rect x="2028.0" y="1921.6" width="2.3" height="669.4" fill="#ff1200"/>
<rect x="2030.0" y="1921.6" width="2.3" height="669.4" fill="#ff0d00"/>
<rect x="2032.0" y="1921.6" width="1.3" height="669.4" fill="#ff0800"/>
<rect x="2033.0" y="1921.6" width="34.3" height="669.4" fill="#ff0000"/>
<rect x="2067.0" y="1921.6" width="1.3" height="669.4" fill="#ff0d00"/>
<rect x="2068.0" y="1921.6" width="1.3" height="669.4" fill="#ff1200"/>
<rect x="2069.0" y="1921.6" width="1.3" height="669.4" fill="#ff1c00"/>
<rect x="2070.0" y="1921.6" width="1.3" height="669.4" fill="#ff2100"/>
<rect x="2071.0" y="1921.6" width="1.3" height="669.4" fill="#ff2b00"/>
<rect x="2072.0" y="1921.6" width="1.3" height="669.4" fill="#ff3000"/>
<rect x="2073.0" y="1921.6" width="1.3" height="669.4" fill="#ff3b00"/>
<rect x="2074.0" y="1921.6" width="1.3" height="669.4" fill="#ff4000"/>
<rect x="2075.0" y="1921.6" width="1.3" height="669.4" fill="#ff4500"/>
<rect x="2076.0" y="1921.6" width="1.3" height="669.4" fill="#ff4f00"/>
<rect x="2077.0" y="1921.6" width="1.3" height="669.4" fill="#ff5400"/>
<rect x="2078.0" y="1921.6" width="1.3" height="669.4" fill="#ff5e00"/>
<rect x="2079.0" y="1921.6" width="1.3" height="669.4" fill="#ff6300"/>
<rect x="2080.0" y="1921.6" width="1.3" height="669.4" fill="#ff6e00"/>
<rect x="2081.0" y="1921.6" width="1.3" height="669.4" fill="#ff7300"/>
<rect x="2082.0" y="1921.6" width="1.3" height="669.4" fill="#ff7d00"/>
<rect x="2083.0" y="1921.6" width="1.3" height="669.4" fill="#ff8700"/>
<rect x="2084.0" y="1921.6" width="1.3" height="669.4" fill="#ff9100"/>
<rect x="2085.0" y="1921.6" width="1.3" height="669.4" fill="#ff9c00"/>
<rect x="2086.0" y="1921.6" width="1.3" height="669.4" fill="#ffa600"/>
<rect x="2087.0" y="1921.6" width="1.3" height="669.4" fill="#ffb500"/>
<rect x="2088.0" y="1921.6" width="1.3" height="669.4" fill="#ffbf00"/>
<rect x="2089.0" y="1921.6" width="1.3" height="669.4" fill="#ffc900"/>
<rect x="2090.0" y="1921.6" width="1.3" height="669.4" fill="#ffd900"/>
<rect x="2091.0" y="1921.6" width="1.3" height="669.4" fill="#ffe300"/>
<rect x="2092.0" y="1921.6" width="1.3" height="669.4" fill="#ffed00"/>
<rect x="2093.0" y="1921.6" width="1.3" height="669.4" fill="#fff700"/>
<rect x="2094.0" y="1921.6" width="1.3" height="669.4" fill="#f7ff00"/>
<rect x="2095.0" y="1921.6" width="1.3" height="669.4" fill="#edff00"/>
<rect x="2096.0" y="1921.6" width="1.3" height="669.4" fill="#e3ff00"/>
<rect x="2097.0" y="1921.6" width="1.3" height="669.4" fill="#d9ff00"/>
<rect x="2098.0" y="1921.6" width="1.3" height="669.4" fill="#cfff00"/>
<rect x="2099.0" y="1921.6" width="1.3" height="669.4" fill="#c4ff00"/>
<rect x="2100.0" y="1921.6" width="1.3" height="669.4" fill="#baff00"/>
<rect x="2101.0" y="1921.6" width="1.3" height="669.4" fill="#b0ff00"/>
<rect x="2102.0" y="1921.6" width="1.3" height="669.4" fill="#a6ff00"/>
<rect x="2103.0" y="1921.6" width="1.3" height="669.4" fill="#9cff00"/>
<rect x="2104.0" y="1921.6" width="1.3" height="669.4" fill="#91ff00"/>
<rect x="2105.0" y="1921.6" width="1.3" height="669.4" fill="#87ff00"/>
<rect x="2106.0" y="1921.6" width="1.3" height="669.4" fill="#78ff00"/>
<rect x="2107.0" y="1921.6" width="1.3" height="669.4" fill="#6eff00"/>
<rect x="2108.0" y="1921.6" width="1.3" height="669.4" fill="#63ff00"/>
<rect x="2109.0" y="1921.6" width="1.3" height="669.4" fill="#59ff00"/>
<rect x="2110.0" y="1921.6" width="1.3" height="669.4" fill="#4fff00"/>
<rect x="2111.0" y="1921.6" width="1.3" height="669.4" fill="#45ff00"/>
<rect x="2112.0" y="1921.6" width="1.3" height="669.4" fill="#3bff00"/>
<rect x="2113.0" y="1921.6" width="1.3" height="669.4" fill="#30ff00"/>
<rect x="2114.0" y="1921.6" width="1.3" height="669.4" fill="#26ff00"/>
<rect x="2115.0" y="1921.6" width="1.3" height="669.4" fill="#1cff00"/>
<rect x="2116.0" y="1921.6" width="1.3" height="669.4" fill="#12ff00"/>
<rect x="2117.0" y="1921.6" width="1.3" height="669.4" fill="#08ff00"/>
<rect x="2118.0" y="1921.6" width="1.3" height="669.4" fill="#00ff03"/>
<rect x="2119.0" y="1921.6" width="1.3" height="669.4" fill="#00ff0d"/>
<rect x="2120.0" y="1921.6" width="1.3" height="669.4" fill="#00ff12"/>
<rect x="2121.0" y="1921.6" width="1.3" height="669.4" fill="#00ff17"/>
<rect x="2122.0" y="1921.6" width="1.3" height="669.4" fill="#00ff21"/>
<rect x="2123.0" y="1921.6" width="1.3" height="669.4" fill="#00ff26"/>
<rect x="2124.0" y="1921.6" width="1.3" height="669.4" fill="#00ff30"/>
<rect x="2125.0" y="1921.6" width="1.3" height="669.4" fill="#00ff36"/>
<rect x="2126.0" y="1921.6" width="1.3" height="669.4" fill="#00ff3b"/>
<rect x="2127.0" y="1921.6" width="1.3" height="669.4" fill="#00ff45"/>
<rect x="2128.0" y="1921.6" width="1.3" height="669.4" fill="#00ff4a"/>
<rect x="2129.0" y="1921.6" width="1.3" height="669.4" fill="#00ff4f"/>
<rect x="2130.0" y="1921.6" width="1.3" height="669.4" fill="#00ff59"/>
<rect x="2131.0" y="1921.6" width="1.3" height="669.4" fill="#00ff5e"/>
<rect x="2132.0" y="1921.6" width="1.3" height="669.4" fill="#00ff69"/>
<rect x="2133.0" y="1921.6" width="1.3" height="669.4" fill="#00ff6e"/>
<rect x="2134.0" y="1921.6" width="1.3" height="669.4" fill="#00ff73"/>
<rect x="2135.0" y="1921.6" width="1.3" height="669.4" fill="#00ff7d"/>
<rect x="2136.0" y="1921.6" width="1.3" height="669.4" fill="#00ff82"/>
<rect x="2137.0" y="1921.6" width="1.3" height="669.4" fill="#00ff8c"/>
<rect x="2138.0" y="1921.6" width="1.3" height="669.4" fill="#00ff91"/>
<rect x="2139.0" y="1921.6" width="1.3" height="669.4" fill="#00ff96"/>
<rect x="2140.0" y="1921.6" width="1.3" height="669.4" fill="#00ffa1"/>
<rect x="2141.0" y="1921.6" width="1.3" height="669.4" fill="#00ffa6"/>
<rect x="2142.0" y="1921.6" width="1.3" height="669.4" fill="#00ffb0"/>
<rect x="2143.0" y="1921.6" width="1.3" height="669.4" fill="#00ffb5"/>
<rect x="2144.0" y="1921.6" width="1.3" height="669.4" fill="#00ffba"/>
<rect x="2145.0" y="1921.6" width="1.3" height="669.4" fill="#00ffc4"/>
<rect x="2146.0" y="1921.6" width="1.3" height="669.4" fill="#00ffc9"/>
<rect x="2147.0" y="1921.6" width="1.3" height="669.4" fill="#00ffcf"/>
<rect x="2148.0" y="1921.6" width="1.3" height="669.4" fill="#00ffd9"/>
<rect x="2149.0" y="1921.6" width="1.3" height="669.4" fill="#00ffde"/>
<rect x="2150.0" y="1921.6" width="1.3" height="669.4" fill="#00ffe8"/>
<rect x="2151.0" y="1921.6" width="1.3" height="669.4" fill="#00ffed"/>
<rect x="2152.0" y="1921.6" width="1.3" height="669.4" fill="#00fff2"/>
<rect x="2153.0" y="1921.6" width="1.3" height="669.4" fill="#00fffc"/>
<rect x="2154.0" y="1921.6" width="1.3" height="669.4" fill="#00fcff"/>
<rect x="2155.0" y="1921.6" width="1.3" height="669.4" fill="#00f7ff"/>
<rect x="2156.0" y="1921.6" width="1.3" height="669.4" fill="#00f2ff"/>
<rect x="2157.0" y="1921.6" width="1.3" height="669.4" fill="#00edff"/>
<rect x="2158.0" y="1921.6" width="1.3" height="669.4" fill="#00e8ff"/>
<rect x="2159.0" y="1921.6" width="1.3" height="669.4" fill="#00e3ff"/>
<rect x="2160.0" y="1921.6" width="1.3" height="669.4" fill="#00d9ff"/>
<rect x="2161.0" y="1921.6" width="1.3" height="669.4" fill="#00d4ff"/>
<rect x="2162.0" y="1921.6" width="1.3" height="669.4" fill="#00cfff"/>
<rect x="2163.0" y="1921.6" width="1.3" height="669.4" fill="#00c9ff"/>
<rect x="2164.0" y="1921.6" width="1.3" height="669.4" fill="#00c4ff"/>
<rect x="2165.0" y="1921.6" width="2.3" height="669.4" fill="#00bfff"/>
<rect x="2167.0" y="1921.6" width="0.8" height="669.4" fill="#00baff"/>
</g>
<rect x="2186.0" y="1927.0" width="67.2" height="668.0" fill="#4a3a3a"/>
<rect x="2248.6" y="1927.6" width="3.4" height="666.8" fill="#000"/>
<g shape-rendering="crispEdges">
<rect x="2187.8" y="1929.30" width="61.0" height="14.13" fill="#ff0000"/>
<rect x="2187.8" y="1943.13" width="61.0" height="14.13" fill="#ff1600"/>
<rect x="2187.8" y="1956.95" width="61.0" height="14.13" fill="#ff2b00"/>
<rect x="2187.8" y="1970.78" width="61.0" height="14.13" fill="#ff4100"/>
<rect x="2187.8" y="1984.61" width="61.0" height="14.13" fill="#ff5700"/>
<rect x="2187.8" y="1998.44" width="61.0" height="14.13" fill="#ff6d00"/>
<rect x="2187.8" y="2012.26" width="61.0" height="14.13" fill="#ff8200"/>
<rect x="2187.8" y="2026.09" width="61.0" height="14.13" fill="#ff9800"/>
<rect x="2187.8" y="2039.92" width="61.0" height="14.13" fill="#ffae00"/>
<rect x="2187.8" y="2053.74" width="61.0" height="14.13" fill="#ffc300"/>
<rect x="2187.8" y="2067.57" width="61.0" height="14.13" fill="#ffd900"/>
<rect x="2187.8" y="2081.40" width="61.0" height="14.13" fill="#ffef00"/>
<rect x="2187.8" y="2095.22" width="61.0" height="14.13" fill="#faff00"/>
<rect x="2187.8" y="2109.05" width="61.0" height="14.13" fill="#e4ff00"/>
<rect x="2187.8" y="2122.88" width="61.0" height="14.13" fill="#ceff00"/>
<rect x="2187.8" y="2136.71" width="61.0" height="14.13" fill="#b8ff00"/>
<rect x="2187.8" y="2150.53" width="61.0" height="14.13" fill="#a3ff00"/>
<rect x="2187.8" y="2164.36" width="61.0" height="14.13" fill="#8dff00"/>
<rect x="2187.8" y="2178.19" width="61.0" height="14.13" fill="#77ff00"/>
<rect x="2187.8" y="2192.01" width="61.0" height="14.13" fill="#62ff00"/>
<rect x="2187.8" y="2205.84" width="61.0" height="14.13" fill="#4cff00"/>
<rect x="2187.8" y="2219.67" width="61.0" height="14.13" fill="#36ff00"/>
<rect x="2187.8" y="2233.50" width="61.0" height="14.13" fill="#21ff00"/>
<rect x="2187.8" y="2247.32" width="61.0" height="14.13" fill="#0bff00"/>
<rect x="2187.8" y="2261.15" width="61.0" height="14.13" fill="#00ff0b"/>
<rect x="2187.8" y="2274.98" width="61.0" height="14.13" fill="#00ff21"/>
<rect x="2187.8" y="2288.80" width="61.0" height="14.13" fill="#00ff36"/>
<rect x="2187.8" y="2302.63" width="61.0" height="14.13" fill="#00ff4c"/>
<rect x="2187.8" y="2316.46" width="61.0" height="14.13" fill="#00ff62"/>
<rect x="2187.8" y="2330.29" width="61.0" height="14.13" fill="#00ff77"/>
<rect x="2187.8" y="2344.11" width="61.0" height="14.13" fill="#00ff8d"/>
<rect x="2187.8" y="2357.94" width="61.0" height="14.13" fill="#00ffa3"/>
<rect x="2187.8" y="2371.77" width="61.0" height="14.13" fill="#00ffb8"/>
<rect x="2187.8" y="2385.59" width="61.0" height="14.13" fill="#00ffce"/>
<rect x="2187.8" y="2399.42" width="61.0" height="14.13" fill="#00ffe4"/>
<rect x="2187.8" y="2413.25" width="61.0" height="14.13" fill="#00fffa"/>
<rect x="2187.8" y="2427.07" width="61.0" height="14.13" fill="#00efff"/>
<rect x="2187.8" y="2440.90" width="61.0" height="14.13" fill="#00d9ff"/>
<rect x="2187.8" y="2454.73" width="61.0" height="14.13" fill="#00c3ff"/>
<rect x="2187.8" y="2468.56" width="61.0" height="14.13" fill="#00aeff"/>
<rect x="2187.8" y="2482.38" width="61.0" height="14.13" fill="#0098ff"/>
<rect x="2187.8" y="2496.21" width="61.0" height="14.13" fill="#0082ff"/>
<rect x="2187.8" y="2510.04" width="61.0" height="14.13" fill="#006dff"/>
<rect x="2187.8" y="2523.86" width="61.0" height="14.13" fill="#0057ff"/>
<rect x="2187.8" y="2537.69" width="61.0" height="14.13" fill="#0041ff"/>
<rect x="2187.8" y="2551.52" width="61.0" height="14.13" fill="#002bff"/>
<rect x="2187.8" y="2565.35" width="61.0" height="14.13" fill="#0016ff"/>
<rect x="2187.8" y="2579.17" width="61.0" height="14.13" fill="#0000ff"/>
</g>
<g fill="#fff" fill-opacity="0.17">
<rect x="2187.8" y="1942.13" width="61.0" height="2.4"/>
<rect x="2187.8" y="1955.95" width="61.0" height="2.4"/>
<rect x="2187.8" y="1969.78" width="61.0" height="2.4"/>
<rect x="2187.8" y="1983.61" width="61.0" height="2.4"/>
<rect x="2187.8" y="1997.44" width="61.0" height="2.4"/>
<rect x="2187.8" y="2011.26" width="61.0" height="2.4"/>
<rect x="2187.8" y="2025.09" width="61.0" height="2.4"/>
<rect x="2187.8" y="2038.92" width="61.0" height="2.4"/>
<rect x="2187.8" y="2052.74" width="61.0" height="2.4"/>
<rect x="2187.8" y="2066.57" width="61.0" height="2.4"/>
<rect x="2187.8" y="2080.40" width="61.0" height="2.4"/>
<rect x="2187.8" y="2094.22" width="61.0" height="2.4"/>
<rect x="2187.8" y="2108.05" width="61.0" height="2.4"/>
<rect x="2187.8" y="2121.88" width="61.0" height="2.4"/>
<rect x="2187.8" y="2135.71" width="61.0" height="2.4"/>
<rect x="2187.8" y="2149.53" width="61.0" height="2.4"/>
<rect x="2187.8" y="2163.36" width="61.0" height="2.4"/>
<rect x="2187.8" y="2177.19" width="61.0" height="2.4"/>
<rect x="2187.8" y="2191.01" width="61.0" height="2.4"/>
<rect x="2187.8" y="2204.84" width="61.0" height="2.4"/>
<rect x="2187.8" y="2218.67" width="61.0" height="2.4"/>
<rect x="2187.8" y="2232.50" width="61.0" height="2.4"/>
<rect x="2187.8" y="2246.32" width="61.0" height="2.4"/>
<rect x="2187.8" y="2260.15" width="61.0" height="2.4"/>
<rect x="2187.8" y="2273.98" width="61.0" height="2.4"/>
<rect x="2187.8" y="2287.80" width="61.0" height="2.4"/>
<rect x="2187.8" y="2301.63" width="61.0" height="2.4"/>
<rect x="2187.8" y="2315.46" width="61.0" height="2.4"/>
<rect x="2187.8" y="2329.29" width="61.0" height="2.4"/>
<rect x="2187.8" y="2343.11" width="61.0" height="2.4"/>
<rect x="2187.8" y="2356.94" width="61.0" height="2.4"/>
<rect x="2187.8" y="2370.77" width="61.0" height="2.4"/>
<rect x="2187.8" y="2384.59" width="61.0" height="2.4"/>
<rect x="2187.8" y="2398.42" width="61.0" height="2.4"/>
<rect x="2187.8" y="2412.25" width="61.0" height="2.4"/>
<rect x="2187.8" y="2426.07" width="61.0" height="2.4"/>
<rect x="2187.8" y="2439.90" width="61.0" height="2.4"/>
<rect x="2187.8" y="2453.73" width="61.0" height="2.4"/>
<rect x="2187.8" y="2467.56" width="61.0" height="2.4"/>
<rect x="2187.8" y="2481.38" width="61.0" height="2.4"/>
<rect x="2187.8" y="2495.21" width="61.0" height="2.4"/>
<rect x="2187.8" y="2509.04" width="61.0" height="2.4"/>
<rect x="2187.8" y="2522.86" width="61.0" height="2.4"/>
<rect x="2187.8" y="2536.69" width="61.0" height="2.4"/>
<rect x="2187.8" y="2550.52" width="61.0" height="2.4"/>
<rect x="2187.8" y="2564.35" width="61.0" height="2.4"/>
<rect x="2187.8" y="2578.17" width="61.0" height="2.4"/>
</g>
<text transform="translate(1353.43,1893.09) scale(0.65268,0.58402)" font-size="100" fill="#000">(e)</text>
<text transform="translate(2050.38,1896.36) scale(0.61695,0.60659)" font-size="100" fill="#000">Absorptivity</text>
<text transform="translate(1650.72,2684.03) scale(0.61772,0.58022)" font-size="100" fill="#000">Frequency (THz)</text>
<text transform="translate(1275.28,2639.05) rotate(-90) scale(0.60125,0.60109)" font-size="100" fill="#000">Polarization Angles (degree)</text>
<text transform="translate(1332.71,2631.30) scale(0.36300,0.36300)" font-size="100" fill="#000">0.01</text>
<text transform="translate(1409.54,2631.30) scale(0.36300,0.36300)" font-size="100" fill="#000">0.05</text>
<text transform="translate(1513.99,2631.30) scale(0.36300,0.36300)" font-size="100" fill="#000">0.10</text>
<text transform="translate(1618.44,2631.30) scale(0.36300,0.36300)" font-size="100" fill="#000">0.15</text>
<text transform="translate(1722.89,2631.30) scale(0.36300,0.36300)" font-size="100" fill="#000">0.20</text>
<text transform="translate(1827.34,2631.30) scale(0.36300,0.36300)" font-size="100" fill="#000">0.25</text>
<text transform="translate(1931.79,2631.30) scale(0.36300,0.36300)" font-size="100" fill="#000">0.30</text>
<text transform="translate(2036.24,2631.30) scale(0.36300,0.36300)" font-size="100" fill="#000">0.35</text>
<text transform="translate(2140.69,2631.30) scale(0.36300,0.36300)" font-size="100" fill="#000">0.40</text>
<text transform="translate(1304.46,1941.89) scale(0.36300,0.36300)" font-size="100" fill="#000">85</text>
<text transform="translate(1303.96,2030.39) scale(0.36300,0.36300)" font-size="100" fill="#000">80</text>
<text transform="translate(1303.96,2154.29) scale(0.36300,0.36300)" font-size="100" fill="#000">60</text>
<text transform="translate(1303.96,2302.49) scale(0.36300,0.36300)" font-size="100" fill="#000">40</text>
<text transform="translate(1303.96,2450.79) scale(0.36300,0.36300)" font-size="100" fill="#000">20</text>
<text transform="translate(1318.91,2599.29) scale(0.36300,0.36300)" font-size="100" fill="#000">0</text>
<text transform="translate(2263.14,1938.10) scale(0.36300,0.36300)" font-size="100" fill="#000">0.6120</text>
<text transform="translate(2263.14,2021.40) scale(0.36300,0.36300)" font-size="100" fill="#000">0.5393</text>
<text transform="translate(2263.14,2104.70) scale(0.36300,0.36300)" font-size="100" fill="#000">0.4665</text>
<text transform="translate(2263.14,2188.00) scale(0.36300,0.36300)" font-size="100" fill="#000">0.3938</text>
<text transform="translate(2263.14,2271.30) scale(0.36300,0.36300)" font-size="100" fill="#000">0.3210</text>
<text transform="translate(2263.14,2354.60) scale(0.36300,0.36300)" font-size="100" fill="#000">0.2483</text>
<text transform="translate(2263.14,2437.90) scale(0.36300,0.36300)" font-size="100" fill="#000">0.1755</text>
<text transform="translate(2263.14,2521.20) scale(0.36300,0.36300)" font-size="100" fill="#000">0.1028</text>
<text transform="translate(2263.14,2604.50) scale(0.36300,0.36300)" font-size="100" fill="#000">0.03000</text>
<polygon points="1370.0,2379.0 1378.4,2499.0 1378.4,2591.0 1370.0,2591.0" fill="#0000ff"/>
<polygon points="1409.0,2372.0 1427.3,2482.0 1427.3,2591.0 1409.0,2591.0" fill="#0012ff"/>
<polygon points="1511.0,2372.0 1506.0,2482.0 1506.0,2591.0 1511.0,2591.0" fill="#003bff"/>
</svg>
</body></html>
